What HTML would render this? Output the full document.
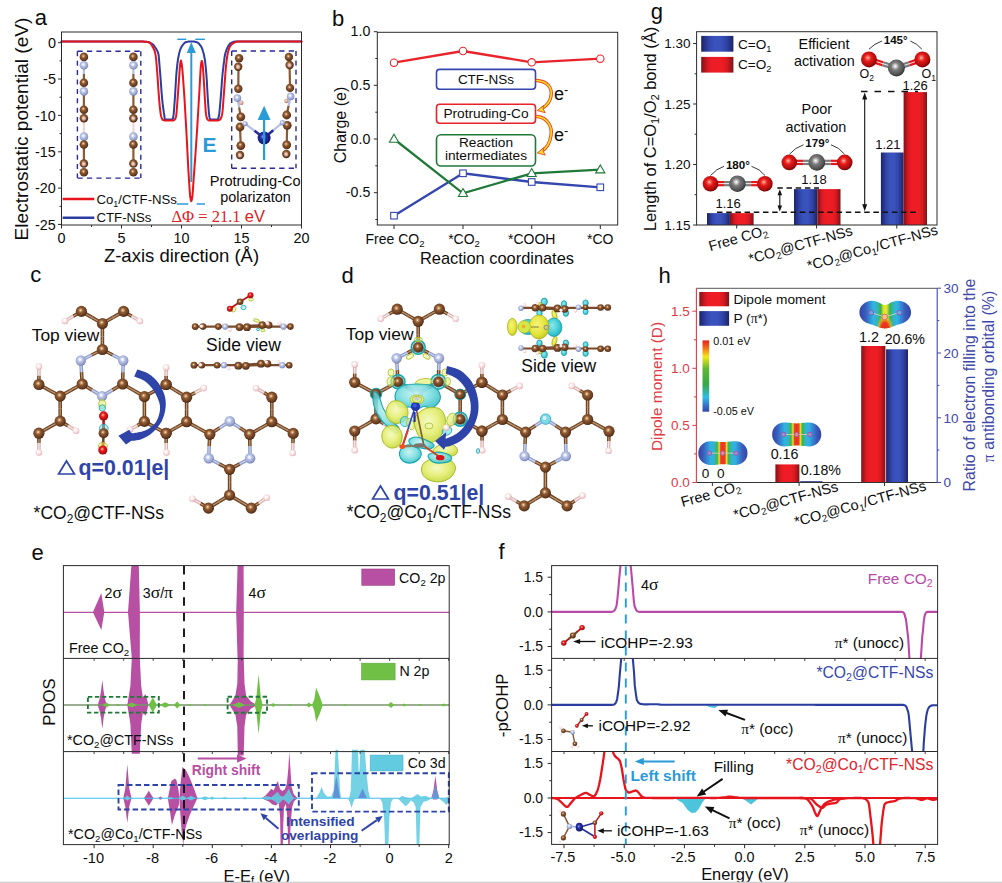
<!DOCTYPE html>
<html><head><meta charset="utf-8"><title>figure</title>
<style>html,body{margin:0;padding:0;background:#fff;}body{width:1002px;height:883px;overflow:hidden;font-family:"Liberation Sans", sans-serif;}svg{display:block;font-family:"Liberation Sans", sans-serif;}</style>
</head><body>
<svg width="1002" height="883" viewBox="0 0 1002 883">
<defs><radialGradient id="gC" cx="0.43" cy="0.4" r="0.64"><stop offset="0" stop-color="#fff2e2"/><stop offset="0.14" stop-color="#d0a070"/><stop offset="0.36" stop-color="#8c5832"/><stop offset="0.78" stop-color="#653a1e"/><stop offset="1" stop-color="#361c0c"/></radialGradient><radialGradient id="gN" cx="0.43" cy="0.4" r="0.64"><stop offset="0" stop-color="#ffffff"/><stop offset="0.14" stop-color="#eef2fc"/><stop offset="0.36" stop-color="#bcc6e6"/><stop offset="0.78" stop-color="#929ecb"/><stop offset="1" stop-color="#626e9e"/></radialGradient><radialGradient id="gH" cx="0.43" cy="0.4" r="0.64"><stop offset="0" stop-color="#ffffff"/><stop offset="0.14" stop-color="#ffffff"/><stop offset="0.36" stop-color="#fdeeee"/><stop offset="0.78" stop-color="#f0c8cc"/><stop offset="1" stop-color="#d49ca6"/></radialGradient><radialGradient id="gHs" cx="0.43" cy="0.4" r="0.64"><stop offset="0" stop-color="#fff8f4"/><stop offset="0.14" stop-color="#f4dcd4"/><stop offset="0.36" stop-color="#e0b8b0"/><stop offset="0.78" stop-color="#c09480"/><stop offset="1" stop-color="#8a5a40"/></radialGradient><radialGradient id="gO" cx="0.43" cy="0.4" r="0.64"><stop offset="0" stop-color="#ffe0d8"/><stop offset="0.14" stop-color="#ff7a68"/><stop offset="0.36" stop-color="#e8181c"/><stop offset="0.78" stop-color="#b80c10"/><stop offset="1" stop-color="#6a0406"/></radialGradient><radialGradient id="gCo" cx="0.43" cy="0.4" r="0.64"><stop offset="0" stop-color="#c8d0ff"/><stop offset="0.14" stop-color="#5a6ad8"/><stop offset="0.36" stop-color="#2530a0"/><stop offset="0.78" stop-color="#151c78"/><stop offset="1" stop-color="#080c44"/></radialGradient><radialGradient id="gG" cx="0.43" cy="0.4" r="0.64"><stop offset="0" stop-color="#ffffff"/><stop offset="0.14" stop-color="#d0d0d0"/><stop offset="0.36" stop-color="#7a7a7a"/><stop offset="0.78" stop-color="#505050"/><stop offset="1" stop-color="#222222"/></radialGradient><radialGradient id="gR" cx="0.43" cy="0.4" r="0.64"><stop offset="0" stop-color="#ffd8d0"/><stop offset="0.14" stop-color="#ff6a5c"/><stop offset="0.36" stop-color="#e41a1a"/><stop offset="0.78" stop-color="#a80c0c"/><stop offset="1" stop-color="#5a0303"/></radialGradient></defs>
<rect x="0" y="0" width="1002" height="883" fill="#ffffff"/>
<g id="pa"><path d="M61.5 41.6 L62 41.6 L62.5 41.6 L62.9 41.6 L63.4 41.6 L63.9 41.6 L64.4 41.6 L64.9 41.6 L65.3 41.6 L65.8 41.6 L66.3 41.6 L66.8 41.6 L67.3 41.6 L67.8 41.6 L68.2 41.6 L68.7 41.6 L69.2 41.6 L69.7 41.6 L70.2 41.6 L70.6 41.6 L71.1 41.6 L71.6 41.6 L72.1 41.6 L72.6 41.6 L73 41.6 L73.5 41.6 L74 41.6 L74.5 41.6 L75 41.6 L75.4 41.6 L75.9 41.6 L76.4 41.6 L76.9 41.6 L77.4 41.6 L77.9 41.6 L78.3 41.6 L78.8 41.6 L79.3 41.6 L79.8 41.6 L80.3 41.6 L80.7 41.6 L81.2 41.6 L81.7 41.6 L82.2 41.6 L82.7 41.6 L83.1 41.6 L83.6 41.6 L84.1 41.6 L84.6 41.6 L85.1 41.6 L85.5 41.6 L86 41.6 L86.5 41.6 L87 41.6 L87.5 41.6 L88 41.6 L88.4 41.6 L88.9 41.6 L89.4 41.6 L89.9 41.6 L90.4 41.6 L90.8 41.6 L91.3 41.6 L91.8 41.6 L92.3 41.6 L92.8 41.6 L93.2 41.6 L93.7 41.6 L94.2 41.6 L94.7 41.6 L95.2 41.6 L95.6 41.6 L96.1 41.6 L96.6 41.6 L97.1 41.6 L97.6 41.6 L98.1 41.6 L98.5 41.6 L99 41.6 L99.5 41.6 L100 41.6 L100.5 41.6 L100.9 41.6 L101.4 41.6 L101.9 41.6 L102.4 41.6 L102.9 41.6 L103.3 41.6 L103.8 41.6 L104.3 41.6 L104.8 41.6 L105.3 41.6 L105.7 41.6 L106.2 41.6 L106.7 41.6 L107.2 41.6 L107.7 41.6 L108.2 41.6 L108.6 41.6 L109.1 41.6 L109.6 41.6 L110.1 41.6 L110.6 41.6 L111 41.6 L111.5 41.6 L112 41.6 L112.5 41.6 L113 41.6 L113.4 41.6 L113.9 41.6 L114.4 41.6 L114.9 41.6 L115.4 41.6 L115.8 41.6 L116.3 41.6 L116.8 41.6 L117.3 41.6 L117.8 41.6 L118.3 41.6 L118.7 41.6 L119.2 41.6 L119.7 41.6 L120.2 41.6 L120.7 41.6 L121.1 41.6 L121.6 41.6 L122.1 41.6 L122.6 41.6 L123.1 41.6 L123.5 41.6 L124 41.6 L124.5 41.6 L125 41.6 L125.5 41.6 L125.9 41.6 L126.4 41.6 L126.9 41.6 L127.4 41.6 L127.9 41.6 L128.4 41.6 L128.8 41.6 L129.3 41.6 L129.8 41.6 L130.3 41.6 L130.8 41.6 L131.2 41.6 L131.7 41.6 L132.2 41.6 L132.7 41.6 L133.2 41.6 L133.6 41.6 L134.1 41.6 L134.6 41.6 L135.1 41.6 L135.6 41.6 L136 41.6 L136.5 41.6 L137 41.6 L137.5 41.6 L138 41.6 L138.5 41.6 L138.9 41.6 L139.4 41.6 L139.9 41.6 L140.4 41.6 L140.9 41.6 L141.3 41.6 L141.8 41.6 L142 41.6 L142.3 41.6 L142.8 41.6 L143.3 41.6 L143.7 41.6 L144.2 41.7 L144.7 41.7 L145.2 41.7 L145.7 41.8 L146.1 41.8 L146.6 41.8 L147.1 41.9 L147.6 42 L148 42 L148.1 42 L148.6 42.1 L149 42.2 L149.5 42.4 L150 42.6 L150.5 42.9 L151 43.1 L151.4 43.5 L151.9 43.8 L152.4 44.1 L152.9 44.5 L152.9 44.5 L153.4 44.9 L153.8 45.4 L154.3 46.1 L154.8 46.7 L155.3 47.5 L155.8 48.3 L155.9 48.5 L156.2 49.1 L156.7 49.8 L157.2 50.7 L157.7 51.8 L158.2 53.2 L158.4 54 L158.7 55.5 L159.1 60.3 L159.6 66.5 L159.9 70 L160.1 72.4 L160.6 78.9 L161.1 85.6 L161.4 89.9 L161.5 91.6 L162 97.2 L162.5 102.3 L162.9 106 L163 106.7 L163.5 110 L163.9 113 L164.4 116.2 L164.4 116.4 L164.7 119 L164.9 119.2 L165.4 119.5 L165.9 119.6 L165.9 119.6 L166.3 119.6 L166.8 119.6 L167.3 119.6 L167.8 119.6 L168.3 119.6 L168.8 119.6 L169.2 119.6 L169.7 119.6 L170.2 119.6 L170.7 119.6 L171.2 119.6 L171.6 119.6 L171.9 119.6 L172.1 119.5 L172.6 119 L172.9 118.5 L173.1 117.9 L173.6 114.9 L173.7 113.8 L174 110.3 L174.5 103.6 L174.9 98 L175 96.4 L175.5 87.9 L176 79.7 L176.1 77.9 L176.4 73.6 L176.9 68.2 L177.4 63.6 L177.9 59.9 L177.9 59.9 L178.4 57 L178.9 54.6 L179.3 52.6 L179.5 52 L179.8 50.9 L180.3 49.5 L180.8 48.2 L181.3 47.2 L181.5 46.8 L181.7 46.4 L182.2 45.7 L182.7 45.1 L183.2 44.4 L183.7 43.9 L184.1 43.4 L184.6 42.9 L185.1 42.5 L185.6 42.3 L186.1 42.1 L186.3 42 L186.6 41.9 L187 41.9 L187.5 41.8 L188 41.7 L188.5 41.6 L189 41.5 L189.4 41.5 L189.9 41.5 L190.4 41.4 L190.9 41.4 L191.3 41.4 L191.4 41.4 L191.8 41.4 L192.3 41.4 L192.8 41.5 L193.3 41.5 L193.8 41.6 L194.2 41.6 L194.7 41.7 L195.2 41.8 L195.7 41.9 L196.2 42 L196.3 42 L196.7 42.1 L197.1 42.3 L197.6 42.6 L198.1 42.9 L198.6 43.4 L199.1 43.8 L199.5 44.4 L200 45 L200.5 45.6 L201 46.3 L201.3 46.8 L201.5 47.1 L201.9 48.1 L202.4 49.4 L202.9 51 L203.2 52 L203.4 52.6 L203.9 54.5 L204.3 56.7 L204.8 59.4 L204.9 59.9 L205.3 63.1 L205.8 67.9 L206.3 73.6 L206.6 77.9 L206.8 80 L207.2 88.3 L207.7 96.7 L207.8 98 L208.2 103.9 L208.7 110.5 L209 113.8 L209.2 115 L209.6 118 L209.8 118.5 L210.1 119 L210.6 119.5 L210.8 119.6 L211.1 119.6 L211.6 119.6 L212 119.6 L212.5 119.6 L213 119.6 L213.5 119.6 L214 119.6 L214.4 119.6 L214.9 119.6 L215.4 119.6 L215.9 119.6 L216.4 119.6 L216.8 119.6 L216.9 119.6 L217.3 119.5 L217.8 119.2 L218 119 L218.3 118.4 L218.8 116.3 L219.2 113.8 L219.3 113.4 L219.7 109.3 L220.2 103.8 L220.7 98 L220.7 98 L221.2 91.7 L221.7 84.8 L222.1 78.6 L222.2 77.9 L222.6 73.5 L223.1 69 L223.6 64.9 L223.7 64 L224.1 61.2 L224.5 57.6 L225 54.8 L225.2 54 L225.5 52.8 L226 51.2 L226.5 49.8 L227 48.6 L227.4 47.6 L227.5 47.5 L227.9 46.7 L228.4 45.9 L228.9 45.1 L229.4 44.4 L229.8 43.8 L230.3 43.4 L230.6 43.2 L230.8 43.1 L231.3 42.8 L231.8 42.6 L232.2 42.4 L232.7 42.2 L233.2 42 L233.7 41.8 L234.2 41.7 L234.6 41.6 L235.1 41.6 L235.4 41.6 L235.6 41.6 L236.1 41.6 L236.6 41.6 L237.1 41.6 L237.5 41.6 L238 41.6 L238.5 41.6 L239 41.6 L239.5 41.6 L239.9 41.6 L240.4 41.6 L240.9 41.6 L241.4 41.6 L241.9 41.6 L242.3 41.6 L242.8 41.6 L243.3 41.6 L243.8 41.6 L244.3 41.6 L244.7 41.6 L245.2 41.6 L245.7 41.6 L246.2 41.6 L246.7 41.6 L247.2 41.6 L247.6 41.6 L248.1 41.6 L248.6 41.6 L249.1 41.6 L249.6 41.6 L250 41.6 L250.5 41.6 L251 41.6 L251.5 41.6 L252 41.6 L252.4 41.6 L252.9 41.6 L253.4 41.6 L253.9 41.6 L254.4 41.6 L254.8 41.6 L255.3 41.6 L255.8 41.6 L256.3 41.6 L256.8 41.6 L257.3 41.6 L257.7 41.6 L258.2 41.6 L258.7 41.6 L259.2 41.6 L259.7 41.6 L260.1 41.6 L260.6 41.6 L261.1 41.6 L261.6 41.6 L262.1 41.6 L262.5 41.6 L263 41.6 L263.5 41.6 L264 41.6 L264.5 41.6 L264.9 41.6 L265.4 41.6 L265.9 41.6 L266.4 41.6 L266.9 41.6 L267.4 41.6 L267.8 41.6 L268.3 41.6 L268.8 41.6 L269.3 41.6 L269.8 41.6 L270.2 41.6 L270.7 41.6 L271.2 41.6 L271.7 41.6 L272.2 41.6 L272.6 41.6 L273.1 41.6 L273.6 41.6 L274.1 41.6 L274.6 41.6 L275 41.6 L275.5 41.6 L276 41.6 L276.5 41.6 L277 41.6 L277.5 41.6 L277.9 41.6 L278.4 41.6 L278.9 41.6 L279.4 41.6 L279.9 41.6 L280.3 41.6 L280.8 41.6 L281.3 41.6 L281.8 41.6 L282.3 41.6 L282.7 41.6 L283.2 41.6 L283.7 41.6 L284.2 41.6 L284.7 41.6 L285.1 41.6 L285.6 41.6 L286.1 41.6 L286.6 41.6 L287.1 41.6 L287.6 41.6 L288 41.6 L288.5 41.6 L289 41.6 L289.5 41.6 L290 41.6 L290.4 41.6 L290.9 41.6 L291.4 41.6 L291.9 41.6 L292.4 41.6 L292.8 41.6 L293.3 41.6 L293.8 41.6 L294.3 41.6 L294.8 41.6 L295.2 41.6 L295.7 41.6 L296.2 41.6 L296.7 41.6 L297.2 41.6 L297.7 41.6 L298.1 41.6 L298.6 41.6 L299.1 41.6 L299.6 41.6 L300.1 41.6 L300.5 41.6 L301 41.6 L301.5 41.6" fill="none" stroke="#2b3ea0" stroke-width="2" stroke-linejoin="round" stroke-linecap="round"/>
<path d="M61.5 41.6 L61.9 41.6 L62.3 41.6 L62.7 41.6 L63.1 41.6 L63.5 41.6 L63.9 41.6 L64.3 41.6 L64.7 41.6 L65.1 41.6 L65.5 41.6 L65.9 41.6 L66.3 41.6 L66.7 41.6 L67.1 41.6 L67.5 41.6 L67.9 41.6 L68.3 41.6 L68.7 41.6 L69.1 41.6 L69.5 41.6 L69.9 41.6 L70.3 41.6 L70.7 41.6 L71.1 41.6 L71.5 41.6 L71.9 41.6 L72.3 41.6 L72.7 41.6 L73.1 41.6 L73.5 41.6 L73.9 41.6 L74.3 41.6 L74.7 41.6 L75.1 41.6 L75.5 41.6 L75.9 41.6 L76.3 41.6 L76.7 41.6 L77.1 41.6 L77.5 41.6 L77.9 41.6 L78.3 41.6 L78.7 41.6 L79.1 41.6 L79.5 41.6 L79.9 41.6 L80.3 41.6 L80.7 41.6 L81.1 41.6 L81.5 41.6 L81.9 41.6 L82.3 41.6 L82.7 41.6 L83.1 41.6 L83.5 41.6 L83.9 41.6 L84.3 41.6 L84.7 41.6 L85.1 41.6 L85.5 41.6 L85.9 41.6 L86.3 41.6 L86.7 41.6 L87.1 41.6 L87.5 41.6 L87.9 41.6 L88.3 41.6 L88.7 41.6 L89.1 41.6 L89.5 41.6 L89.9 41.6 L90.3 41.6 L90.7 41.6 L91.1 41.6 L91.6 41.6 L92 41.6 L92.4 41.6 L92.8 41.6 L93.2 41.6 L93.6 41.6 L94 41.6 L94.4 41.6 L94.8 41.6 L95.2 41.6 L95.6 41.6 L96 41.6 L96.4 41.6 L96.8 41.6 L97.2 41.6 L97.6 41.6 L98 41.6 L98.4 41.6 L98.8 41.6 L99.2 41.6 L99.6 41.6 L100 41.6 L100.4 41.6 L100.8 41.6 L101.2 41.6 L101.6 41.6 L102 41.6 L102.4 41.6 L102.8 41.6 L103.2 41.6 L103.6 41.6 L104 41.6 L104.4 41.6 L104.8 41.6 L105.2 41.6 L105.6 41.6 L106 41.6 L106.4 41.6 L106.8 41.6 L107.2 41.6 L107.6 41.6 L108 41.6 L108.4 41.6 L108.8 41.6 L109.2 41.6 L109.6 41.6 L110 41.6 L110.4 41.6 L110.8 41.6 L111.2 41.6 L111.6 41.6 L112 41.6 L112.4 41.6 L112.8 41.6 L113.2 41.6 L113.6 41.6 L114 41.6 L114.4 41.6 L114.8 41.6 L115.2 41.6 L115.6 41.6 L116 41.6 L116.4 41.6 L116.8 41.6 L117.2 41.6 L117.6 41.6 L118 41.6 L118.4 41.6 L118.8 41.6 L119.2 41.6 L119.6 41.6 L120 41.6 L120.4 41.6 L120.8 41.6 L121.2 41.6 L121.6 41.6 L122 41.6 L122.4 41.6 L122.8 41.6 L123.2 41.6 L123.6 41.6 L124 41.6 L124.4 41.6 L124.8 41.6 L125.2 41.6 L125.6 41.6 L126 41.6 L126.4 41.6 L126.8 41.6 L127.2 41.6 L127.6 41.6 L128 41.6 L128.4 41.6 L128.8 41.6 L129.2 41.6 L129.6 41.6 L130 41.6 L130.4 41.6 L130.8 41.6 L131.2 41.6 L131.6 41.6 L132 41.6 L132.4 41.6 L132.8 41.6 L133.2 41.6 L133.6 41.6 L134 41.6 L134.4 41.6 L134.8 41.6 L135.2 41.6 L135.6 41.6 L136 41.6 L136.4 41.6 L136.8 41.6 L137.2 41.6 L137.6 41.6 L138 41.6 L138.4 41.6 L138.8 41.6 L139.2 41.6 L139.6 41.6 L140 41.6 L140 41.6 L140.4 41.6 L140.8 41.6 L141.2 41.6 L141.6 41.6 L142 41.6 L142.4 41.6 L142.8 41.6 L143.2 41.6 L143.6 41.7 L144 41.7 L144.4 41.7 L144.8 41.7 L145.2 41.7 L145.6 41.7 L146 41.8 L146.4 41.8 L146.8 41.8 L146.8 41.8 L147.2 41.9 L147.6 41.9 L148 42.1 L148.4 42.2 L148.8 42.4 L149.2 42.6 L149.6 42.8 L150 43 L150 43 L150.4 43.4 L150.8 43.8 L151.2 44.4 L151.7 45.1 L152.1 45.8 L152.5 46.5 L152.7 47 L152.9 47.3 L153.3 48 L153.7 48.8 L154.1 49.7 L154.5 50.7 L154.9 51.9 L155.3 53.4 L155.4 54 L155.7 55.5 L156.1 59 L156.5 63.5 L156.9 68.3 L157 70 L157.3 73.3 L157.7 79.1 L158.1 85.1 L158.4 89.9 L158.5 90.7 L158.9 96.1 L159.3 101.3 L159.7 105.7 L159.7 106 L160.1 109.3 L160.5 112.6 L160.9 115.2 L161.1 116.2 L161.3 116.8 L161.7 118 L162.1 119 L162.5 119.6 L162.7 119.8 L162.9 119.9 L163.3 120.1 L163.7 120.2 L164.1 120.3 L164.5 120.4 L164.7 120.4 L164.9 120.4 L165.3 120.4 L165.7 120.4 L166.1 120.4 L166.5 120.4 L166.9 120.4 L167.3 120.4 L167.7 120.4 L168.1 120.4 L168.5 120.4 L168.9 120.4 L169.3 120.4 L169.7 120.4 L170.1 120.4 L170.5 120.4 L170.9 120.4 L171.3 120.4 L171.7 120.4 L172.1 120.4 L172.5 120.4 L172.9 120.4 L173.1 120.4 L173.3 120.4 L173.7 120.3 L174.1 120.1 L174.5 119.8 L174.8 119.5 L174.9 119.4 L175.3 118.8 L175.7 117.7 L176.1 116.2 L176.1 116.2 L176.5 113.3 L176.9 108.3 L177.3 102.7 L177.5 100 L177.7 97.5 L178.1 92 L178.5 86.3 L178.9 80.6 L179.1 77.9 L179.3 75.2 L179.7 69.4 L180.1 64.8 L180.2 64 L180.5 62 L180.9 60.5 L180.9 60.5 L181.3 61.7 L181.7 64 L181.7 64 L182.1 67 L182.5 71.2 L182.9 76.1 L183.3 81.5 L183.7 87.2 L183.9 89.9 L184.1 92.8 L184.5 98.9 L184.9 105.5 L185.3 112.4 L185.7 119.5 L186.1 126.6 L186.3 130 L186.5 133.7 L186.9 141.3 L187.3 149.1 L187.7 157 L188.1 164.7 L188.5 172 L188.9 178.7 L189 180 L189.3 184.8 L189.7 190.8 L190.1 195.6 L190.3 197 L190.5 198.3 L190.9 200.4 L191.3 201.2 L191.3 201.2 L191.7 200.2 L192.1 198.1 L192.3 197 L192.5 195.2 L192.9 190.1 L193.3 184.1 L193.6 180 L193.7 178.4 L194.1 172.9 L194.5 167.4 L194.9 161.8 L195.3 156.2 L195.7 150.5 L196.1 144.7 L196.5 138.7 L196.9 132.7 L197.1 130 L197.3 126.4 L197.7 119.9 L198.1 113.2 L198.5 106.3 L198.9 99.5 L199.3 92.7 L199.5 89.9 L199.7 85.8 L200.1 78.1 L200.5 70.7 L200.9 65.3 L201.1 64 L201.3 62.7 L201.7 61.1 L201.9 60.9 L202.1 61.4 L202.5 63.6 L202.6 64 L202.9 67.1 L203.3 72.5 L203.7 77.9 L203.7 78.4 L204.1 85 L204.5 92.2 L204.9 99.1 L205 100 L205.3 105.5 L205.7 111.3 L206 113.8 L206.1 114.7 L206.5 116.7 L206.9 118.2 L207.3 119 L207.3 119.1 L207.7 119.6 L208.1 120 L208.5 120.3 L208.9 120.4 L209 120.4 L209.3 120.4 L209.7 120.4 L210.1 120.4 L210.5 120.4 L210.9 120.4 L211.3 120.4 L211.8 120.4 L212.2 120.4 L212.6 120.4 L213 120.4 L213.4 120.4 L213.8 120.4 L214.2 120.4 L214.6 120.4 L215 120.4 L215.4 120.4 L215.8 120.4 L216.2 120.4 L216.6 120.4 L217 120.4 L217.4 120.4 L217.8 120.4 L218 120.4 L218.2 120.4 L218.6 120.3 L219 120.2 L219.4 119.9 L219.8 119.7 L220 119.5 L220.2 119.4 L220.6 118.8 L221 118 L221.4 116.9 L221.8 115.6 L222.2 113.9 L222.2 113.8 L222.6 110.9 L223 105.8 L223.4 100.4 L223.4 100 L223.8 95.2 L224.2 89.7 L224.6 84.3 L224.6 83.9 L225 78.8 L225.4 73.3 L225.8 68.4 L226 66 L226.2 64.4 L226.6 60.8 L227 57.7 L227.4 55.1 L227.6 54 L227.8 53.2 L228.2 51.6 L228.6 50.1 L229 48.8 L229.4 47.7 L229.8 46.9 L230 46.5 L230.2 46.2 L230.6 45.7 L231 45.2 L231.4 44.7 L231.8 44.3 L232.2 43.9 L232.6 43.6 L233 43.3 L233.4 43 L233.8 42.8 L234.2 42.6 L234.2 42.6 L234.6 42.4 L235 42.3 L235.4 42.1 L235.8 42 L236.2 41.9 L236.6 41.7 L237 41.7 L237.4 41.6 L237.8 41.6 L237.8 41.6 L238.2 41.6 L238.6 41.6 L239 41.6 L239.4 41.6 L239.8 41.6 L240.2 41.6 L240.6 41.6 L241 41.6 L241.4 41.6 L241.8 41.6 L242.2 41.6 L242.6 41.6 L243 41.6 L243.4 41.6 L243.8 41.6 L244.2 41.6 L244.6 41.6 L245 41.6 L245.4 41.6 L245.8 41.6 L246.2 41.6 L246.6 41.6 L247 41.6 L247.4 41.6 L247.8 41.6 L248.2 41.6 L248.6 41.6 L249 41.6 L249.4 41.6 L249.8 41.6 L250.2 41.6 L250.6 41.6 L251 41.6 L251.4 41.6 L251.8 41.6 L252.2 41.6 L252.6 41.6 L253 41.6 L253.4 41.6 L253.8 41.6 L254.2 41.6 L254.6 41.6 L255 41.6 L255.4 41.6 L255.8 41.6 L256.2 41.6 L256.6 41.6 L257 41.6 L257.4 41.6 L257.8 41.6 L258.2 41.6 L258.6 41.6 L259 41.6 L259.4 41.6 L259.8 41.6 L260.2 41.6 L260.6 41.6 L261 41.6 L261.4 41.6 L261.8 41.6 L262.2 41.6 L262.6 41.6 L263 41.6 L263.4 41.6 L263.8 41.6 L264.2 41.6 L264.6 41.6 L265 41.6 L265.4 41.6 L265.8 41.6 L266.2 41.6 L266.6 41.6 L267 41.6 L267.4 41.6 L267.8 41.6 L268.2 41.6 L268.6 41.6 L269 41.6 L269.4 41.6 L269.8 41.6 L270.2 41.6 L270.6 41.6 L271 41.6 L271.4 41.6 L271.9 41.6 L272.3 41.6 L272.7 41.6 L273.1 41.6 L273.5 41.6 L273.9 41.6 L274.3 41.6 L274.7 41.6 L275.1 41.6 L275.5 41.6 L275.9 41.6 L276.3 41.6 L276.7 41.6 L277.1 41.6 L277.5 41.6 L277.9 41.6 L278.3 41.6 L278.7 41.6 L279.1 41.6 L279.5 41.6 L279.9 41.6 L280.3 41.6 L280.7 41.6 L281.1 41.6 L281.5 41.6 L281.9 41.6 L282.3 41.6 L282.7 41.6 L283.1 41.6 L283.5 41.6 L283.9 41.6 L284.3 41.6 L284.7 41.6 L285.1 41.6 L285.5 41.6 L285.9 41.6 L286.3 41.6 L286.7 41.6 L287.1 41.6 L287.5 41.6 L287.9 41.6 L288.3 41.6 L288.7 41.6 L289.1 41.6 L289.5 41.6 L289.9 41.6 L290.3 41.6 L290.7 41.6 L291.1 41.6 L291.5 41.6 L291.9 41.6 L292.3 41.6 L292.7 41.6 L293.1 41.6 L293.5 41.6 L293.9 41.6 L294.3 41.6 L294.7 41.6 L295.1 41.6 L295.5 41.6 L295.9 41.6 L296.3 41.6 L296.7 41.6 L297.1 41.6 L297.5 41.6 L297.9 41.6 L298.3 41.6 L298.7 41.6 L299.1 41.6 L299.5 41.6 L299.9 41.6 L300.3 41.6 L300.7 41.6 L301.1 41.6 L301.5 41.6" fill="none" stroke="#e8141c" stroke-width="2" stroke-linejoin="round" stroke-linecap="round"/>
<line x1="191.3" y1="50" x2="191.3" y2="182" stroke="#2b9bd8" stroke-width="2"/>
<path d="M191.3 42 L195.8 53 L186.8 53 Z" fill="#2b9bd8"/>
<line x1="177.3" y1="39.3" x2="186.3" y2="39.3" stroke="#2b9bd8" stroke-width="1.5"/>
<line x1="195.3" y1="39.3" x2="204.9" y2="39.3" stroke="#2b9bd8" stroke-width="1.5"/>
<line x1="176.7" y1="204" x2="188.3" y2="204" stroke="#2b9bd8" stroke-width="1.5"/>
<line x1="196.7" y1="204" x2="205" y2="204" stroke="#2b9bd8" stroke-width="1.5"/>
<text x="202.5" y="151.7" font-size="21" fill="#2b9bd8" font-weight="bold">E</text>
<rect x="61.5" y="32" width="240" height="193" fill="none" stroke="#2a2a2a" stroke-width="1"/>
<line x1="58" y1="42.7" x2="61.5" y2="42.7" stroke="#2a2a2a" stroke-width="1"/>
<text x="55.9" y="47.8" font-size="14.4" text-anchor="end" fill="#0c0c0c">0</text>
<line x1="58" y1="79" x2="61.5" y2="79" stroke="#2a2a2a" stroke-width="1"/>
<text x="55.9" y="84.1" font-size="14.4" text-anchor="end" fill="#0c0c0c">-5</text>
<line x1="58" y1="115.4" x2="61.5" y2="115.4" stroke="#2a2a2a" stroke-width="1"/>
<text x="55.9" y="120.5" font-size="14.4" text-anchor="end" fill="#0c0c0c">-10</text>
<line x1="58" y1="151.8" x2="61.5" y2="151.8" stroke="#2a2a2a" stroke-width="1"/>
<text x="55.9" y="156.8" font-size="14.4" text-anchor="end" fill="#0c0c0c">-15</text>
<line x1="58" y1="188.1" x2="61.5" y2="188.1" stroke="#2a2a2a" stroke-width="1"/>
<text x="55.9" y="193.2" font-size="14.4" text-anchor="end" fill="#0c0c0c">-20</text>
<line x1="58" y1="224.4" x2="61.5" y2="224.4" stroke="#2a2a2a" stroke-width="1"/>
<text x="55.9" y="229.5" font-size="14.4" text-anchor="end" fill="#0c0c0c">-25</text>
<line x1="59.5" y1="60.9" x2="61.5" y2="60.9" stroke="#2a2a2a" stroke-width="1"/>
<line x1="59.5" y1="97.2" x2="61.5" y2="97.2" stroke="#2a2a2a" stroke-width="1"/>
<line x1="59.5" y1="133.6" x2="61.5" y2="133.6" stroke="#2a2a2a" stroke-width="1"/>
<line x1="59.5" y1="169.9" x2="61.5" y2="169.9" stroke="#2a2a2a" stroke-width="1"/>
<line x1="59.5" y1="206.3" x2="61.5" y2="206.3" stroke="#2a2a2a" stroke-width="1"/>
<line x1="61.5" y1="225" x2="61.5" y2="228.5" stroke="#2a2a2a" stroke-width="1"/>
<text x="61.5" y="243.3" font-size="14.4" text-anchor="middle" fill="#0c0c0c">0</text>
<line x1="121.5" y1="225" x2="121.5" y2="228.5" stroke="#2a2a2a" stroke-width="1"/>
<text x="121.5" y="243.3" font-size="14.4" text-anchor="middle" fill="#0c0c0c">5</text>
<line x1="181.5" y1="225" x2="181.5" y2="228.5" stroke="#2a2a2a" stroke-width="1"/>
<text x="181.5" y="243.3" font-size="14.4" text-anchor="middle" fill="#0c0c0c">10</text>
<line x1="241.5" y1="225" x2="241.5" y2="228.5" stroke="#2a2a2a" stroke-width="1"/>
<text x="241.5" y="243.3" font-size="14.4" text-anchor="middle" fill="#0c0c0c">15</text>
<line x1="301.5" y1="225" x2="301.5" y2="228.5" stroke="#2a2a2a" stroke-width="1"/>
<text x="301.5" y="243.3" font-size="14.4" text-anchor="middle" fill="#0c0c0c">20</text>
<line x1="91.5" y1="225" x2="91.5" y2="227" stroke="#2a2a2a" stroke-width="1"/>
<line x1="151.5" y1="225" x2="151.5" y2="227" stroke="#2a2a2a" stroke-width="1"/>
<line x1="211.5" y1="225" x2="211.5" y2="227" stroke="#2a2a2a" stroke-width="1"/>
<line x1="271.5" y1="225" x2="271.5" y2="227" stroke="#2a2a2a" stroke-width="1"/>
<text x="181.5" y="262" font-size="18.5" text-anchor="middle" fill="#0c0c0c">Z-axis direction (&#197;)</text>
<text x="27.6" y="129" font-size="19.1" text-anchor="middle" fill="#0c0c0c" transform="rotate(-90 27.6 129)">Electrostatic potential (eV)</text>
<text x="34.8" y="24.5" font-size="22" fill="#0c0c0c">a</text>
<line x1="77.4" y1="51.3" x2="140.8" y2="51.3" stroke="#2a2a98" stroke-width="1.4" stroke-dasharray="5.3 4.2"/><line x1="77.4" y1="178.1" x2="140.8" y2="178.1" stroke="#2a2a98" stroke-width="1.4" stroke-dasharray="5.3 4.2"/><line x1="77.4" y1="51.3" x2="77.4" y2="178.1" stroke="#2a2a98" stroke-width="1.4" stroke-dasharray="5 4.4"/><line x1="140.8" y1="51.3" x2="140.8" y2="178.1" stroke="#2a2a98" stroke-width="1.4" stroke-dasharray="5 4.4"/>
<line x1="83.9" y1="65.3" x2="83.9" y2="74" stroke="#b4c0e4" stroke-width="2.2"/><line x1="83.9" y1="74" x2="83.9" y2="82.7" stroke="#8a5a36" stroke-width="2.2"/>
<line x1="83.9" y1="91.4" x2="83.9" y2="109.7" stroke="#8a5a36" stroke-width="2.2" stroke-linecap="round"/>
<line x1="83.9" y1="118.2" x2="83.9" y2="127.4" stroke="#f0d4d4" stroke-width="2.2"/><line x1="83.9" y1="127.4" x2="83.9" y2="136.6" stroke="#f0d4d4" stroke-width="2.2"/>
<line x1="83.9" y1="144.5" x2="83.9" y2="163.5" stroke="#8a5a36" stroke-width="2.2" stroke-linecap="round"/>
<circle cx="83.9" cy="56.9" r="4.3" fill="url(#gC)"/>
<circle cx="83.9" cy="65.3" r="4.3" fill="url(#gN)"/>
<circle cx="83.9" cy="82.7" r="4.3" fill="url(#gC)"/>
<circle cx="83.9" cy="91.4" r="4.3" fill="url(#gN)"/>
<circle cx="83.9" cy="109.7" r="4.3" fill="url(#gC)"/>
<circle cx="83.9" cy="118.2" r="4.3" fill="url(#gC)"/>
<circle cx="83.9" cy="136.6" r="4.3" fill="url(#gN)"/>
<circle cx="83.9" cy="144.5" r="4.3" fill="url(#gC)"/>
<circle cx="83.9" cy="163.5" r="4.3" fill="url(#gC)"/>
<circle cx="83.9" cy="172.2" r="4.3" fill="url(#gC)"/>
<circle cx="83.9" cy="118.6" r="2.3" fill="url(#gHs)"/>
<circle cx="83.9" cy="164.2" r="2.3" fill="url(#gHs)"/>
<line x1="133.4" y1="65.3" x2="133.4" y2="74" stroke="#b4c0e4" stroke-width="2.2"/><line x1="133.4" y1="74" x2="133.4" y2="82.7" stroke="#8a5a36" stroke-width="2.2"/>
<line x1="133.4" y1="91.4" x2="133.4" y2="109.7" stroke="#8a5a36" stroke-width="2.2" stroke-linecap="round"/>
<line x1="133.4" y1="118.2" x2="133.4" y2="127.4" stroke="#f0d4d4" stroke-width="2.2"/><line x1="133.4" y1="127.4" x2="133.4" y2="136.6" stroke="#f0d4d4" stroke-width="2.2"/>
<line x1="133.4" y1="144.5" x2="133.4" y2="163.5" stroke="#8a5a36" stroke-width="2.2" stroke-linecap="round"/>
<circle cx="133.4" cy="56.9" r="4.3" fill="url(#gC)"/>
<circle cx="133.4" cy="65.3" r="4.3" fill="url(#gN)"/>
<circle cx="133.4" cy="82.7" r="4.3" fill="url(#gC)"/>
<circle cx="133.4" cy="91.4" r="4.3" fill="url(#gN)"/>
<circle cx="133.4" cy="109.7" r="4.3" fill="url(#gC)"/>
<circle cx="133.4" cy="118.2" r="4.3" fill="url(#gC)"/>
<circle cx="133.4" cy="136.6" r="4.3" fill="url(#gN)"/>
<circle cx="133.4" cy="144.5" r="4.3" fill="url(#gC)"/>
<circle cx="133.4" cy="163.5" r="4.3" fill="url(#gC)"/>
<circle cx="133.4" cy="172.2" r="4.3" fill="url(#gC)"/>
<circle cx="133.4" cy="118.6" r="2.3" fill="url(#gHs)"/>
<circle cx="133.4" cy="164.2" r="2.3" fill="url(#gHs)"/>
<line x1="231.7" y1="51" x2="296" y2="51" stroke="#2a2a98" stroke-width="1.4" stroke-dasharray="5.3 4.2"/><line x1="231.7" y1="168.3" x2="296" y2="168.3" stroke="#2a2a98" stroke-width="1.4" stroke-dasharray="5.3 4.2"/><line x1="231.7" y1="51" x2="231.7" y2="168.3" stroke="#2a2a98" stroke-width="1.4" stroke-dasharray="5 4.4"/><line x1="296" y1="51" x2="296" y2="168.3" stroke="#2a2a98" stroke-width="1.4" stroke-dasharray="5 4.4"/>
<line x1="238.5" y1="66" x2="238.3" y2="88.8" stroke="#8a5a36" stroke-width="2.2" stroke-linecap="round"/>
<line x1="237.4" y1="98.1" x2="239.1" y2="107.4" stroke="#b4c0e4" stroke-width="2.2"/><line x1="239.1" y1="107.4" x2="240.8" y2="116.8" stroke="#8a5a36" stroke-width="2.2"/>
<line x1="240" y1="127" x2="240.8" y2="145.6" stroke="#8a5a36" stroke-width="2.2" stroke-linecap="round"/>
<line x1="245" y1="123.6" x2="264.1" y2="138" stroke="#b4c0e4" stroke-width="2.2"/>
<line x1="254.5" y1="130.8" x2="264.1" y2="138" stroke="#27309a" stroke-width="2.6"/>
<line x1="282.4" y1="122.7" x2="264.1" y2="138" stroke="#b4c0e4" stroke-width="2.2"/>
<line x1="273.2" y1="130.3" x2="264.1" y2="138" stroke="#27309a" stroke-width="2.6"/>
<line x1="289.6" y1="65" x2="290" y2="87.9" stroke="#8a5a36" stroke-width="2.2" stroke-linecap="round"/>
<line x1="290.6" y1="96.4" x2="288.6" y2="105.7" stroke="#b4c0e4" stroke-width="2.2"/><line x1="288.6" y1="105.7" x2="286.7" y2="115" stroke="#8a5a36" stroke-width="2.2"/>
<line x1="287.2" y1="125.3" x2="286.7" y2="144.8" stroke="#8a5a36" stroke-width="2.2" stroke-linecap="round"/>
<circle cx="239.1" cy="58.2" r="4.2" fill="url(#gC)"/>
<circle cx="238.2" cy="66.7" r="4.2" fill="url(#gC)"/>
<circle cx="238.3" cy="88.8" r="4.2" fill="url(#gC)"/>
<circle cx="237.4" cy="98.1" r="3.8" fill="url(#gN)"/>
<circle cx="240.8" cy="116.8" r="4.4" fill="url(#gC)"/>
<circle cx="240" cy="127" r="4.4" fill="url(#gC)"/>
<circle cx="245" cy="123.6" r="2.6" fill="url(#gN)"/>
<circle cx="240.8" cy="145.6" r="4.4" fill="url(#gC)"/>
<circle cx="240" cy="155" r="4.2" fill="url(#gC)"/>
<circle cx="288.9" cy="57" r="4.2" fill="url(#gC)"/>
<circle cx="289.6" cy="65" r="4.2" fill="url(#gC)"/>
<circle cx="290" cy="87.9" r="4.2" fill="url(#gC)"/>
<circle cx="290.6" cy="96.4" r="3.8" fill="url(#gN)"/>
<circle cx="286.7" cy="115" r="4.4" fill="url(#gC)"/>
<circle cx="287.2" cy="125.3" r="4.4" fill="url(#gC)"/>
<circle cx="282.4" cy="122.7" r="2.6" fill="url(#gN)"/>
<circle cx="286.7" cy="144.8" r="4.4" fill="url(#gC)"/>
<circle cx="286.3" cy="154" r="4.2" fill="url(#gC)"/>
<circle cx="238.2" cy="67.2" r="2.2" fill="url(#gHs)"/>
<circle cx="241.3" cy="102.7" r="2.2" fill="url(#gHs)"/>
<circle cx="240" cy="155.5" r="2.2" fill="url(#gHs)"/>
<circle cx="289.6" cy="65.5" r="2.2" fill="url(#gHs)"/>
<circle cx="286.3" cy="101" r="2.2" fill="url(#gHs)"/>
<circle cx="286.3" cy="154.5" r="2.2" fill="url(#gHs)"/>
<circle cx="264.1" cy="138" r="6.5" fill="url(#gCo)"/>
<line x1="264.1" y1="117" x2="264.1" y2="160" stroke="#2b9bd8" stroke-width="2.2"/>
<path d="M264.1 105.7 L270.5 120.1 L257.7 120.1 Z" fill="#2b9bd8"/>
<text x="255.3" y="185.5" font-size="14.6" text-anchor="middle" fill="#0c0c0c">Protruding-Co</text>
<text x="255.5" y="202" font-size="14.4" text-anchor="middle" fill="#0c0c0c">polarizaton</text>
<line x1="62.7" y1="199" x2="94.3" y2="199" stroke="#e8141c" stroke-width="2.4"/>
<line x1="62.7" y1="217.7" x2="94.3" y2="217.7" stroke="#2b3ea0" stroke-width="2.4"/>
<text x="96.5" y="203.5" font-size="13.2" fill="#0c0c0c">Co<tspan dy="3" font-size="68%">1</tspan><tspan dy="-3">&#8203;</tspan>/CTF-NSs</text>
<text x="96.5" y="222.3" font-size="13.2" fill="#0c0c0c">CTF-NSs</text>
<text x="171.5" y="222" font-size="16.5" fill="#e02020" style="font-family:'Liberation Serif',serif">&#916;&#934; = 21.1 <tspan style="font-family:'Liberation Sans',sans-serif">eV</tspan></text></g>
<g id="pb"><rect x="377.3" y="32.3" width="240.4" height="192.7" fill="none" stroke="#2a2a2a" stroke-width="1"/>
<path d="M394 215.7 L463 173.3 L531.7 182 L600.3 187.3" fill="none" stroke="#3546ae" stroke-width="2.3"/>
<path d="M394 139 L463 193.3 L531.7 173.3 L600.3 169.7" fill="none" stroke="#1f7a38" stroke-width="2.3"/>
<path d="M394 62.7 L463 51 L531.7 62.3 L600.3 58.7" fill="none" stroke="#e8232b" stroke-width="2.3"/>
<rect x="390.7" y="212.4" width="6.6" height="6.6" fill="#fff" stroke="#3546ae" stroke-width="1.1"/>
<rect x="459.7" y="170" width="6.6" height="6.6" fill="#fff" stroke="#3546ae" stroke-width="1.1"/>
<rect x="528.4" y="178.7" width="6.6" height="6.6" fill="#fff" stroke="#3546ae" stroke-width="1.1"/>
<rect x="597" y="184" width="6.6" height="6.6" fill="#fff" stroke="#3546ae" stroke-width="1.1"/>
<path d="M394 134.2 L398.6 142.2 L389.4 142.2 Z" fill="#fff" stroke="#1f7a38" stroke-width="1.1"/>
<path d="M463 188.5 L467.6 196.5 L458.4 196.5 Z" fill="#fff" stroke="#1f7a38" stroke-width="1.1"/>
<path d="M531.7 168.5 L536.3 176.5 L527.1 176.5 Z" fill="#fff" stroke="#1f7a38" stroke-width="1.1"/>
<path d="M600.3 164.9 L604.9 172.9 L595.7 172.9 Z" fill="#fff" stroke="#1f7a38" stroke-width="1.1"/>
<circle cx="394" cy="62.7" r="3.7" fill="#fff" stroke="#e8232b" stroke-width="1.1"/>
<circle cx="463" cy="51" r="3.7" fill="#fff" stroke="#e8232b" stroke-width="1.1"/>
<circle cx="531.7" cy="62.3" r="3.7" fill="#fff" stroke="#e8232b" stroke-width="1.1"/>
<circle cx="600.3" cy="58.7" r="3.7" fill="#fff" stroke="#e8232b" stroke-width="1.1"/>
<line x1="373.8" y1="31.7" x2="377.3" y2="31.7" stroke="#2a2a2a" stroke-width="1"/>
<text x="370.3" y="36.3" font-size="14.2" text-anchor="end" fill="#0c0c0c">1.0</text>
<line x1="373.8" y1="85.3" x2="377.3" y2="85.3" stroke="#2a2a2a" stroke-width="1"/>
<text x="370.3" y="89.9" font-size="14.2" text-anchor="end" fill="#0c0c0c">0.5</text>
<line x1="373.8" y1="139" x2="377.3" y2="139" stroke="#2a2a2a" stroke-width="1"/>
<text x="370.3" y="143.6" font-size="14.2" text-anchor="end" fill="#0c0c0c">0.0</text>
<line x1="373.8" y1="192.7" x2="377.3" y2="192.7" stroke="#2a2a2a" stroke-width="1"/>
<text x="370.3" y="197.2" font-size="14.2" text-anchor="end" fill="#0c0c0c">-0.5</text>
<line x1="375.3" y1="58.5" x2="377.3" y2="58.5" stroke="#2a2a2a" stroke-width="1"/>
<line x1="375.3" y1="112.2" x2="377.3" y2="112.2" stroke="#2a2a2a" stroke-width="1"/>
<line x1="375.3" y1="165.8" x2="377.3" y2="165.8" stroke="#2a2a2a" stroke-width="1"/>
<line x1="375.3" y1="219.5" x2="377.3" y2="219.5" stroke="#2a2a2a" stroke-width="1"/>
<line x1="394" y1="225" x2="394" y2="229" stroke="#2a2a2a" stroke-width="1"/>
<line x1="463" y1="225" x2="463" y2="229" stroke="#2a2a2a" stroke-width="1"/>
<line x1="531.7" y1="225" x2="531.7" y2="229" stroke="#2a2a2a" stroke-width="1"/>
<line x1="600.3" y1="225" x2="600.3" y2="229" stroke="#2a2a2a" stroke-width="1"/>
<text x="395" y="243.5" font-size="14" text-anchor="middle" fill="#0c0c0c">Free CO<tspan dy="3" font-size="68%">2</tspan><tspan dy="-3">&#8203;</tspan></text>
<text x="464" y="243.5" font-size="14" text-anchor="middle" fill="#0c0c0c">*CO<tspan dy="3" font-size="68%">2</tspan><tspan dy="-3">&#8203;</tspan></text>
<text x="531.7" y="243.5" font-size="14" text-anchor="middle" fill="#0c0c0c">*COOH</text>
<text x="600.3" y="243.5" font-size="14" text-anchor="middle" fill="#0c0c0c">*CO</text>
<text x="497" y="263.5" font-size="16.4" text-anchor="middle" fill="#0c0c0c">Reaction coordinates</text>
<text x="345.5" y="125" font-size="16" text-anchor="middle" fill="#0c0c0c" transform="rotate(-90 345.5 125)">Charge (e)</text>
<text x="332.1" y="25.5" font-size="22" fill="#0c0c0c">b</text>
<rect x="436.5" y="69.4" width="99" height="19.9" fill="#fff" stroke="#3546ae" stroke-width="1.6" rx="3.2"/>
<rect x="436.5" y="104.2" width="99" height="19.1" fill="#fff" stroke="#e8232b" stroke-width="1.6" rx="3.2"/>
<rect x="436.5" y="134.8" width="99" height="31.2" fill="#fff" stroke="#1f7a38" stroke-width="1.6" rx="4.5"/>
<text x="486" y="84.2" font-size="13.5" text-anchor="middle" fill="#0c0c0c">CTF-NSs</text>
<text x="486" y="118.4" font-size="13.7" text-anchor="middle" fill="#0c0c0c">Protruding-Co</text>
<text x="486" y="146.8" font-size="13.7" text-anchor="middle" fill="#0c0c0c">Reaction</text>
<text x="486" y="159.6" font-size="13.7" text-anchor="middle" fill="#0c0c0c">intermediates</text>
<linearGradient id="yarr" x1="0" y1="0" x2="0" y2="1"><stop offset="0" stop-color="#f0e020"/><stop offset="1" stop-color="#ffd820"/></linearGradient>
<path d="M537 80.5 C548 81.5 552.5 88.2 551 96.2 C550 103.2 546 106 542 108.5" fill="none" stroke="#e8452a" stroke-width="3.4" stroke-linecap="round"/><path d="M537 80.5 C548 81.5 552.5 88.2 551 96.2 C550 103.2 546 106 542 108.5" fill="none" stroke="#f2e21c" stroke-width="1.6" stroke-linecap="round"/><path d="M537.3 110.5 L543.8 105.3 L543.1 108.9 L545.3 112.7 Z" fill="#f2e21c" stroke="#e8452a" stroke-width="0.9" stroke-linejoin="round"/>
<path d="M537 116.5 C548 117.5 552.5 127.4 551 135.4 C550 142.4 546 148.4 542 150.9" fill="none" stroke="#e8452a" stroke-width="3.4" stroke-linecap="round"/><path d="M537 116.5 C548 117.5 552.5 127.4 551 135.4 C550 142.4 546 148.4 542 150.9" fill="none" stroke="#f2e21c" stroke-width="1.6" stroke-linecap="round"/><path d="M537.3 152.9 L543.8 147.7 L543.1 151.3 L545.3 155.1 Z" fill="#f2e21c" stroke="#e8452a" stroke-width="0.9" stroke-linejoin="round"/>
<text x="554" y="99.7" font-size="18" fill="#0c0c0c">e<tspan dy="-6" font-size="70%">-</tspan><tspan dy="6">&#8203;</tspan></text>
<text x="554" y="141.2" font-size="18" fill="#0c0c0c">e<tspan dy="-6" font-size="70%">-</tspan><tspan dy="6">&#8203;</tspan></text></g>
<g id="pc"><text x="31.7" y="341.2" font-size="17.4" fill="#0c0c0c">Top view</text>
<line x1="81.4" y1="311.4" x2="91.9" y2="317.4" stroke="#6e4426" stroke-width="3.6"/>
<line x1="91.9" y1="317.4" x2="102.4" y2="323.5" stroke="#6e4426" stroke-width="3.6"/>
<line x1="81.4" y1="311.4" x2="91.9" y2="317.4" stroke="#c09870" stroke-width="1.2"/>
<line x1="91.9" y1="317.4" x2="102.4" y2="323.5" stroke="#c09870" stroke-width="1.2"/>
<line x1="102.4" y1="323.5" x2="113" y2="317.4" stroke="#6e4426" stroke-width="3.6"/>
<line x1="113" y1="317.4" x2="123.6" y2="311.4" stroke="#6e4426" stroke-width="3.6"/>
<line x1="102.4" y1="323.5" x2="113" y2="317.4" stroke="#c09870" stroke-width="1.2"/>
<line x1="113" y1="317.4" x2="123.6" y2="311.4" stroke="#c09870" stroke-width="1.2"/>
<line x1="81.4" y1="311.4" x2="73.2" y2="316.2" stroke="#6e4426" stroke-width="3.6"/>
<line x1="73.2" y1="316.2" x2="64.9" y2="321" stroke="#d8b4b4" stroke-width="3.6"/>
<line x1="81.4" y1="311.4" x2="73.2" y2="316.2" stroke="#c09870" stroke-width="1.2"/>
<line x1="73.2" y1="316.2" x2="64.9" y2="321" stroke="#fbeaea" stroke-width="1.2"/>
<line x1="123.6" y1="311.4" x2="131.8" y2="316.2" stroke="#6e4426" stroke-width="3.6"/>
<line x1="131.8" y1="316.2" x2="139.9" y2="321" stroke="#d8b4b4" stroke-width="3.6"/>
<line x1="123.6" y1="311.4" x2="131.8" y2="316.2" stroke="#c09870" stroke-width="1.2"/>
<line x1="131.8" y1="316.2" x2="139.9" y2="321" stroke="#fbeaea" stroke-width="1.2"/>
<line x1="102.4" y1="323.5" x2="102.4" y2="336.5" stroke="#6e4426" stroke-width="3.6"/>
<line x1="102.4" y1="336.5" x2="102.4" y2="349.5" stroke="#6e4426" stroke-width="3.6"/>
<line x1="102.4" y1="323.5" x2="102.4" y2="336.5" stroke="#c09870" stroke-width="1.2"/>
<line x1="102.4" y1="336.5" x2="102.4" y2="349.5" stroke="#c09870" stroke-width="1.2"/>
<line x1="102.4" y1="349.5" x2="91.6" y2="355" stroke="#6e4426" stroke-width="3.6"/>
<line x1="91.6" y1="355" x2="80.8" y2="360.5" stroke="#8f9cc8" stroke-width="3.6"/>
<line x1="102.4" y1="349.5" x2="91.6" y2="355" stroke="#c09870" stroke-width="1.2"/>
<line x1="91.6" y1="355" x2="80.8" y2="360.5" stroke="#ccd6f0" stroke-width="1.2"/>
<line x1="102.4" y1="349.5" x2="112.8" y2="355" stroke="#6e4426" stroke-width="3.6"/>
<line x1="112.8" y1="355" x2="123.2" y2="360.5" stroke="#8f9cc8" stroke-width="3.6"/>
<line x1="102.4" y1="349.5" x2="112.8" y2="355" stroke="#c09870" stroke-width="1.2"/>
<line x1="112.8" y1="355" x2="123.2" y2="360.5" stroke="#ccd6f0" stroke-width="1.2"/>
<line x1="80.8" y1="360.5" x2="81.5" y2="372.2" stroke="#8f9cc8" stroke-width="3.6"/>
<line x1="81.5" y1="372.2" x2="82.2" y2="384" stroke="#6e4426" stroke-width="3.6"/>
<line x1="80.8" y1="360.5" x2="81.5" y2="372.2" stroke="#ccd6f0" stroke-width="1.2"/>
<line x1="81.5" y1="372.2" x2="82.2" y2="384" stroke="#c09870" stroke-width="1.2"/>
<line x1="123.2" y1="360.5" x2="122.9" y2="372.2" stroke="#8f9cc8" stroke-width="3.6"/>
<line x1="122.9" y1="372.2" x2="122.6" y2="384" stroke="#6e4426" stroke-width="3.6"/>
<line x1="123.2" y1="360.5" x2="122.9" y2="372.2" stroke="#ccd6f0" stroke-width="1.2"/>
<line x1="122.9" y1="372.2" x2="122.6" y2="384" stroke="#c09870" stroke-width="1.2"/>
<line x1="82.2" y1="384" x2="92.1" y2="390.1" stroke="#6e4426" stroke-width="3.6"/>
<line x1="92.1" y1="390.1" x2="102" y2="396.1" stroke="#8f9cc8" stroke-width="3.6"/>
<line x1="82.2" y1="384" x2="92.1" y2="390.1" stroke="#c09870" stroke-width="1.2"/>
<line x1="92.1" y1="390.1" x2="102" y2="396.1" stroke="#ccd6f0" stroke-width="1.2"/>
<line x1="122.6" y1="384" x2="112.3" y2="390.1" stroke="#6e4426" stroke-width="3.6"/>
<line x1="112.3" y1="390.1" x2="102" y2="396.1" stroke="#8f9cc8" stroke-width="3.6"/>
<line x1="122.6" y1="384" x2="112.3" y2="390.1" stroke="#c09870" stroke-width="1.2"/>
<line x1="112.3" y1="390.1" x2="102" y2="396.1" stroke="#ccd6f0" stroke-width="1.2"/>
<line x1="82.2" y1="384" x2="71.2" y2="390.1" stroke="#6e4426" stroke-width="3.6"/>
<line x1="71.2" y1="390.1" x2="60.2" y2="396.1" stroke="#6e4426" stroke-width="3.6"/>
<line x1="82.2" y1="384" x2="71.2" y2="390.1" stroke="#c09870" stroke-width="1.2"/>
<line x1="71.2" y1="390.1" x2="60.2" y2="396.1" stroke="#c09870" stroke-width="1.2"/>
<line x1="60.2" y1="396.1" x2="49.5" y2="390.3" stroke="#6e4426" stroke-width="3.6"/>
<line x1="49.5" y1="390.3" x2="38.9" y2="384.5" stroke="#6e4426" stroke-width="3.6"/>
<line x1="60.2" y1="396.1" x2="49.5" y2="390.3" stroke="#c09870" stroke-width="1.2"/>
<line x1="49.5" y1="390.3" x2="38.9" y2="384.5" stroke="#c09870" stroke-width="1.2"/>
<line x1="38.9" y1="384.5" x2="38.9" y2="375.6" stroke="#6e4426" stroke-width="3.6"/>
<line x1="38.9" y1="375.6" x2="38.9" y2="366.6" stroke="#d8b4b4" stroke-width="3.6"/>
<line x1="38.9" y1="384.5" x2="38.9" y2="375.6" stroke="#c09870" stroke-width="1.2"/>
<line x1="38.9" y1="375.6" x2="38.9" y2="366.6" stroke="#fbeaea" stroke-width="1.2"/>
<line x1="60.2" y1="396.1" x2="60.2" y2="408.6" stroke="#6e4426" stroke-width="3.6"/>
<line x1="60.2" y1="408.6" x2="60.2" y2="421.1" stroke="#6e4426" stroke-width="3.6"/>
<line x1="60.2" y1="396.1" x2="60.2" y2="408.6" stroke="#c09870" stroke-width="1.2"/>
<line x1="60.2" y1="408.6" x2="60.2" y2="421.1" stroke="#c09870" stroke-width="1.2"/>
<line x1="60.2" y1="421.1" x2="49.5" y2="427.1" stroke="#6e4426" stroke-width="3.6"/>
<line x1="49.5" y1="427.1" x2="38.9" y2="433.2" stroke="#6e4426" stroke-width="3.6"/>
<line x1="60.2" y1="421.1" x2="49.5" y2="427.1" stroke="#c09870" stroke-width="1.2"/>
<line x1="49.5" y1="427.1" x2="38.9" y2="433.2" stroke="#c09870" stroke-width="1.2"/>
<line x1="60.2" y1="421.1" x2="68.1" y2="425.9" stroke="#6e4426" stroke-width="3.6"/>
<line x1="68.1" y1="425.9" x2="76" y2="430.7" stroke="#d8b4b4" stroke-width="3.6"/>
<line x1="60.2" y1="421.1" x2="68.1" y2="425.9" stroke="#c09870" stroke-width="1.2"/>
<line x1="68.1" y1="425.9" x2="76" y2="430.7" stroke="#fbeaea" stroke-width="1.2"/>
<line x1="38.9" y1="433.2" x2="38.9" y2="442.9" stroke="#6e4426" stroke-width="3.6"/>
<line x1="38.9" y1="442.9" x2="38.9" y2="452.5" stroke="#d8b4b4" stroke-width="3.6"/>
<line x1="38.9" y1="433.2" x2="38.9" y2="442.9" stroke="#c09870" stroke-width="1.2"/>
<line x1="38.9" y1="442.9" x2="38.9" y2="452.5" stroke="#fbeaea" stroke-width="1.2"/>
<line x1="122.6" y1="384" x2="133.5" y2="390.3" stroke="#6e4426" stroke-width="3.6"/>
<line x1="133.5" y1="390.3" x2="144.4" y2="396.6" stroke="#6e4426" stroke-width="3.6"/>
<line x1="122.6" y1="384" x2="133.5" y2="390.3" stroke="#c09870" stroke-width="1.2"/>
<line x1="133.5" y1="390.3" x2="144.4" y2="396.6" stroke="#c09870" stroke-width="1.2"/>
<line x1="144.4" y1="396.6" x2="155.2" y2="390.6" stroke="#6e4426" stroke-width="3.6"/>
<line x1="155.2" y1="390.6" x2="166.1" y2="384.5" stroke="#6e4426" stroke-width="3.6"/>
<line x1="144.4" y1="396.6" x2="155.2" y2="390.6" stroke="#c09870" stroke-width="1.2"/>
<line x1="155.2" y1="390.6" x2="166.1" y2="384.5" stroke="#c09870" stroke-width="1.2"/>
<line x1="166.1" y1="384.5" x2="166.1" y2="376" stroke="#6e4426" stroke-width="3.6"/>
<line x1="166.1" y1="376" x2="166.1" y2="367.5" stroke="#d8b4b4" stroke-width="3.6"/>
<line x1="166.1" y1="384.5" x2="166.1" y2="376" stroke="#c09870" stroke-width="1.2"/>
<line x1="166.1" y1="376" x2="166.1" y2="367.5" stroke="#fbeaea" stroke-width="1.2"/>
<line x1="144.4" y1="396.6" x2="144.4" y2="409" stroke="#6e4426" stroke-width="3.6"/>
<line x1="144.4" y1="409" x2="144.4" y2="421.4" stroke="#6e4426" stroke-width="3.6"/>
<line x1="144.4" y1="396.6" x2="144.4" y2="409" stroke="#c09870" stroke-width="1.2"/>
<line x1="144.4" y1="409" x2="144.4" y2="421.4" stroke="#c09870" stroke-width="1.2"/>
<line x1="144.4" y1="421.4" x2="155.2" y2="427.4" stroke="#6e4426" stroke-width="3.6"/>
<line x1="155.2" y1="427.4" x2="166.1" y2="433.3" stroke="#6e4426" stroke-width="3.6"/>
<line x1="144.4" y1="421.4" x2="155.2" y2="427.4" stroke="#c09870" stroke-width="1.2"/>
<line x1="155.2" y1="427.4" x2="166.1" y2="433.3" stroke="#c09870" stroke-width="1.2"/>
<line x1="144.4" y1="421.4" x2="137.2" y2="425.6" stroke="#6e4426" stroke-width="3.6"/>
<line x1="137.2" y1="425.6" x2="129.9" y2="429.8" stroke="#d8b4b4" stroke-width="3.6"/>
<line x1="144.4" y1="421.4" x2="137.2" y2="425.6" stroke="#c09870" stroke-width="1.2"/>
<line x1="137.2" y1="425.6" x2="129.9" y2="429.8" stroke="#fbeaea" stroke-width="1.2"/>
<line x1="166.1" y1="433.3" x2="166.2" y2="442.9" stroke="#6e4426" stroke-width="3.6"/>
<line x1="166.2" y1="442.9" x2="166.4" y2="452.5" stroke="#d8b4b4" stroke-width="3.6"/>
<line x1="166.1" y1="433.3" x2="166.2" y2="442.9" stroke="#c09870" stroke-width="1.2"/>
<line x1="166.2" y1="442.9" x2="166.4" y2="452.5" stroke="#fbeaea" stroke-width="1.2"/>
<line x1="166.1" y1="384.5" x2="176.3" y2="390.9" stroke="#6e4426" stroke-width="3.6"/>
<line x1="176.3" y1="390.9" x2="186.6" y2="397.2" stroke="#6e4426" stroke-width="3.6"/>
<line x1="166.1" y1="384.5" x2="176.3" y2="390.9" stroke="#c09870" stroke-width="1.2"/>
<line x1="176.3" y1="390.9" x2="186.6" y2="397.2" stroke="#c09870" stroke-width="1.2"/>
<line x1="186.6" y1="397.2" x2="195.2" y2="392.6" stroke="#6e4426" stroke-width="3.6"/>
<line x1="195.2" y1="392.6" x2="203.8" y2="388.1" stroke="#d8b4b4" stroke-width="3.6"/>
<line x1="186.6" y1="397.2" x2="195.2" y2="392.6" stroke="#c09870" stroke-width="1.2"/>
<line x1="195.2" y1="392.6" x2="203.8" y2="388.1" stroke="#fbeaea" stroke-width="1.2"/>
<line x1="186.6" y1="397.2" x2="186.6" y2="409.4" stroke="#6e4426" stroke-width="3.6"/>
<line x1="186.6" y1="409.4" x2="186.6" y2="421.7" stroke="#6e4426" stroke-width="3.6"/>
<line x1="186.6" y1="397.2" x2="186.6" y2="409.4" stroke="#c09870" stroke-width="1.2"/>
<line x1="186.6" y1="409.4" x2="186.6" y2="421.7" stroke="#c09870" stroke-width="1.2"/>
<line x1="186.6" y1="421.7" x2="176.3" y2="427.5" stroke="#6e4426" stroke-width="3.6"/>
<line x1="176.3" y1="427.5" x2="166.1" y2="433.3" stroke="#6e4426" stroke-width="3.6"/>
<line x1="186.6" y1="421.7" x2="176.3" y2="427.5" stroke="#c09870" stroke-width="1.2"/>
<line x1="176.3" y1="427.5" x2="166.1" y2="433.3" stroke="#c09870" stroke-width="1.2"/>
<line x1="186.6" y1="421.7" x2="198.2" y2="428" stroke="#6e4426" stroke-width="3.6"/>
<line x1="198.2" y1="428" x2="209.8" y2="434.3" stroke="#6e4426" stroke-width="3.6"/>
<line x1="186.6" y1="421.7" x2="198.2" y2="428" stroke="#c09870" stroke-width="1.2"/>
<line x1="198.2" y1="428" x2="209.8" y2="434.3" stroke="#c09870" stroke-width="1.2"/>
<line x1="209.8" y1="434.3" x2="219.8" y2="427.8" stroke="#6e4426" stroke-width="3.6"/>
<line x1="219.8" y1="427.8" x2="229.8" y2="421.3" stroke="#8f9cc8" stroke-width="3.6"/>
<line x1="209.8" y1="434.3" x2="219.8" y2="427.8" stroke="#c09870" stroke-width="1.2"/>
<line x1="219.8" y1="427.8" x2="229.8" y2="421.3" stroke="#ccd6f0" stroke-width="1.2"/>
<line x1="229.8" y1="421.3" x2="239.8" y2="427.8" stroke="#8f9cc8" stroke-width="3.6"/>
<line x1="239.8" y1="427.8" x2="249.7" y2="434.3" stroke="#6e4426" stroke-width="3.6"/>
<line x1="229.8" y1="421.3" x2="239.8" y2="427.8" stroke="#ccd6f0" stroke-width="1.2"/>
<line x1="239.8" y1="427.8" x2="249.7" y2="434.3" stroke="#c09870" stroke-width="1.2"/>
<line x1="209.8" y1="434.3" x2="209.2" y2="446.3" stroke="#6e4426" stroke-width="3.6"/>
<line x1="209.2" y1="446.3" x2="208.7" y2="458.3" stroke="#8f9cc8" stroke-width="3.6"/>
<line x1="209.8" y1="434.3" x2="209.2" y2="446.3" stroke="#c09870" stroke-width="1.2"/>
<line x1="209.2" y1="446.3" x2="208.7" y2="458.3" stroke="#ccd6f0" stroke-width="1.2"/>
<line x1="249.7" y1="434.3" x2="249.9" y2="446.3" stroke="#6e4426" stroke-width="3.6"/>
<line x1="249.9" y1="446.3" x2="250.1" y2="458.3" stroke="#8f9cc8" stroke-width="3.6"/>
<line x1="249.7" y1="434.3" x2="249.9" y2="446.3" stroke="#c09870" stroke-width="1.2"/>
<line x1="249.9" y1="446.3" x2="250.1" y2="458.3" stroke="#ccd6f0" stroke-width="1.2"/>
<line x1="208.7" y1="458.3" x2="219.1" y2="463.8" stroke="#8f9cc8" stroke-width="3.6"/>
<line x1="219.1" y1="463.8" x2="229.6" y2="469.3" stroke="#6e4426" stroke-width="3.6"/>
<line x1="208.7" y1="458.3" x2="219.1" y2="463.8" stroke="#ccd6f0" stroke-width="1.2"/>
<line x1="219.1" y1="463.8" x2="229.6" y2="469.3" stroke="#c09870" stroke-width="1.2"/>
<line x1="250.1" y1="458.3" x2="239.8" y2="463.8" stroke="#8f9cc8" stroke-width="3.6"/>
<line x1="239.8" y1="463.8" x2="229.6" y2="469.3" stroke="#6e4426" stroke-width="3.6"/>
<line x1="250.1" y1="458.3" x2="239.8" y2="463.8" stroke="#ccd6f0" stroke-width="1.2"/>
<line x1="239.8" y1="463.8" x2="229.6" y2="469.3" stroke="#c09870" stroke-width="1.2"/>
<line x1="229.6" y1="469.3" x2="229.6" y2="482.2" stroke="#6e4426" stroke-width="3.6"/>
<line x1="229.6" y1="482.2" x2="229.6" y2="495.1" stroke="#6e4426" stroke-width="3.6"/>
<line x1="229.6" y1="469.3" x2="229.6" y2="482.2" stroke="#c09870" stroke-width="1.2"/>
<line x1="229.6" y1="482.2" x2="229.6" y2="495.1" stroke="#c09870" stroke-width="1.2"/>
<line x1="229.6" y1="495.1" x2="219" y2="501.6" stroke="#6e4426" stroke-width="3.6"/>
<line x1="219" y1="501.6" x2="208.4" y2="508.1" stroke="#6e4426" stroke-width="3.6"/>
<line x1="229.6" y1="495.1" x2="219" y2="501.6" stroke="#c09870" stroke-width="1.2"/>
<line x1="219" y1="501.6" x2="208.4" y2="508.1" stroke="#c09870" stroke-width="1.2"/>
<line x1="229.6" y1="495.1" x2="240.4" y2="501.6" stroke="#6e4426" stroke-width="3.6"/>
<line x1="240.4" y1="501.6" x2="251.3" y2="508.1" stroke="#6e4426" stroke-width="3.6"/>
<line x1="229.6" y1="495.1" x2="240.4" y2="501.6" stroke="#c09870" stroke-width="1.2"/>
<line x1="240.4" y1="501.6" x2="251.3" y2="508.1" stroke="#c09870" stroke-width="1.2"/>
<line x1="208.4" y1="508.1" x2="200.4" y2="503.4" stroke="#6e4426" stroke-width="3.6"/>
<line x1="200.4" y1="503.4" x2="192.4" y2="498.7" stroke="#d8b4b4" stroke-width="3.6"/>
<line x1="208.4" y1="508.1" x2="200.4" y2="503.4" stroke="#c09870" stroke-width="1.2"/>
<line x1="200.4" y1="503.4" x2="192.4" y2="498.7" stroke="#fbeaea" stroke-width="1.2"/>
<line x1="251.3" y1="508.1" x2="259" y2="503" stroke="#6e4426" stroke-width="3.6"/>
<line x1="259" y1="503" x2="266.7" y2="497.8" stroke="#d8b4b4" stroke-width="3.6"/>
<line x1="251.3" y1="508.1" x2="259" y2="503" stroke="#c09870" stroke-width="1.2"/>
<line x1="259" y1="503" x2="266.7" y2="497.8" stroke="#fbeaea" stroke-width="1.2"/>
<line x1="249.7" y1="434.3" x2="260.8" y2="428" stroke="#6e4426" stroke-width="3.6"/>
<line x1="260.8" y1="428" x2="271.8" y2="421.7" stroke="#6e4426" stroke-width="3.6"/>
<line x1="249.7" y1="434.3" x2="260.8" y2="428" stroke="#c09870" stroke-width="1.2"/>
<line x1="260.8" y1="428" x2="271.8" y2="421.7" stroke="#c09870" stroke-width="1.2"/>
<line x1="271.8" y1="421.7" x2="271.8" y2="409.4" stroke="#6e4426" stroke-width="3.6"/>
<line x1="271.8" y1="409.4" x2="271.8" y2="397.2" stroke="#6e4426" stroke-width="3.6"/>
<line x1="271.8" y1="421.7" x2="271.8" y2="409.4" stroke="#c09870" stroke-width="1.2"/>
<line x1="271.8" y1="409.4" x2="271.8" y2="397.2" stroke="#c09870" stroke-width="1.2"/>
<line x1="271.8" y1="397.2" x2="263.9" y2="392.6" stroke="#6e4426" stroke-width="3.6"/>
<line x1="263.9" y1="392.6" x2="255.9" y2="388.1" stroke="#d8b4b4" stroke-width="3.6"/>
<line x1="271.8" y1="397.2" x2="263.9" y2="392.6" stroke="#c09870" stroke-width="1.2"/>
<line x1="263.9" y1="392.6" x2="255.9" y2="388.1" stroke="#fbeaea" stroke-width="1.2"/>
<line x1="271.8" y1="421.7" x2="282.5" y2="427.5" stroke="#6e4426" stroke-width="3.6"/>
<line x1="282.5" y1="427.5" x2="293.2" y2="433.4" stroke="#6e4426" stroke-width="3.6"/>
<line x1="271.8" y1="421.7" x2="282.5" y2="427.5" stroke="#c09870" stroke-width="1.2"/>
<line x1="282.5" y1="427.5" x2="293.2" y2="433.4" stroke="#c09870" stroke-width="1.2"/>
<line x1="293.2" y1="433.4" x2="292.9" y2="443.2" stroke="#6e4426" stroke-width="3.6"/>
<line x1="292.9" y1="443.2" x2="292.7" y2="453" stroke="#d8b4b4" stroke-width="3.6"/>
<line x1="293.2" y1="433.4" x2="292.9" y2="443.2" stroke="#c09870" stroke-width="1.2"/>
<line x1="292.9" y1="443.2" x2="292.7" y2="453" stroke="#fbeaea" stroke-width="1.2"/>
<circle cx="81.4" cy="311.4" r="5.6" fill="url(#gC)"/>
<circle cx="102.4" cy="323.5" r="5.6" fill="url(#gC)"/>
<circle cx="123.6" cy="311.4" r="5.6" fill="url(#gC)"/>
<circle cx="64.9" cy="321" r="3.3" fill="url(#gH)"/>
<circle cx="139.9" cy="321" r="3.3" fill="url(#gH)"/>
<circle cx="102.4" cy="349.5" r="5.6" fill="url(#gC)"/>
<circle cx="80.8" cy="360.5" r="5.2" fill="url(#gN)"/>
<circle cx="123.2" cy="360.5" r="5.2" fill="url(#gN)"/>
<circle cx="82.2" cy="384" r="5.6" fill="url(#gC)"/>
<circle cx="122.6" cy="384" r="5.6" fill="url(#gC)"/>
<circle cx="102" cy="396.1" r="5.2" fill="url(#gN)"/>
<circle cx="60.2" cy="396.1" r="5.6" fill="url(#gC)"/>
<circle cx="38.9" cy="384.5" r="5.6" fill="url(#gC)"/>
<circle cx="38.9" cy="366.6" r="3.3" fill="url(#gH)"/>
<circle cx="60.2" cy="421.1" r="5.6" fill="url(#gC)"/>
<circle cx="38.9" cy="433.2" r="5.6" fill="url(#gC)"/>
<circle cx="76" cy="430.7" r="3.3" fill="url(#gH)"/>
<circle cx="38.9" cy="452.5" r="3.3" fill="url(#gH)"/>
<circle cx="144.4" cy="396.6" r="5.6" fill="url(#gC)"/>
<circle cx="166.1" cy="384.5" r="5.6" fill="url(#gC)"/>
<circle cx="166.1" cy="367.5" r="3.3" fill="url(#gH)"/>
<circle cx="144.4" cy="421.4" r="5.6" fill="url(#gC)"/>
<circle cx="166.1" cy="433.3" r="5.6" fill="url(#gC)"/>
<circle cx="129.9" cy="429.8" r="3.3" fill="url(#gH)"/>
<circle cx="166.4" cy="452.5" r="3.3" fill="url(#gH)"/>
<circle cx="186.6" cy="397.2" r="5.6" fill="url(#gC)"/>
<circle cx="203.8" cy="388.1" r="3.3" fill="url(#gH)"/>
<circle cx="186.6" cy="421.7" r="5.6" fill="url(#gC)"/>
<circle cx="209.8" cy="434.3" r="5.6" fill="url(#gC)"/>
<circle cx="229.8" cy="421.3" r="5.2" fill="url(#gN)"/>
<circle cx="249.7" cy="434.3" r="5.6" fill="url(#gC)"/>
<circle cx="208.7" cy="458.3" r="5.2" fill="url(#gN)"/>
<circle cx="250.1" cy="458.3" r="5.2" fill="url(#gN)"/>
<circle cx="229.6" cy="469.3" r="5.6" fill="url(#gC)"/>
<circle cx="229.6" cy="495.1" r="5.6" fill="url(#gC)"/>
<circle cx="208.4" cy="508.1" r="5.6" fill="url(#gC)"/>
<circle cx="251.3" cy="508.1" r="5.6" fill="url(#gC)"/>
<circle cx="192.4" cy="498.7" r="3.3" fill="url(#gH)"/>
<circle cx="266.7" cy="497.8" r="3.3" fill="url(#gH)"/>
<circle cx="271.8" cy="421.7" r="5.6" fill="url(#gC)"/>
<circle cx="271.8" cy="397.2" r="5.6" fill="url(#gC)"/>
<circle cx="255.9" cy="388.1" r="3.3" fill="url(#gH)"/>
<circle cx="293.2" cy="433.4" r="5.6" fill="url(#gC)"/>
<circle cx="292.7" cy="453" r="3.3" fill="url(#gH)"/>
<ellipse cx="102.3" cy="404" rx="3.6" ry="4.6" fill="#e6ef78" fill-opacity="0.6" stroke="#a8be28" stroke-width="0.8" transform="rotate(0 102.3 404)"/>
<ellipse cx="102.3" cy="408" rx="3.2" ry="3.2" fill="#80dfe2" fill-opacity="0.6" stroke="#18a4ac" stroke-width="0.8" transform="rotate(0 102.3 408)"/>
<line x1="103.6" y1="415.9" x2="103.6" y2="433.2" stroke="#c01015" stroke-width="2.6"/>
<line x1="103.6" y1="424.5" x2="103.6" y2="433.2" stroke="#6e4426" stroke-width="2.6"/>
<line x1="103.6" y1="433.2" x2="102.8" y2="450" stroke="#6e4426" stroke-width="2.6"/>
<line x1="103.2" y1="441.6" x2="102.8" y2="450" stroke="#c01015" stroke-width="2.6"/>
<ellipse cx="103.8" cy="428.5" rx="4.4" ry="4.2" fill="#80dfe2" fill-opacity="0.55" stroke="#18a4ac" stroke-width="0.8" transform="rotate(0 103.8 428.5)"/>
<ellipse cx="102.8" cy="446" rx="4.6" ry="3.6" fill="#e6ef78" fill-opacity="0.6" stroke="#a8be28" stroke-width="0.8" transform="rotate(0 102.8 446)"/>
<circle cx="103.6" cy="415.9" r="4.6" fill="url(#gO)"/>
<circle cx="103.6" cy="433.2" r="5" fill="url(#gC)"/>
<circle cx="102.8" cy="450" r="4.6" fill="url(#gO)"/>
<path d="M137.3 369.6 C139.1 370.3 144.6 371.4 148.1 373.6 C151.6 375.8 155.6 379.1 158.3 382.7 C161.0 386.3 163.3 391.0 164.5 395.1 C165.7 399.2 166.1 403.2 165.6 407.6 C165.1 412.0 163.9 417.1 161.7 421.2 C159.5 425.3 156.0 429.5 152.6 432.5 C149.2 435.5 144.9 437.9 141.3 439.3 C137.7 440.7 132.8 440.7 131.1 441.0 L126 444.4 L118.4 435.7 L129.4 429.7 L131.1 433.1 C131.7 433.1 132.1 433.6 134.5 433.1 C136.9 432.6 142.4 431.9 145.8 430.3 C149.2 428.7 152.6 426.3 154.9 423.5 C157.2 420.7 158.7 416.7 159.4 413.3 C160.2 409.9 160.4 406.9 159.4 403.1 C158.4 399.3 156.1 394.3 153.7 390.6 C151.2 386.9 147.9 383.4 144.7 381.0 C141.4 378.6 135.9 377.2 134.2 376.4 Z" fill="#2f44a8"/>
<circle cx="166.1" cy="384.5" r="5.6" fill="url(#gC)"/>
<circle cx="166.1" cy="433.3" r="5.6" fill="url(#gC)"/>
<path d="M66.5 461 L74.4 474 L58.6 474 Z" fill="none" stroke="#2f44a8" stroke-width="1.7" stroke-linejoin="miter"/>
<text x="78.6" y="475" font-size="21.3" fill="#2f44a8" font-weight="bold">q=0.01|e|</text>
<text x="33.6" y="518.7" font-size="17.5" fill="#0c0c0c">*CO<tspan dy="4" font-size="68%">2</tspan><tspan dy="-4">&#8203;</tspan>@CTF-NSs</text>
<line x1="195" y1="326.6" x2="290.5" y2="326.6" stroke="#7a4c2c" stroke-width="2.2"/>
<line x1="239" y1="327.2" x2="269" y2="325" stroke="#7a4c2c" stroke-width="3.2"/>
<circle cx="195.2" cy="326.6" r="3.4" fill="url(#gC)"/>
<circle cx="203" cy="326.6" r="3.3" fill="url(#gC)"/>
<circle cx="218.3" cy="326.6" r="3.3" fill="url(#gC)"/>
<circle cx="225.1" cy="326.6" r="3.1" fill="url(#gN)"/>
<circle cx="239.5" cy="327.1" r="3.9" fill="url(#gC)"/>
<circle cx="247" cy="327.2" r="3.9" fill="url(#gC)"/>
<circle cx="262.2" cy="325.1" r="3.9" fill="url(#gC)"/>
<circle cx="268.8" cy="325.1" r="3.7" fill="url(#gC)"/>
<circle cx="283.4" cy="326.6" r="3.1" fill="url(#gN)"/>
<circle cx="290.4" cy="326.6" r="3.3" fill="url(#gC)"/>
<circle cx="201.5" cy="326.3" r="1.8" fill="url(#gH)"/>
<circle cx="229.9" cy="329.9" r="1.8" fill="url(#gH)"/>
<circle cx="267.5" cy="323.4" r="1.8" fill="url(#gH)"/>
<circle cx="279.6" cy="323.3" r="1.8" fill="url(#gH)"/>
<line x1="193.8" y1="365.2" x2="289.3" y2="365.2" stroke="#7a4c2c" stroke-width="2.2"/>
<line x1="237.8" y1="365.8" x2="267.8" y2="363.6" stroke="#7a4c2c" stroke-width="3.2"/>
<circle cx="194" cy="365.2" r="3.4" fill="url(#gC)"/>
<circle cx="201.8" cy="365.2" r="3.3" fill="url(#gC)"/>
<circle cx="217.1" cy="365.2" r="3.3" fill="url(#gC)"/>
<circle cx="223.9" cy="365.2" r="3.1" fill="url(#gN)"/>
<circle cx="238.3" cy="365.7" r="3.9" fill="url(#gC)"/>
<circle cx="245.8" cy="365.8" r="3.9" fill="url(#gC)"/>
<circle cx="261" cy="363.7" r="3.9" fill="url(#gC)"/>
<circle cx="267.6" cy="363.7" r="3.7" fill="url(#gC)"/>
<circle cx="282.2" cy="365.2" r="3.1" fill="url(#gN)"/>
<circle cx="289.2" cy="365.2" r="3.3" fill="url(#gC)"/>
<circle cx="200.3" cy="364.9" r="1.8" fill="url(#gH)"/>
<circle cx="228.7" cy="368.5" r="1.8" fill="url(#gH)"/>
<circle cx="266.3" cy="362" r="1.8" fill="url(#gH)"/>
<circle cx="278.4" cy="361.9" r="1.8" fill="url(#gH)"/>
<text x="206" y="350.9" font-size="17.5" fill="#0c0c0c">Side view</text>
<ellipse cx="233.5" cy="309.5" rx="2.2" ry="2.6" fill="#e6ef78" fill-opacity="0.5" stroke="#a8be28" stroke-width="0.8" transform="rotate(30 233.5 309.5)"/>
<ellipse cx="243.5" cy="307.5" rx="2.6" ry="2.2" fill="#80dfe2" fill-opacity="0.5" stroke="#18a4ac" stroke-width="0.8" transform="rotate(0 243.5 307.5)"/>
<ellipse cx="251" cy="299.5" rx="2.4" ry="1.6" fill="#e6ef78" fill-opacity="0.5" stroke="#a8be28" stroke-width="0.8" transform="rotate(0 251 299.5)"/>
<ellipse cx="256.5" cy="320.5" rx="3" ry="1.5" fill="#e6ef78" fill-opacity="0.5" stroke="#a8be28" stroke-width="0.8" transform="rotate(15 256.5 320.5)"/>
<ellipse cx="263" cy="330.5" rx="2" ry="1.4" fill="#e6ef78" fill-opacity="0.5" stroke="#a8be28" stroke-width="0.8" transform="rotate(0 263 330.5)"/>
<ellipse cx="258" cy="329.5" rx="1.6" ry="1.2" fill="#80dfe2" fill-opacity="0.5" stroke="#18a4ac" stroke-width="0.8" transform="rotate(0 258 329.5)"/>
<line x1="229.9" y1="308.7" x2="240.1" y2="301.8" stroke="#c01015" stroke-width="1.8"/>
<line x1="240.1" y1="301.8" x2="250.5" y2="295.2" stroke="#c01015" stroke-width="1.8"/>
<circle cx="229.9" cy="308.7" r="3" fill="url(#gO)"/>
<circle cx="250.5" cy="295.2" r="3" fill="url(#gO)"/>
<circle cx="240.1" cy="301.8" r="3.3" fill="url(#gC)"/>
<text x="30.2" y="281.7" font-size="22" fill="#0c0c0c">c</text></g>
<g id="pd"><radialGradient id="yg" cx="0.45" cy="0.4" r="0.65"><stop offset="0" stop-color="#f4f9c0"/><stop offset="0.5" stop-color="#e6ef78"/><stop offset="1" stop-color="#c2d63a"/></radialGradient>
<radialGradient id="cg" cx="0.45" cy="0.4" r="0.65"><stop offset="0" stop-color="#c4f2f2"/><stop offset="0.5" stop-color="#80dfe2"/><stop offset="1" stop-color="#2cbcc2"/></radialGradient>
<radialGradient id="ygs" cx="0.4" cy="0.4" r="0.7"><stop offset="0" stop-color="#f4f47a"/><stop offset="0.6" stop-color="#e4e43a"/><stop offset="1" stop-color="#b8c020"/></radialGradient>
<radialGradient id="cgs" cx="0.4" cy="0.4" r="0.7"><stop offset="0" stop-color="#8ce8ec"/><stop offset="0.6" stop-color="#40cdd6"/><stop offset="1" stop-color="#1aa0b0"/></radialGradient>
<text x="345.8" y="339.7" font-size="17.4" fill="#0c0c0c">Top view</text>
<line x1="397.2" y1="309.2" x2="407.7" y2="315.2" stroke="#6e4426" stroke-width="3.6"/>
<line x1="407.7" y1="315.2" x2="418.2" y2="321.3" stroke="#6e4426" stroke-width="3.6"/>
<line x1="397.2" y1="309.2" x2="407.7" y2="315.2" stroke="#c09870" stroke-width="1.2"/>
<line x1="407.7" y1="315.2" x2="418.2" y2="321.3" stroke="#c09870" stroke-width="1.2"/>
<line x1="418.2" y1="321.3" x2="428.8" y2="315.2" stroke="#6e4426" stroke-width="3.6"/>
<line x1="428.8" y1="315.2" x2="439.4" y2="309.2" stroke="#6e4426" stroke-width="3.6"/>
<line x1="418.2" y1="321.3" x2="428.8" y2="315.2" stroke="#c09870" stroke-width="1.2"/>
<line x1="428.8" y1="315.2" x2="439.4" y2="309.2" stroke="#c09870" stroke-width="1.2"/>
<line x1="397.2" y1="309.2" x2="389" y2="314" stroke="#6e4426" stroke-width="3.6"/>
<line x1="389" y1="314" x2="380.7" y2="318.8" stroke="#d8b4b4" stroke-width="3.6"/>
<line x1="397.2" y1="309.2" x2="389" y2="314" stroke="#c09870" stroke-width="1.2"/>
<line x1="389" y1="314" x2="380.7" y2="318.8" stroke="#fbeaea" stroke-width="1.2"/>
<line x1="439.4" y1="309.2" x2="447.6" y2="314" stroke="#6e4426" stroke-width="3.6"/>
<line x1="447.6" y1="314" x2="455.7" y2="318.8" stroke="#d8b4b4" stroke-width="3.6"/>
<line x1="439.4" y1="309.2" x2="447.6" y2="314" stroke="#c09870" stroke-width="1.2"/>
<line x1="447.6" y1="314" x2="455.7" y2="318.8" stroke="#fbeaea" stroke-width="1.2"/>
<line x1="418.2" y1="321.3" x2="418.2" y2="334.3" stroke="#6e4426" stroke-width="3.6"/>
<line x1="418.2" y1="334.3" x2="418.2" y2="347.3" stroke="#6e4426" stroke-width="3.6"/>
<line x1="418.2" y1="321.3" x2="418.2" y2="334.3" stroke="#c09870" stroke-width="1.2"/>
<line x1="418.2" y1="334.3" x2="418.2" y2="347.3" stroke="#c09870" stroke-width="1.2"/>
<line x1="418.2" y1="347.3" x2="407.4" y2="352.8" stroke="#6e4426" stroke-width="3.6"/>
<line x1="407.4" y1="352.8" x2="396.6" y2="358.3" stroke="#8f9cc8" stroke-width="3.6"/>
<line x1="418.2" y1="347.3" x2="407.4" y2="352.8" stroke="#c09870" stroke-width="1.2"/>
<line x1="407.4" y1="352.8" x2="396.6" y2="358.3" stroke="#ccd6f0" stroke-width="1.2"/>
<line x1="418.2" y1="347.3" x2="428.6" y2="352.8" stroke="#6e4426" stroke-width="3.6"/>
<line x1="428.6" y1="352.8" x2="439" y2="358.3" stroke="#8f9cc8" stroke-width="3.6"/>
<line x1="418.2" y1="347.3" x2="428.6" y2="352.8" stroke="#c09870" stroke-width="1.2"/>
<line x1="428.6" y1="352.8" x2="439" y2="358.3" stroke="#ccd6f0" stroke-width="1.2"/>
<line x1="396.6" y1="358.3" x2="397.3" y2="370.1" stroke="#8f9cc8" stroke-width="3.6"/>
<line x1="397.3" y1="370.1" x2="398" y2="381.8" stroke="#6e4426" stroke-width="3.6"/>
<line x1="396.6" y1="358.3" x2="397.3" y2="370.1" stroke="#ccd6f0" stroke-width="1.2"/>
<line x1="397.3" y1="370.1" x2="398" y2="381.8" stroke="#c09870" stroke-width="1.2"/>
<line x1="439" y1="358.3" x2="438.7" y2="370.1" stroke="#8f9cc8" stroke-width="3.6"/>
<line x1="438.7" y1="370.1" x2="438.4" y2="381.8" stroke="#6e4426" stroke-width="3.6"/>
<line x1="439" y1="358.3" x2="438.7" y2="370.1" stroke="#ccd6f0" stroke-width="1.2"/>
<line x1="438.7" y1="370.1" x2="438.4" y2="381.8" stroke="#c09870" stroke-width="1.2"/>
<line x1="398" y1="381.8" x2="407.9" y2="387.9" stroke="#6e4426" stroke-width="3.6"/>
<line x1="407.9" y1="387.9" x2="417.8" y2="393.9" stroke="#8f9cc8" stroke-width="3.6"/>
<line x1="398" y1="381.8" x2="407.9" y2="387.9" stroke="#c09870" stroke-width="1.2"/>
<line x1="407.9" y1="387.9" x2="417.8" y2="393.9" stroke="#ccd6f0" stroke-width="1.2"/>
<line x1="438.4" y1="381.8" x2="428.1" y2="387.9" stroke="#6e4426" stroke-width="3.6"/>
<line x1="428.1" y1="387.9" x2="417.8" y2="393.9" stroke="#8f9cc8" stroke-width="3.6"/>
<line x1="438.4" y1="381.8" x2="428.1" y2="387.9" stroke="#c09870" stroke-width="1.2"/>
<line x1="428.1" y1="387.9" x2="417.8" y2="393.9" stroke="#ccd6f0" stroke-width="1.2"/>
<line x1="398" y1="381.8" x2="387" y2="387.9" stroke="#6e4426" stroke-width="3.6"/>
<line x1="387" y1="387.9" x2="376" y2="393.9" stroke="#6e4426" stroke-width="3.6"/>
<line x1="398" y1="381.8" x2="387" y2="387.9" stroke="#c09870" stroke-width="1.2"/>
<line x1="387" y1="387.9" x2="376" y2="393.9" stroke="#c09870" stroke-width="1.2"/>
<line x1="376" y1="393.9" x2="365.4" y2="388.1" stroke="#6e4426" stroke-width="3.6"/>
<line x1="365.4" y1="388.1" x2="354.7" y2="382.3" stroke="#6e4426" stroke-width="3.6"/>
<line x1="376" y1="393.9" x2="365.4" y2="388.1" stroke="#c09870" stroke-width="1.2"/>
<line x1="365.4" y1="388.1" x2="354.7" y2="382.3" stroke="#c09870" stroke-width="1.2"/>
<line x1="354.7" y1="382.3" x2="354.7" y2="373.4" stroke="#6e4426" stroke-width="3.6"/>
<line x1="354.7" y1="373.4" x2="354.7" y2="364.4" stroke="#d8b4b4" stroke-width="3.6"/>
<line x1="354.7" y1="382.3" x2="354.7" y2="373.4" stroke="#c09870" stroke-width="1.2"/>
<line x1="354.7" y1="373.4" x2="354.7" y2="364.4" stroke="#fbeaea" stroke-width="1.2"/>
<line x1="376" y1="393.9" x2="376" y2="406.4" stroke="#6e4426" stroke-width="3.6"/>
<line x1="376" y1="406.4" x2="376" y2="418.9" stroke="#6e4426" stroke-width="3.6"/>
<line x1="376" y1="393.9" x2="376" y2="406.4" stroke="#c09870" stroke-width="1.2"/>
<line x1="376" y1="406.4" x2="376" y2="418.9" stroke="#c09870" stroke-width="1.2"/>
<line x1="376" y1="418.9" x2="365.4" y2="425" stroke="#6e4426" stroke-width="3.6"/>
<line x1="365.4" y1="425" x2="354.7" y2="431" stroke="#6e4426" stroke-width="3.6"/>
<line x1="376" y1="418.9" x2="365.4" y2="425" stroke="#c09870" stroke-width="1.2"/>
<line x1="365.4" y1="425" x2="354.7" y2="431" stroke="#c09870" stroke-width="1.2"/>
<line x1="376" y1="418.9" x2="383.9" y2="423.7" stroke="#6e4426" stroke-width="3.6"/>
<line x1="383.9" y1="423.7" x2="391.8" y2="428.5" stroke="#d8b4b4" stroke-width="3.6"/>
<line x1="376" y1="418.9" x2="383.9" y2="423.7" stroke="#c09870" stroke-width="1.2"/>
<line x1="383.9" y1="423.7" x2="391.8" y2="428.5" stroke="#fbeaea" stroke-width="1.2"/>
<line x1="354.7" y1="431" x2="354.7" y2="440.6" stroke="#6e4426" stroke-width="3.6"/>
<line x1="354.7" y1="440.6" x2="354.7" y2="450.3" stroke="#d8b4b4" stroke-width="3.6"/>
<line x1="354.7" y1="431" x2="354.7" y2="440.6" stroke="#c09870" stroke-width="1.2"/>
<line x1="354.7" y1="440.6" x2="354.7" y2="450.3" stroke="#fbeaea" stroke-width="1.2"/>
<line x1="438.4" y1="381.8" x2="449.3" y2="388.1" stroke="#6e4426" stroke-width="3.6"/>
<line x1="449.3" y1="388.1" x2="460.2" y2="394.4" stroke="#6e4426" stroke-width="3.6"/>
<line x1="438.4" y1="381.8" x2="449.3" y2="388.1" stroke="#c09870" stroke-width="1.2"/>
<line x1="449.3" y1="388.1" x2="460.2" y2="394.4" stroke="#c09870" stroke-width="1.2"/>
<line x1="460.2" y1="394.4" x2="471.1" y2="388.4" stroke="#6e4426" stroke-width="3.6"/>
<line x1="471.1" y1="388.4" x2="481.9" y2="382.3" stroke="#6e4426" stroke-width="3.6"/>
<line x1="460.2" y1="394.4" x2="471.1" y2="388.4" stroke="#c09870" stroke-width="1.2"/>
<line x1="471.1" y1="388.4" x2="481.9" y2="382.3" stroke="#c09870" stroke-width="1.2"/>
<line x1="481.9" y1="382.3" x2="481.9" y2="373.8" stroke="#6e4426" stroke-width="3.6"/>
<line x1="481.9" y1="373.8" x2="481.9" y2="365.3" stroke="#d8b4b4" stroke-width="3.6"/>
<line x1="481.9" y1="382.3" x2="481.9" y2="373.8" stroke="#c09870" stroke-width="1.2"/>
<line x1="481.9" y1="373.8" x2="481.9" y2="365.3" stroke="#fbeaea" stroke-width="1.2"/>
<line x1="460.2" y1="394.4" x2="460.2" y2="406.8" stroke="#6e4426" stroke-width="3.6"/>
<line x1="460.2" y1="406.8" x2="460.2" y2="419.2" stroke="#6e4426" stroke-width="3.6"/>
<line x1="460.2" y1="394.4" x2="460.2" y2="406.8" stroke="#c09870" stroke-width="1.2"/>
<line x1="460.2" y1="406.8" x2="460.2" y2="419.2" stroke="#c09870" stroke-width="1.2"/>
<line x1="460.2" y1="419.2" x2="471.1" y2="425.1" stroke="#6e4426" stroke-width="3.6"/>
<line x1="471.1" y1="425.1" x2="481.9" y2="431.1" stroke="#6e4426" stroke-width="3.6"/>
<line x1="460.2" y1="419.2" x2="471.1" y2="425.1" stroke="#c09870" stroke-width="1.2"/>
<line x1="471.1" y1="425.1" x2="481.9" y2="431.1" stroke="#c09870" stroke-width="1.2"/>
<line x1="460.2" y1="419.2" x2="453" y2="423.4" stroke="#6e4426" stroke-width="3.6"/>
<line x1="453" y1="423.4" x2="445.7" y2="427.6" stroke="#d8b4b4" stroke-width="3.6"/>
<line x1="460.2" y1="419.2" x2="453" y2="423.4" stroke="#c09870" stroke-width="1.2"/>
<line x1="453" y1="423.4" x2="445.7" y2="427.6" stroke="#fbeaea" stroke-width="1.2"/>
<line x1="481.9" y1="431.1" x2="482.1" y2="440.7" stroke="#6e4426" stroke-width="3.6"/>
<line x1="482.1" y1="440.7" x2="482.2" y2="450.3" stroke="#d8b4b4" stroke-width="3.6"/>
<line x1="481.9" y1="431.1" x2="482.1" y2="440.7" stroke="#c09870" stroke-width="1.2"/>
<line x1="482.1" y1="440.7" x2="482.2" y2="450.3" stroke="#fbeaea" stroke-width="1.2"/>
<line x1="481.9" y1="382.3" x2="492.1" y2="388.6" stroke="#6e4426" stroke-width="3.6"/>
<line x1="492.1" y1="388.6" x2="502.4" y2="395" stroke="#6e4426" stroke-width="3.6"/>
<line x1="481.9" y1="382.3" x2="492.1" y2="388.6" stroke="#c09870" stroke-width="1.2"/>
<line x1="492.1" y1="388.6" x2="502.4" y2="395" stroke="#c09870" stroke-width="1.2"/>
<line x1="502.4" y1="395" x2="511" y2="390.5" stroke="#6e4426" stroke-width="3.6"/>
<line x1="511" y1="390.5" x2="519.6" y2="385.9" stroke="#d8b4b4" stroke-width="3.6"/>
<line x1="502.4" y1="395" x2="511" y2="390.5" stroke="#c09870" stroke-width="1.2"/>
<line x1="511" y1="390.5" x2="519.6" y2="385.9" stroke="#fbeaea" stroke-width="1.2"/>
<line x1="502.4" y1="395" x2="502.4" y2="407.2" stroke="#6e4426" stroke-width="3.6"/>
<line x1="502.4" y1="407.2" x2="502.4" y2="419.5" stroke="#6e4426" stroke-width="3.6"/>
<line x1="502.4" y1="395" x2="502.4" y2="407.2" stroke="#c09870" stroke-width="1.2"/>
<line x1="502.4" y1="407.2" x2="502.4" y2="419.5" stroke="#c09870" stroke-width="1.2"/>
<line x1="502.4" y1="419.5" x2="492.1" y2="425.3" stroke="#6e4426" stroke-width="3.6"/>
<line x1="492.1" y1="425.3" x2="481.9" y2="431.1" stroke="#6e4426" stroke-width="3.6"/>
<line x1="502.4" y1="419.5" x2="492.1" y2="425.3" stroke="#c09870" stroke-width="1.2"/>
<line x1="492.1" y1="425.3" x2="481.9" y2="431.1" stroke="#c09870" stroke-width="1.2"/>
<line x1="502.4" y1="419.5" x2="514" y2="425.8" stroke="#6e4426" stroke-width="3.6"/>
<line x1="514" y1="425.8" x2="525.6" y2="432.1" stroke="#6e4426" stroke-width="3.6"/>
<line x1="502.4" y1="419.5" x2="514" y2="425.8" stroke="#c09870" stroke-width="1.2"/>
<line x1="514" y1="425.8" x2="525.6" y2="432.1" stroke="#c09870" stroke-width="1.2"/>
<line x1="525.6" y1="432.1" x2="535.6" y2="425.6" stroke="#6e4426" stroke-width="3.6"/>
<line x1="535.6" y1="425.6" x2="545.6" y2="419.1" stroke="#8f9cc8" stroke-width="3.6"/>
<line x1="525.6" y1="432.1" x2="535.6" y2="425.6" stroke="#c09870" stroke-width="1.2"/>
<line x1="535.6" y1="425.6" x2="545.6" y2="419.1" stroke="#ccd6f0" stroke-width="1.2"/>
<line x1="545.6" y1="419.1" x2="555.5" y2="425.6" stroke="#8f9cc8" stroke-width="3.6"/>
<line x1="555.5" y1="425.6" x2="565.5" y2="432.1" stroke="#6e4426" stroke-width="3.6"/>
<line x1="545.6" y1="419.1" x2="555.5" y2="425.6" stroke="#ccd6f0" stroke-width="1.2"/>
<line x1="555.5" y1="425.6" x2="565.5" y2="432.1" stroke="#c09870" stroke-width="1.2"/>
<line x1="525.6" y1="432.1" x2="525" y2="444.1" stroke="#6e4426" stroke-width="3.6"/>
<line x1="525" y1="444.1" x2="524.5" y2="456.1" stroke="#8f9cc8" stroke-width="3.6"/>
<line x1="525.6" y1="432.1" x2="525" y2="444.1" stroke="#c09870" stroke-width="1.2"/>
<line x1="525" y1="444.1" x2="524.5" y2="456.1" stroke="#ccd6f0" stroke-width="1.2"/>
<line x1="565.5" y1="432.1" x2="565.7" y2="444.1" stroke="#6e4426" stroke-width="3.6"/>
<line x1="565.7" y1="444.1" x2="565.9" y2="456.1" stroke="#8f9cc8" stroke-width="3.6"/>
<line x1="565.5" y1="432.1" x2="565.7" y2="444.1" stroke="#c09870" stroke-width="1.2"/>
<line x1="565.7" y1="444.1" x2="565.9" y2="456.1" stroke="#ccd6f0" stroke-width="1.2"/>
<line x1="524.5" y1="456.1" x2="535" y2="461.6" stroke="#8f9cc8" stroke-width="3.6"/>
<line x1="535" y1="461.6" x2="545.4" y2="467.1" stroke="#6e4426" stroke-width="3.6"/>
<line x1="524.5" y1="456.1" x2="535" y2="461.6" stroke="#ccd6f0" stroke-width="1.2"/>
<line x1="535" y1="461.6" x2="545.4" y2="467.1" stroke="#c09870" stroke-width="1.2"/>
<line x1="565.9" y1="456.1" x2="555.6" y2="461.6" stroke="#8f9cc8" stroke-width="3.6"/>
<line x1="555.6" y1="461.6" x2="545.4" y2="467.1" stroke="#6e4426" stroke-width="3.6"/>
<line x1="565.9" y1="456.1" x2="555.6" y2="461.6" stroke="#ccd6f0" stroke-width="1.2"/>
<line x1="555.6" y1="461.6" x2="545.4" y2="467.1" stroke="#c09870" stroke-width="1.2"/>
<line x1="545.4" y1="467.1" x2="545.4" y2="480" stroke="#6e4426" stroke-width="3.6"/>
<line x1="545.4" y1="480" x2="545.4" y2="492.9" stroke="#6e4426" stroke-width="3.6"/>
<line x1="545.4" y1="467.1" x2="545.4" y2="480" stroke="#c09870" stroke-width="1.2"/>
<line x1="545.4" y1="480" x2="545.4" y2="492.9" stroke="#c09870" stroke-width="1.2"/>
<line x1="545.4" y1="492.9" x2="534.8" y2="499.4" stroke="#6e4426" stroke-width="3.6"/>
<line x1="534.8" y1="499.4" x2="524.2" y2="505.9" stroke="#6e4426" stroke-width="3.6"/>
<line x1="545.4" y1="492.9" x2="534.8" y2="499.4" stroke="#c09870" stroke-width="1.2"/>
<line x1="534.8" y1="499.4" x2="524.2" y2="505.9" stroke="#c09870" stroke-width="1.2"/>
<line x1="545.4" y1="492.9" x2="556.2" y2="499.4" stroke="#6e4426" stroke-width="3.6"/>
<line x1="556.2" y1="499.4" x2="567.1" y2="505.9" stroke="#6e4426" stroke-width="3.6"/>
<line x1="545.4" y1="492.9" x2="556.2" y2="499.4" stroke="#c09870" stroke-width="1.2"/>
<line x1="556.2" y1="499.4" x2="567.1" y2="505.9" stroke="#c09870" stroke-width="1.2"/>
<line x1="524.2" y1="505.9" x2="516.2" y2="501.2" stroke="#6e4426" stroke-width="3.6"/>
<line x1="516.2" y1="501.2" x2="508.2" y2="496.5" stroke="#d8b4b4" stroke-width="3.6"/>
<line x1="524.2" y1="505.9" x2="516.2" y2="501.2" stroke="#c09870" stroke-width="1.2"/>
<line x1="516.2" y1="501.2" x2="508.2" y2="496.5" stroke="#fbeaea" stroke-width="1.2"/>
<line x1="567.1" y1="505.9" x2="574.8" y2="500.8" stroke="#6e4426" stroke-width="3.6"/>
<line x1="574.8" y1="500.8" x2="582.5" y2="495.6" stroke="#d8b4b4" stroke-width="3.6"/>
<line x1="567.1" y1="505.9" x2="574.8" y2="500.8" stroke="#c09870" stroke-width="1.2"/>
<line x1="574.8" y1="500.8" x2="582.5" y2="495.6" stroke="#fbeaea" stroke-width="1.2"/>
<line x1="565.5" y1="432.1" x2="576.5" y2="425.8" stroke="#6e4426" stroke-width="3.6"/>
<line x1="576.5" y1="425.8" x2="587.6" y2="419.5" stroke="#6e4426" stroke-width="3.6"/>
<line x1="565.5" y1="432.1" x2="576.5" y2="425.8" stroke="#c09870" stroke-width="1.2"/>
<line x1="576.5" y1="425.8" x2="587.6" y2="419.5" stroke="#c09870" stroke-width="1.2"/>
<line x1="587.6" y1="419.5" x2="587.6" y2="407.2" stroke="#6e4426" stroke-width="3.6"/>
<line x1="587.6" y1="407.2" x2="587.6" y2="395" stroke="#6e4426" stroke-width="3.6"/>
<line x1="587.6" y1="419.5" x2="587.6" y2="407.2" stroke="#c09870" stroke-width="1.2"/>
<line x1="587.6" y1="407.2" x2="587.6" y2="395" stroke="#c09870" stroke-width="1.2"/>
<line x1="587.6" y1="395" x2="579.7" y2="390.5" stroke="#6e4426" stroke-width="3.6"/>
<line x1="579.7" y1="390.5" x2="571.7" y2="385.9" stroke="#d8b4b4" stroke-width="3.6"/>
<line x1="587.6" y1="395" x2="579.7" y2="390.5" stroke="#c09870" stroke-width="1.2"/>
<line x1="579.7" y1="390.5" x2="571.7" y2="385.9" stroke="#fbeaea" stroke-width="1.2"/>
<line x1="587.6" y1="419.5" x2="598.3" y2="425.4" stroke="#6e4426" stroke-width="3.6"/>
<line x1="598.3" y1="425.4" x2="609" y2="431.2" stroke="#6e4426" stroke-width="3.6"/>
<line x1="587.6" y1="419.5" x2="598.3" y2="425.4" stroke="#c09870" stroke-width="1.2"/>
<line x1="598.3" y1="425.4" x2="609" y2="431.2" stroke="#c09870" stroke-width="1.2"/>
<line x1="609" y1="431.2" x2="608.8" y2="441" stroke="#6e4426" stroke-width="3.6"/>
<line x1="608.8" y1="441" x2="608.5" y2="450.8" stroke="#d8b4b4" stroke-width="3.6"/>
<line x1="609" y1="431.2" x2="608.8" y2="441" stroke="#c09870" stroke-width="1.2"/>
<line x1="608.8" y1="441" x2="608.5" y2="450.8" stroke="#fbeaea" stroke-width="1.2"/>
<circle cx="397.2" cy="309.2" r="5.6" fill="url(#gC)"/>
<circle cx="418.2" cy="321.3" r="5.6" fill="url(#gC)"/>
<circle cx="439.4" cy="309.2" r="5.6" fill="url(#gC)"/>
<circle cx="380.7" cy="318.8" r="3.3" fill="url(#gH)"/>
<circle cx="455.7" cy="318.8" r="3.3" fill="url(#gH)"/>
<circle cx="418.2" cy="347.3" r="5.6" fill="url(#gC)"/>
<circle cx="396.6" cy="358.3" r="5.2" fill="url(#gN)"/>
<circle cx="439" cy="358.3" r="5.2" fill="url(#gN)"/>
<circle cx="398" cy="381.8" r="5.6" fill="url(#gC)"/>
<circle cx="438.4" cy="381.8" r="5.6" fill="url(#gC)"/>
<circle cx="417.8" cy="393.9" r="5.2" fill="url(#gN)"/>
<circle cx="376" cy="393.9" r="5.6" fill="url(#gC)"/>
<circle cx="354.7" cy="382.3" r="5.6" fill="url(#gC)"/>
<circle cx="354.7" cy="364.4" r="3.3" fill="url(#gH)"/>
<circle cx="376" cy="418.9" r="5.6" fill="url(#gC)"/>
<circle cx="354.7" cy="431" r="5.6" fill="url(#gC)"/>
<circle cx="391.8" cy="428.5" r="3.3" fill="url(#gH)"/>
<circle cx="354.7" cy="450.3" r="3.3" fill="url(#gH)"/>
<circle cx="460.2" cy="394.4" r="5.6" fill="url(#gC)"/>
<circle cx="481.9" cy="382.3" r="5.6" fill="url(#gC)"/>
<circle cx="481.9" cy="365.3" r="3.3" fill="url(#gH)"/>
<circle cx="460.2" cy="419.2" r="5.6" fill="url(#gC)"/>
<circle cx="481.9" cy="431.1" r="5.6" fill="url(#gC)"/>
<circle cx="445.7" cy="427.6" r="3.3" fill="url(#gH)"/>
<circle cx="482.2" cy="450.3" r="3.3" fill="url(#gH)"/>
<circle cx="502.4" cy="395" r="5.6" fill="url(#gC)"/>
<circle cx="519.6" cy="385.9" r="3.3" fill="url(#gH)"/>
<circle cx="502.4" cy="419.5" r="5.6" fill="url(#gC)"/>
<circle cx="525.6" cy="432.1" r="5.6" fill="url(#gC)"/>
<circle cx="545.6" cy="419.1" r="5.2" fill="url(#gN)"/>
<circle cx="565.5" cy="432.1" r="5.6" fill="url(#gC)"/>
<circle cx="524.5" cy="456.1" r="5.2" fill="url(#gN)"/>
<circle cx="565.9" cy="456.1" r="5.2" fill="url(#gN)"/>
<circle cx="545.4" cy="467.1" r="5.6" fill="url(#gC)"/>
<circle cx="545.4" cy="492.9" r="5.6" fill="url(#gC)"/>
<circle cx="524.2" cy="505.9" r="5.6" fill="url(#gC)"/>
<circle cx="567.1" cy="505.9" r="5.6" fill="url(#gC)"/>
<circle cx="508.2" cy="496.5" r="3.3" fill="url(#gH)"/>
<circle cx="582.5" cy="495.6" r="3.3" fill="url(#gH)"/>
<circle cx="587.6" cy="419.5" r="5.6" fill="url(#gC)"/>
<circle cx="587.6" cy="395" r="5.6" fill="url(#gC)"/>
<circle cx="571.7" cy="385.9" r="3.3" fill="url(#gH)"/>
<circle cx="609" cy="431.2" r="5.6" fill="url(#gC)"/>
<circle cx="608.5" cy="450.8" r="3.3" fill="url(#gH)"/>
<circle cx="418.2" cy="347.3" r="7" fill="url(#cg)" stroke="#18a4ac" stroke-width="1.5" fill-opacity="0.5"/>
<circle cx="398" cy="381.8" r="7" fill="url(#cg)" stroke="#18a4ac" stroke-width="1.5" fill-opacity="0.5"/>
<circle cx="438.4" cy="381.8" r="7.4" fill="url(#cg)" stroke="#18a4ac" stroke-width="1.5" fill-opacity="0.5"/>
<circle cx="460.2" cy="419.2" r="7" fill="url(#cg)" stroke="#18a4ac" stroke-width="1.5" fill-opacity="0.5"/>
<circle cx="376" cy="393.9" r="5.5" fill="url(#cg)" stroke="#18a4ac" stroke-width="1.5" fill-opacity="0.5"/>
<circle cx="460.2" cy="394.4" r="5" fill="url(#cg)" stroke="#18a4ac" stroke-width="1.5" fill-opacity="0.5"/>
<circle cx="418.2" cy="347.3" r="5" fill="url(#gC)"/>
<circle cx="398" cy="381.8" r="5" fill="url(#gC)"/>
<circle cx="438.4" cy="381.8" r="5" fill="url(#gC)"/>
<circle cx="460.2" cy="419.2" r="5" fill="url(#gC)"/>
<circle cx="376" cy="393.9" r="5" fill="url(#gC)"/>
<circle cx="460.2" cy="394.4" r="5" fill="url(#gC)"/>
<circle cx="545.6" cy="419.1" r="5.2" fill="#7fd8e6" stroke="#3cb8d0" stroke-width="1"/>
<circle cx="544.6" cy="418.1" r="2" fill="#d8f4fa" stroke="none" stroke-width="1"/>
<ellipse cx="423.9" cy="382.2" rx="8.5" ry="3.6" fill="#e6ef78" fill-opacity="0.7" stroke="#a8be28" stroke-width="0.8" transform="rotate(-8 423.9 382.2)"/>
<ellipse cx="390.6" cy="381.5" rx="3.6" ry="4.6" fill="#e6ef78" fill-opacity="0.6" stroke="#a8be28" stroke-width="0.8" transform="rotate(0 390.6 381.5)"/>
<ellipse cx="447.5" cy="381.5" rx="3" ry="4" fill="#e6ef78" fill-opacity="0.6" stroke="#a8be28" stroke-width="0.8" transform="rotate(0 447.5 381.5)"/>
<ellipse cx="391" cy="372.5" rx="3" ry="3.6" fill="#e6ef78" fill-opacity="0.5" stroke="#a8be28" stroke-width="0.8" transform="rotate(0 391 372.5)"/>
<ellipse cx="445" cy="372.5" rx="3" ry="3.6" fill="#e6ef78" fill-opacity="0.5" stroke="#a8be28" stroke-width="0.8" transform="rotate(0 445 372.5)"/>
<ellipse cx="418.3" cy="339.5" rx="4" ry="2.2" fill="#e6ef78" fill-opacity="0.5" stroke="#a8be28" stroke-width="0.8" transform="rotate(0 418.3 339.5)"/>
<ellipse cx="426.5" cy="356.5" rx="4" ry="2.2" fill="#e6ef78" fill-opacity="0.5" stroke="#a8be28" stroke-width="0.8" transform="rotate(30 426.5 356.5)"/>
<ellipse cx="410" cy="356.5" rx="4" ry="2.2" fill="#e6ef78" fill-opacity="0.5" stroke="#a8be28" stroke-width="0.8" transform="rotate(-30 410 356.5)"/>
<path d="M374.0 392.0 C374.9 390.7 377.5 393.3 379.0 396.0 C380.5 398.7 381.0 404.0 383.0 408.0 C385.0 412.0 388.3 416.7 391.0 420.0 C393.7 423.3 398.2 425.8 399.0 428.0 C399.8 430.2 397.8 433.2 396.0 433.0 C394.2 432.8 390.8 429.7 388.0 427.0 C385.2 424.3 381.4 420.8 379.0 417.0 C376.6 413.2 374.3 408.2 373.5 404.0 C372.7 399.8 373.1 393.3 374.0 392.0 Z" fill="url(#cg)" fill-opacity="0.85" stroke="#18a4ac" stroke-width="1.1"/>
<path d="M396.0 392.0 C397.2 389.6 399.5 386.8 403.0 385.5 C406.5 384.2 412.3 384.0 417.0 384.0 C421.7 384.0 427.3 384.2 431.0 385.5 C434.7 386.8 437.6 389.4 439.0 392.0 C440.4 394.6 440.7 398.3 439.5 401.0 C438.3 403.7 434.6 407.1 432.0 408.0 C429.4 408.9 426.5 406.3 424.0 406.5 C421.5 406.7 419.5 408.9 417.0 409.0 C414.5 409.1 411.8 407.3 409.0 407.0 C406.2 406.7 402.2 408.2 400.0 407.0 C397.8 405.8 396.2 402.5 395.5 400.0 C394.8 397.5 394.8 394.4 396.0 392.0 Z" fill="url(#cg)" fill-opacity="0.88" stroke="#18a4ac" stroke-width="1.1"/>
<path d="M387.0 408.0 C387.8 406.0 389.0 403.2 391.0 402.0 C393.0 400.8 396.5 400.3 399.0 401.0 C401.5 401.7 404.5 403.8 406.0 406.0 C407.5 408.2 408.3 411.5 408.0 414.0 C407.7 416.5 406.0 419.4 404.0 421.0 C402.0 422.6 398.5 423.7 396.0 423.5 C393.5 423.3 390.7 421.6 389.0 420.0 C387.3 418.4 386.3 416.0 386.0 414.0 C385.7 412.0 386.2 410.0 387.0 408.0 Z" fill="url(#yg)" fill-opacity="0.92" stroke="#a8be28" stroke-width="1.0"/>
<path d="M421.0 411.0 C423.6 409.1 426.8 407.8 430.0 407.5 C433.2 407.2 437.5 407.4 440.0 409.0 C442.5 410.6 444.2 413.8 445.0 417.0 C445.8 420.2 445.5 424.5 444.5 428.0 C443.5 431.5 441.4 435.5 439.0 438.0 C436.6 440.5 432.9 442.7 430.0 443.0 C427.1 443.3 423.8 442.2 421.5 440.0 C419.2 437.8 417.2 433.5 416.0 430.0 C414.8 426.5 413.7 422.2 414.5 419.0 C415.3 415.8 418.4 412.9 421.0 411.0 Z" fill="url(#yg)" fill-opacity="0.92" stroke="#a8be28" stroke-width="1.0"/>
<path d="M382.5 432.0 C383.3 430.1 384.9 427.5 387.0 426.5 C389.1 425.5 392.7 425.2 395.0 426.0 C397.3 426.8 399.8 428.8 401.0 431.0 C402.2 433.2 402.4 436.5 402.0 439.0 C401.6 441.5 400.3 444.5 398.5 446.0 C396.7 447.5 393.3 448.3 391.0 448.0 C388.7 447.7 386.0 445.7 384.5 444.0 C383.0 442.3 382.3 440.0 382.0 438.0 C381.7 436.0 381.7 433.9 382.5 432.0 Z" fill="url(#yg)" fill-opacity="0.92" stroke="#a8be28" stroke-width="1.0"/>
<path d="M436.0 447.0 C437.8 445.8 441.2 443.9 444.0 443.5 C446.8 443.1 450.8 443.4 453.0 444.5 C455.2 445.6 457.2 448.2 457.5 450.0 C457.8 451.8 456.8 453.9 455.0 455.0 C453.2 456.1 449.8 456.5 447.0 456.5 C444.2 456.5 440.3 455.9 438.0 455.0 C435.7 454.1 433.3 452.3 433.0 451.0 C432.7 449.7 434.2 448.2 436.0 447.0 Z" fill="url(#yg)" fill-opacity="0.92" stroke="#a8be28" stroke-width="1.0"/>
<path d="M421.5 470.0 C421.3 467.6 422.2 464.8 424.0 463.0 C425.8 461.2 428.8 459.8 432.0 459.0 C435.2 458.2 439.7 458.1 443.0 458.5 C446.3 458.9 449.9 459.9 452.0 461.5 C454.1 463.1 455.5 465.6 455.5 468.0 C455.5 470.4 453.9 473.8 452.0 476.0 C450.1 478.2 447.0 480.1 444.0 481.0 C441.0 481.9 437.2 482.1 434.0 481.5 C430.8 480.9 427.1 479.4 425.0 477.5 C422.9 475.6 421.7 472.4 421.5 470.0 Z" fill="url(#yg)" fill-opacity="0.94" stroke="#a8be28" stroke-width="1.0"/>
<ellipse cx="451.5" cy="419.5" rx="4.5" ry="6.5" fill="#e6ef78" fill-opacity="0.7" stroke="#a8be28" stroke-width="0.8" transform="rotate(20 451.5 419.5)"/>
<ellipse cx="417" cy="399.5" rx="7" ry="4.5" fill="#e6ef78" fill-opacity="0.75" stroke="#a8be28" stroke-width="0.8" transform="rotate(0 417 399.5)"/>
<path d="M401.0 449.0 C402.2 447.3 404.5 445.3 407.0 445.0 C409.5 444.7 413.7 445.8 416.0 447.0 C418.3 448.2 420.5 450.0 421.0 452.0 C421.5 454.0 420.7 457.2 419.0 459.0 C417.3 460.8 413.7 462.7 411.0 463.0 C408.3 463.3 404.9 462.3 403.0 461.0 C401.1 459.7 399.8 457.0 399.5 455.0 C399.2 453.0 399.8 450.7 401.0 449.0 Z" fill="url(#cg)" fill-opacity="0.9" stroke="#18a4ac" stroke-width="1.1"/>
<path d="M428.0 456.0 C428.2 454.4 431.3 453.0 434.0 452.5 C436.7 452.0 441.2 452.3 444.0 453.0 C446.8 453.7 450.0 455.2 451.0 456.5 C452.0 457.8 451.5 459.9 450.0 461.0 C448.5 462.1 444.8 462.8 442.0 463.0 C439.2 463.2 435.3 463.2 433.0 462.0 C430.7 460.8 427.8 457.6 428.0 456.0 Z" fill="url(#cg)" fill-opacity="0.9" stroke="#18a4ac" stroke-width="1.1"/>
<path d="M409.0 440.0 C409.7 438.5 413.2 437.0 416.0 437.0 C418.8 437.0 423.0 438.7 426.0 440.0 C429.0 441.3 433.3 443.5 434.0 445.0 C434.7 446.5 432.2 448.5 430.0 449.0 C427.8 449.5 424.0 448.5 421.0 448.0 C418.0 447.5 414.0 447.3 412.0 446.0 C410.0 444.7 408.3 441.5 409.0 440.0 Z" fill="url(#cg)" fill-opacity="0.85" stroke="#18a4ac" stroke-width="1.1"/>
<ellipse cx="404.8" cy="421.6" rx="4.5" ry="5" fill="#80dfe2" fill-opacity="0.7" stroke="#18a4ac" stroke-width="0.8" transform="rotate(0 404.8 421.6)"/>
<ellipse cx="447" cy="431" rx="5" ry="4" fill="#80dfe2" fill-opacity="0.7" stroke="#18a4ac" stroke-width="0.8" transform="rotate(-30 447 431)"/>
<ellipse cx="410.5" cy="424" rx="3.5" ry="6" fill="#e6ef78" fill-opacity="0.6" stroke="#a8be28" stroke-width="0.8" transform="rotate(-20 410.5 424)"/>
<line x1="414.8" y1="408" x2="402.5" y2="446" stroke="#2a4cc0" stroke-width="1.6"/>
<line x1="408" y1="430" x2="402.5" y2="446" stroke="#e83a1a" stroke-width="2"/>
<line x1="416.5" y1="410" x2="423.5" y2="444" stroke="#7a5a3a" stroke-width="1.6"/>
<line x1="414.5" y1="412" x2="414.5" y2="422" stroke="#2030a0" stroke-width="2.2"/>
<line x1="402.5" y1="446.5" x2="422" y2="445.5" stroke="#8a7a5a" stroke-width="2.2"/>
<line x1="424" y1="446" x2="439" y2="456.5" stroke="#d04020" stroke-width="1.6"/>
<ellipse cx="419.8" cy="445.4" rx="6" ry="2.2" fill="#7a7468"/>
<ellipse cx="402.3" cy="446.6" rx="3" ry="2.4" fill="#f0501a"/>
<ellipse cx="440.2" cy="457.7" rx="4.3" ry="2.6" fill="#d8121a"/>
<circle cx="415.5" cy="406.5" r="4.6" fill="#2436b0" stroke="none" stroke-width="1"/>
<circle cx="414.8" cy="405.5" r="2" fill="#3a5ad8" stroke="none" stroke-width="1"/>
<ellipse cx="417" cy="399.5" rx="4.5" ry="3" fill="#e6ef78" fill-opacity="0.6" stroke="#a8be28" stroke-width="0.8" transform="rotate(0 417 399.5)"/>
<ellipse cx="417" cy="398.8" rx="2.6" ry="1.6" fill="#c8c8d8"/>
<ellipse cx="429" cy="426" rx="4" ry="3" fill="#e6ef78" fill-opacity="0.0" stroke="#a8be28" stroke-width="0.8" transform="rotate(0 429 426)"/>
<circle cx="446.2" cy="427.6" r="3.2" fill="url(#gH)"/>
<ellipse cx="482" cy="430.5" rx="2.6" ry="3" fill="#e6ef78" fill-opacity="0.6" stroke="#a8be28" stroke-width="0.8" transform="rotate(0 482 430.5)"/>
<ellipse cx="478" cy="451" rx="1.6" ry="2.4" fill="#80dfe2" fill-opacity="0.6" stroke="#18a4ac" stroke-width="0.8" transform="rotate(0 478 451)"/>
<path d="M446.9 365.9 C449.1 366.6 455.9 367.6 460.1 370.3 C464.3 373.0 468.9 377.4 471.9 382.1 C474.8 386.8 476.8 392.9 477.8 398.3 C478.8 403.7 478.8 409.4 477.8 414.5 C476.8 419.6 474.6 424.9 471.9 429.2 C469.2 433.5 465.0 437.6 461.6 440.3 C458.2 443.0 454.0 444.3 451.3 445.4 C448.6 446.5 446.5 446.6 445.5 446.8 L443.9 449.8 L435.1 441 L446.2 432.2 L445.6 438.8 C447.1 438.2 451.4 437.0 454.3 435.1 C457.2 433.2 460.5 430.9 463.1 427.7 C465.7 424.5 468.5 420.2 469.7 416.0 C470.9 411.8 471.1 407.1 470.5 402.7 C469.9 398.3 468.2 393.4 466.0 389.5 C463.8 385.6 460.6 381.8 457.2 379.1 C453.8 376.5 447.7 374.5 445.8 373.6 Z" fill="#2f44a8"/>
<circle cx="481.9" cy="382.3" r="5.6" fill="url(#gC)"/>
<circle cx="481.9" cy="431.1" r="5.6" fill="url(#gC)"/>
<path d="M380.5 486 L388.4 499 L372.6 499 Z" fill="none" stroke="#2f44a8" stroke-width="1.7"/>
<text x="393.6" y="500" font-size="21.3" fill="#2f44a8" font-weight="bold">q=0.51|e|</text>
<text x="346.7" y="518.3" font-size="17.5" fill="#0c0c0c">*CO<tspan dy="4" font-size="68%">2</tspan><tspan dy="-4">&#8203;</tspan>@Co<tspan dy="4" font-size="68%">1</tspan><tspan dy="-4">&#8203;</tspan>/CTF-NSs</text>
<line x1="521" y1="307.8" x2="608" y2="307.8" stroke="#7a4c2c" stroke-width="2.2"/>
<line x1="535" y1="307.8" x2="566" y2="309" stroke="#7a4c2c" stroke-width="3.2"/>
<ellipse cx="544.3" cy="301.8" rx="3.1" ry="3.7" fill="url(#cgs)" fill-opacity="0.95" stroke="#1a98a8" stroke-width="0.8" transform="rotate(0 544.3 301.8)"/>
<ellipse cx="539.5" cy="313.1" rx="2.7" ry="3.3" fill="url(#cgs)" fill-opacity="0.95" stroke="#1a98a8" stroke-width="0.8" transform="rotate(0 539.5 313.1)"/>
<ellipse cx="564" cy="304" rx="2.7" ry="3.3" fill="url(#cgs)" fill-opacity="0.95" stroke="#1a98a8" stroke-width="0.8" transform="rotate(0 564 304)"/>
<ellipse cx="565.9" cy="313.1" rx="2.7" ry="3.3" fill="url(#cgs)" fill-opacity="0.95" stroke="#1a98a8" stroke-width="0.8" transform="rotate(0 565.9 313.1)"/>
<ellipse cx="585.6" cy="303.2" rx="2.7" ry="3.3" fill="url(#cgs)" fill-opacity="0.95" stroke="#1a98a8" stroke-width="0.8" transform="rotate(0 585.6 303.2)"/>
<ellipse cx="585.6" cy="311.5" rx="2.5" ry="3.1" fill="url(#cgs)" fill-opacity="0.95" stroke="#1a98a8" stroke-width="0.8" transform="rotate(0 585.6 311.5)"/>
<ellipse cx="540" cy="304.8" rx="1.8" ry="2.2" fill="url(#ygs)" fill-opacity="0.95" stroke="#a8b020" stroke-width="0.8" transform="rotate(0 540 304.8)"/>
<ellipse cx="554.5" cy="315.1" rx="2.2" ry="4.8" fill="url(#ygs)" fill-opacity="0.95" stroke="#a8b020" stroke-width="0.8" transform="rotate(-15 554.5 315.1)"/>
<circle cx="521" cy="308.3" r="2.7" fill="url(#gN)"/>
<circle cx="535.3" cy="307.8" r="3.8" fill="url(#gC)"/>
<circle cx="542.5" cy="307.8" r="3.8" fill="url(#gC)"/>
<circle cx="557.5" cy="308.4" r="3.9" fill="url(#gC)"/>
<circle cx="564.7" cy="309" r="3.7" fill="url(#gC)"/>
<circle cx="578.4" cy="307.2" r="2.8" fill="url(#gN)"/>
<circle cx="585.6" cy="307.2" r="2.8" fill="url(#gC)"/>
<circle cx="600.6" cy="307.5" r="3.3" fill="url(#gC)"/>
<circle cx="607.8" cy="307.5" r="3.3" fill="url(#gC)"/>
<circle cx="524.6" cy="304.8" r="1.7" fill="url(#gH)"/>
<circle cx="575.4" cy="310.7" r="1.7" fill="url(#gH)"/>
<circle cx="537.5" cy="303.3" r="1.7" fill="url(#gH)"/>
<circle cx="561" cy="310.3" r="1.7" fill="url(#gH)"/>
<line x1="521" y1="348.5" x2="608" y2="348.5" stroke="#7a4c2c" stroke-width="2.2"/>
<line x1="535" y1="348.5" x2="566" y2="347.3" stroke="#7a4c2c" stroke-width="3.2"/>
<ellipse cx="544.3" cy="354.5" rx="3.1" ry="3.7" fill="url(#cgs)" fill-opacity="0.95" stroke="#1a98a8" stroke-width="0.8" transform="rotate(0 544.3 354.5)"/>
<ellipse cx="539.5" cy="343.2" rx="2.7" ry="3.3" fill="url(#cgs)" fill-opacity="0.95" stroke="#1a98a8" stroke-width="0.8" transform="rotate(0 539.5 343.2)"/>
<ellipse cx="564" cy="352.3" rx="2.7" ry="3.3" fill="url(#cgs)" fill-opacity="0.95" stroke="#1a98a8" stroke-width="0.8" transform="rotate(0 564 352.3)"/>
<ellipse cx="565.9" cy="343.2" rx="2.7" ry="3.3" fill="url(#cgs)" fill-opacity="0.95" stroke="#1a98a8" stroke-width="0.8" transform="rotate(0 565.9 343.2)"/>
<ellipse cx="585.6" cy="353.1" rx="2.7" ry="3.3" fill="url(#cgs)" fill-opacity="0.95" stroke="#1a98a8" stroke-width="0.8" transform="rotate(0 585.6 353.1)"/>
<ellipse cx="585.6" cy="344.8" rx="2.5" ry="3.1" fill="url(#cgs)" fill-opacity="0.95" stroke="#1a98a8" stroke-width="0.8" transform="rotate(0 585.6 344.8)"/>
<ellipse cx="540" cy="351.5" rx="1.8" ry="2.2" fill="url(#ygs)" fill-opacity="0.95" stroke="#a8b020" stroke-width="0.8" transform="rotate(0 540 351.5)"/>
<ellipse cx="554.5" cy="341.2" rx="2.2" ry="4.8" fill="url(#ygs)" fill-opacity="0.95" stroke="#a8b020" stroke-width="0.8" transform="rotate(15 554.5 341.2)"/>
<circle cx="521" cy="348" r="2.7" fill="url(#gN)"/>
<circle cx="535.3" cy="348.5" r="3.8" fill="url(#gC)"/>
<circle cx="542.5" cy="348.5" r="3.8" fill="url(#gC)"/>
<circle cx="557.5" cy="347.9" r="3.9" fill="url(#gC)"/>
<circle cx="564.7" cy="347.3" r="3.7" fill="url(#gC)"/>
<circle cx="578.4" cy="349.1" r="2.8" fill="url(#gN)"/>
<circle cx="585.6" cy="349.1" r="2.8" fill="url(#gC)"/>
<circle cx="600.6" cy="348.8" r="3.3" fill="url(#gC)"/>
<circle cx="607.8" cy="348.8" r="3.3" fill="url(#gC)"/>
<circle cx="524.6" cy="351.5" r="1.7" fill="url(#gH)"/>
<circle cx="575.4" cy="345.6" r="1.7" fill="url(#gH)"/>
<circle cx="537.5" cy="353" r="1.7" fill="url(#gH)"/>
<circle cx="561" cy="346" r="1.7" fill="url(#gH)"/>
<ellipse cx="512.3" cy="326.9" rx="4.8" ry="8.6" fill="url(#ygs)" fill-opacity="1" stroke="#a8b020" stroke-width="0.8" transform="rotate(0 512.3 326.9)"/>
<ellipse cx="553.9" cy="327.3" rx="8" ry="9.2" fill="url(#cgs)" fill-opacity="1" stroke="#1a98a8" stroke-width="0.8" transform="rotate(0 553.9 327.3)"/>
<ellipse cx="528" cy="327" rx="9" ry="7.5" fill="url(#cgs)" fill-opacity="1" stroke="#1a98a8" stroke-width="0.8" transform="rotate(0 528 327)"/>
<ellipse cx="539" cy="326.9" rx="10" ry="12" fill="url(#ygs)" fill-opacity="1" stroke="#a8b020" stroke-width="0.8" transform="rotate(0 539 326.9)"/>
<circle cx="524.2" cy="326.9" r="6.2" fill="#d4e84a" stroke="#a8be28" stroke-width="0.8"/>
<circle cx="523.5" cy="326.5" r="2" fill="#f0b030" stroke="none" stroke-width="1"/>
<line x1="531" y1="327" x2="539" y2="327" stroke="#8a7a40" stroke-width="1"/>
<circle cx="546.2" cy="327.4" r="2.2" fill="#d8d070" stroke="#8a8a7a" stroke-width="1"/>
<text x="521.3" y="371.8" font-size="17.5" fill="#0c0c0c">Side view</text>
<text x="341.5" y="282.7" font-size="22" fill="#0c0c0c">d</text></g>
<g id="pe"><clipPath id="ce"><rect x="63.4" y="565.6" width="385.8" height="279.0"/></clipPath>
<g clip-path="url(#ce)">
<line x1="63.4" y1="612.3" x2="449.2" y2="612.3" stroke="#b74fa2" stroke-width="1.3"/>
<path d="M92.9 612.3 L101.3 592.9 L104.3 612.3 L101.3 629.9 Z" fill="#b74fa2" fill-opacity="1.0"/>
<path d="M131.4 565.6 L138.8 565.6 L139.9 612.3 L139.8 659.4 L131.9 659.4 L128.0 612.3 Z" fill="#b74fa2" fill-opacity="1.0"/>
<path d="M237.6 565.6 L243.6 565.6 L243.8 612.3 L243.6 659.4 L237.6 659.4 L236.2 612.3 Z" fill="#b74fa2" fill-opacity="1.0"/>
<line x1="63.4" y1="705" x2="449.2" y2="705" stroke="#b74fa2" stroke-width="1"/>
<path d="M97.7 705.0 L99.6 699.0 L101.0 691.0 L102.3 680.0 L103.6 691.0 L105.0 699.0 L106.9 705.0 L105.0 711.0 L103.6 718.0 L102.3 729.0 L101.0 718.0 L99.6 711.0 Z" fill="#b74fa2" fill-opacity="1.0"/>
<path d="M131.8 658.0 L139.8 658.0 L141.2 685.9 L142.8 696.9 L145.8 694.3 L148.4 704.9 L145.8 715.5 L142.8 712.9 L141.2 723.9 L139.8 753.8 L131.8 753.8 L130.4 723.9 L127.3 704.9 L130.4 685.9 Z" fill="#b74fa2" fill-opacity="1.0"/>
<path d="M237.8 657.9 L243.7 657.9 L244.5 683.5 L246.1 695.5 L250.9 701.5 L256.9 705.1 L250.9 708.7 L246.1 714.7 L244.5 726.6 L243.7 755.4 L237.8 755.4 L237.3 726.6 L235.4 714.7 L231.8 708.7 L229.4 705.1 L231.8 701.5 L235.4 695.5 L237.3 683.5 Z" fill="#b74fa2" fill-opacity="1.0"/>
<line x1="63.4" y1="705" x2="449.2" y2="705" stroke="#58b850" stroke-width="1.1"/>
<path d="M102.5 705.0 L106.5 702.4 L110.5 705.0 L106.5 707.6 Z" fill="#6fc044" fill-opacity="1.0"/>
<path d="M126.6 705.0 L131.8 702.4 L137.0 705.0 L131.8 707.6 Z" fill="#6fc044" fill-opacity="1.0"/>
<path d="M159.7 705.0 L165.2 702.2 L170.7 705.0 L165.2 707.8 Z" fill="#6fc044" fill-opacity="1.0"/>
<path d="M173.8 705.0 L177.2 701.5 L180.6 705.0 L177.2 708.5 Z" fill="#6fc044" fill-opacity="1.0"/>
<path d="M233.0 705.0 L239.0 702.1 L245.0 705.0 L239.0 707.9 Z" fill="#6fc044" fill-opacity="1.0"/>
<path d="M270.6 705.0 L273.2 703.0 L275.8 705.0 L273.2 707.0 Z" fill="#6fc044" fill-opacity="1.0"/>
<path d="M305.9 705.0 L308.9 702.5 L311.9 705.0 L308.9 707.5 Z" fill="#6fc044" fill-opacity="1.0"/>
<path d="M387.6 705.0 L391.0 702.0 L394.4 705.0 L391.0 708.0 Z" fill="#6fc044" fill-opacity="1.0"/>
<path d="M401.7 705.0 L404.2 703.4 L406.7 705.0 L404.2 706.6 Z" fill="#6fc044" fill-opacity="1.0"/>
<path d="M440.7 705.0 L443.7 703.4 L446.7 705.0 L443.7 706.6 Z" fill="#6fc044" fill-opacity="1.0"/>
<path d="M116.0 705.0 L118.0 703.8 L120.0 705.0 L118.0 706.2 Z" fill="#6fc044" fill-opacity="1.0"/>
<path d="M188.0 705.0 L190.0 704.0 L192.0 705.0 L190.0 706.0 Z" fill="#6fc044" fill-opacity="1.0"/>
<path d="M203.0 705.0 L205.0 704.0 L207.0 705.0 L205.0 706.0 Z" fill="#6fc044" fill-opacity="1.0"/>
<path d="M288.0 705.0 L290.0 704.0 L292.0 705.0 L290.0 706.0 Z" fill="#6fc044" fill-opacity="1.0"/>
<path d="M343.0 705.0 L345.0 704.0 L347.0 705.0 L345.0 706.0 Z" fill="#6fc044" fill-opacity="1.0"/>
<path d="M418.0 705.0 L420.0 704.0 L422.0 705.0 L420.0 706.0 Z" fill="#6fc044" fill-opacity="1.0"/>
<path d="M148.6 705.0 L152.8 697.4 L157.0 705.0 L152.8 712.6 Z" fill="#6fc044" fill-opacity="1.0"/>
<path d="M254.6 705.0 L256.4 697.2 L258.6 674.0 L260.8 697.2 L262.6 705.0 L260.8 712.2 L258.6 734.0 L256.4 712.2 Z" fill="#6fc044" fill-opacity="1.0"/>
<path d="M312.0 705.1 L314.4 699.1 L316.1 687.6 L319.9 696.7 L322.8 705.1 L319.9 713.5 L316.1 721.9 L314.4 711.1 Z" fill="#6fc044" fill-opacity="1.0"/>
<path d="M123.3 798.2 L125.3 788.2 L127.3 764.2 L129.3 788.2 L131.5 798.2 L129.3 806.2 L127.3 823.0 L125.3 806.2 Z" fill="#b74fa2" fill-opacity="1.0"/>
<path d="M144.1 798.2 L148.8 790.7 L153.5 798.2 L148.8 805.7 Z" fill="#b74fa2" fill-opacity="1.0"/>
<path d="M157.9 798.2 L160.4 796.6 L162.9 798.2 L160.4 799.8 Z" fill="#b74fa2" fill-opacity="1.0"/>
<path d="M167.9 797.9 L169.9 787.9 L171.4 780.9 L174.9 778.5 L176.4 780.0 L178.4 788.9 L179.4 797.9 L178.9 804.9 L174.9 814.9 L171.9 824.9 L169.9 810.9 L168.4 801.9 Z" fill="#b74fa2" fill-opacity="1.0"/>
<path d="M179.4 797.9 L180.4 784.9 L182.4 767.0 L185.9 770.0 L189.8 778.0 L193.8 787.9 L196.8 796.4 L197.8 798.4 L196.8 799.4 L193.3 806.9 L189.8 814.9 L186.3 824.9 L183.9 834.8 L183.4 846.0 L181.9 834.8 L180.4 814.9 L179.7 804.9 Z" fill="#b74fa2" fill-opacity="1.0"/>
<path d="M261.7 798.2 L265.3 795.8 L268.9 791.7 L271.3 788.8 L273.7 790.5 L275.4 786.2 L277.8 780.9 L280.1 789.3 L282.5 791.0 L284.9 789.3 L286.9 783.3 L288.3 769.0 L289.3 751.7 L290.4 769.0 L291.6 786.9 L293.6 794.1 L297.6 798.2 L294.0 801.3 L292.1 807.3 L290.7 824.0 L289.7 845.6 L288.3 845.6 L287.3 816.9 L285.9 803.7 L284.0 807.8 L283.3 824.0 L282.8 845.6 L280.6 845.6 L280.1 816.9 L278.7 802.5 L276.1 805.4 L272.5 804.4 L268.9 801.5 L265.3 800.1 Z" fill="#b74fa2" fill-opacity="1.0"/>
<path d="M431.3 798.2 L433.4 790.5 L435.4 776.1 L437.3 790.5 L439.4 798.2 L436.6 799.6 L433.4 799.6 Z" fill="#b74fa2" fill-opacity="1.0"/>
<line x1="63.4" y1="798.2" x2="449.2" y2="798.2" stroke="#40bcec" stroke-width="1.1"/>
<path d="M309.6 798.2 L311.3 794.1 L313.2 798.2 Z" fill="#62cbe0" fill-opacity="0.88"/>
<path d="M316.1 798.2 L319.2 792.9 L321.6 786.9 L324.0 792.9 L327.1 796.5 L331.2 796.5 L333.6 790.5 L334.8 766.6 L335.5 749.8 L337.9 749.8 L338.8 766.6 L340.0 790.5 L341.2 798.2 Z" fill="#62cbe0" fill-opacity="0.88"/>
<path d="M349.1 798.2 L350.8 790.5 L352.0 749.8 L358.0 749.8 L358.7 771.3 L359.4 771.3 L360.4 749.8 L364.7 749.8 L366.4 771.3 L368.3 790.5 L370.2 798.2 Z" fill="#62cbe0" fill-opacity="0.88"/>
<path d="M347.9 798.2 L349.9 802.5 L351.5 808.0 L353.2 802.5 L355.1 798.2 Z" fill="#62cbe0" fill-opacity="0.88"/>
<path d="M379.8 798.2 L393.4 798.2 L391.0 802.5 L389.4 816.9 L388.4 845.6 L385.1 845.6 L384.1 816.9 L382.2 802.5 Z" fill="#62cbe0" fill-opacity="0.88"/>
<path d="M397.0 798.2 L431.8 798.2 L428.2 800.6 L423.4 802.0 L420.5 807.3 L419.3 845.6 L416.7 845.6 L415.7 807.3 L413.8 802.5 L410.9 800.6 L407.8 804.4 L405.4 806.3 L403.0 803.7 L399.9 800.6 Z" fill="#62cbe0" fill-opacity="0.88"/>
<path d="M399.4 798.2 L401.8 795.8 L405.4 797.0 L409.0 798.2 Z" fill="#62cbe0" fill-opacity="0.88"/>
<path d="M411.4 798.2 L417.4 794.1 L421.0 796.5 L425.8 795.8 L430.6 798.2 Z" fill="#62cbe0" fill-opacity="0.88"/>
<path d="M431.8 798.2 L433.9 791.7 L435.4 784.5 L437.0 791.7 L439.2 798.2 L441.3 800.6 L443.7 802.0 L446.1 804.9 L448.5 802.5 L448.5 796.5 L445.4 798.2 Z" fill="#62cbe0" fill-opacity="0.88"/>
<path d="M261.7 798.2 L266.5 796.0 L271.3 797.2 L274.9 794.1 L277.8 791.7 L280.1 795.8 L283.3 796.5 L286.4 792.9 L288.8 788.6 L291.2 794.1 L294.0 798.2 L291.2 801.3 L288.8 804.4 L286.4 802.0 L283.3 799.6 L280.1 802.5 L277.8 804.4 L274.9 801.3 L271.3 799.6 L266.5 800.1 Z" fill="#62cbe0" fill-opacity="0.88"/>
<path d="M332.8 798.0 L336.4 776.0 L340.0 798.0 Z" fill="#5f86d6" fill-opacity="0.85"/>
<path d="M358.3 798.0 L362.6 788.5 L366.8 798.0 Z" fill="#5f86d6" fill-opacity="0.85"/>
<path d="M432.8 798.0 L435.6 785.0 L438.4 798.0 Z" fill="#5f86d6" fill-opacity="0.7"/>
<path d="M123.8 798.2 L127.3 795.6 L130.8 798.2 L127.3 800.8 Z" fill="#62cbe0" fill-opacity="0.95"/>
<path d="M178.8 798.2 L182.8 795.4 L186.8 798.2 L182.8 801.0 Z" fill="#62cbe0" fill-opacity="0.95"/>
<path d="M186.5 798.2 L191.0 795.8 L195.5 798.2 L191.0 800.6 Z" fill="#62cbe0" fill-opacity="0.95"/>
<path d="M200.0 798.2 L205.0 796.2 L210.0 798.2 L205.0 800.2 Z" fill="#62cbe0" fill-opacity="0.95"/>
<path d="M209.0 798.2 L212.0 796.6 L215.0 798.2 L212.0 799.8 Z" fill="#62cbe0" fill-opacity="0.95"/>
<path d="M166.0 798.2 L170.0 797.0 L174.0 798.2 L170.0 799.4 Z" fill="#62cbe0" fill-opacity="0.95"/>
<path d="M221.0 798.2 L225.0 797.2 L229.0 798.2 L225.0 799.2 Z" fill="#62cbe0" fill-opacity="0.95"/>
<path d="M242.0 798.2 L245.0 797.0 L248.0 798.2 L245.0 799.4 Z" fill="#62cbe0" fill-opacity="0.95"/>
</g>
<rect x="87.9" y="696.9" width="70.9" height="15.7" fill="none" stroke="#1f7a38" stroke-width="1.9" stroke-dasharray="4.4 2.6"/>
<rect x="227.6" y="696.8" width="39.4" height="15.9" fill="none" stroke="#1f7a38" stroke-width="1.9" stroke-dasharray="4.4 2.6"/>
<rect x="118.5" y="785" width="180.3" height="24.5" fill="none" stroke="#2f44a8" stroke-width="1.9" stroke-dasharray="5.5 3"/>
<rect x="312" y="773.3" width="136.8" height="38.3" fill="none" stroke="#2f44a8" stroke-width="1.9" stroke-dasharray="5.5 3"/>
<line x1="184" y1="566.1" x2="184" y2="844.6" stroke="#111" stroke-width="1.9" stroke-dasharray="8.4 7.2"/>
<rect x="63.4" y="565.6" width="385.8" height="279" fill="none" stroke="#2a2a2a" stroke-width="1"/>
<line x1="63.4" y1="658.4" x2="449.2" y2="658.4" stroke="#2a2a2a" stroke-width="1"/>
<line x1="63.4" y1="751.6" x2="449.2" y2="751.6" stroke="#2a2a2a" stroke-width="1"/>
<line x1="94.1" y1="658.4" x2="94.1" y2="660.8" stroke="#2a2a2a" stroke-width="0.9"/>
<line x1="94.1" y1="751.6" x2="94.1" y2="754" stroke="#2a2a2a" stroke-width="0.9"/>
<line x1="94.1" y1="844.6" x2="94.1" y2="848.1" stroke="#2a2a2a" stroke-width="1"/>
<text x="93.5" y="862.8" font-size="14.6" text-anchor="middle" fill="#0c0c0c">-10</text>
<line x1="123.7" y1="658.4" x2="123.7" y2="660.8" stroke="#2a2a2a" stroke-width="0.9"/>
<line x1="123.7" y1="751.6" x2="123.7" y2="754" stroke="#2a2a2a" stroke-width="0.9"/>
<line x1="123.7" y1="844.6" x2="123.7" y2="846.8" stroke="#2a2a2a" stroke-width="1"/>
<line x1="153.2" y1="658.4" x2="153.2" y2="660.8" stroke="#2a2a2a" stroke-width="0.9"/>
<line x1="153.2" y1="751.6" x2="153.2" y2="754" stroke="#2a2a2a" stroke-width="0.9"/>
<line x1="153.2" y1="844.6" x2="153.2" y2="848.1" stroke="#2a2a2a" stroke-width="1"/>
<text x="152.6" y="862.8" font-size="14.6" text-anchor="middle" fill="#0c0c0c">-8</text>
<line x1="182.8" y1="658.4" x2="182.8" y2="660.8" stroke="#2a2a2a" stroke-width="0.9"/>
<line x1="182.8" y1="751.6" x2="182.8" y2="754" stroke="#2a2a2a" stroke-width="0.9"/>
<line x1="182.8" y1="844.6" x2="182.8" y2="846.8" stroke="#2a2a2a" stroke-width="1"/>
<line x1="212.3" y1="658.4" x2="212.3" y2="660.8" stroke="#2a2a2a" stroke-width="0.9"/>
<line x1="212.3" y1="751.6" x2="212.3" y2="754" stroke="#2a2a2a" stroke-width="0.9"/>
<line x1="212.3" y1="844.6" x2="212.3" y2="848.1" stroke="#2a2a2a" stroke-width="1"/>
<text x="211.7" y="862.8" font-size="14.6" text-anchor="middle" fill="#0c0c0c">-6</text>
<line x1="241.9" y1="658.4" x2="241.9" y2="660.8" stroke="#2a2a2a" stroke-width="0.9"/>
<line x1="241.9" y1="751.6" x2="241.9" y2="754" stroke="#2a2a2a" stroke-width="0.9"/>
<line x1="241.9" y1="844.6" x2="241.9" y2="846.8" stroke="#2a2a2a" stroke-width="1"/>
<line x1="271.4" y1="658.4" x2="271.4" y2="660.8" stroke="#2a2a2a" stroke-width="0.9"/>
<line x1="271.4" y1="751.6" x2="271.4" y2="754" stroke="#2a2a2a" stroke-width="0.9"/>
<line x1="271.4" y1="844.6" x2="271.4" y2="848.1" stroke="#2a2a2a" stroke-width="1"/>
<text x="270.8" y="862.8" font-size="14.6" text-anchor="middle" fill="#0c0c0c">-4</text>
<line x1="301" y1="658.4" x2="301" y2="660.8" stroke="#2a2a2a" stroke-width="0.9"/>
<line x1="301" y1="751.6" x2="301" y2="754" stroke="#2a2a2a" stroke-width="0.9"/>
<line x1="301" y1="844.6" x2="301" y2="846.8" stroke="#2a2a2a" stroke-width="1"/>
<line x1="330.5" y1="658.4" x2="330.5" y2="660.8" stroke="#2a2a2a" stroke-width="0.9"/>
<line x1="330.5" y1="751.6" x2="330.5" y2="754" stroke="#2a2a2a" stroke-width="0.9"/>
<line x1="330.5" y1="844.6" x2="330.5" y2="848.1" stroke="#2a2a2a" stroke-width="1"/>
<text x="329.9" y="862.8" font-size="14.6" text-anchor="middle" fill="#0c0c0c">-2</text>
<line x1="360.1" y1="658.4" x2="360.1" y2="660.8" stroke="#2a2a2a" stroke-width="0.9"/>
<line x1="360.1" y1="751.6" x2="360.1" y2="754" stroke="#2a2a2a" stroke-width="0.9"/>
<line x1="360.1" y1="844.6" x2="360.1" y2="846.8" stroke="#2a2a2a" stroke-width="1"/>
<line x1="389.6" y1="658.4" x2="389.6" y2="660.8" stroke="#2a2a2a" stroke-width="0.9"/>
<line x1="389.6" y1="751.6" x2="389.6" y2="754" stroke="#2a2a2a" stroke-width="0.9"/>
<line x1="389.6" y1="844.6" x2="389.6" y2="848.1" stroke="#2a2a2a" stroke-width="1"/>
<text x="389.6" y="862.8" font-size="14.6" text-anchor="middle" fill="#0c0c0c">0</text>
<line x1="419.2" y1="658.4" x2="419.2" y2="660.8" stroke="#2a2a2a" stroke-width="0.9"/>
<line x1="419.2" y1="751.6" x2="419.2" y2="754" stroke="#2a2a2a" stroke-width="0.9"/>
<line x1="419.2" y1="844.6" x2="419.2" y2="846.8" stroke="#2a2a2a" stroke-width="1"/>
<line x1="448.7" y1="658.4" x2="448.7" y2="660.8" stroke="#2a2a2a" stroke-width="0.9"/>
<line x1="448.7" y1="751.6" x2="448.7" y2="754" stroke="#2a2a2a" stroke-width="0.9"/>
<line x1="448.7" y1="844.6" x2="448.7" y2="848.1" stroke="#2a2a2a" stroke-width="1"/>
<text x="448.7" y="862.8" font-size="14.6" text-anchor="middle" fill="#0c0c0c">2</text>
<rect x="361.8" y="569" width="32.9" height="16.3" fill="#b74fa2" stroke="#9a4088" stroke-width="0.6"/>
<rect x="361.6" y="663.2" width="33.5" height="16.7" fill="#6fc044" stroke="#5aa838" stroke-width="0.6"/>
<rect x="370.2" y="755.1" width="32.8" height="15.8" fill="#62cbe0" stroke="#48b0c8" stroke-width="0.6"/>
<text x="399.1" y="582.5" font-size="14.2" fill="#0c0c0c">CO<tspan dy="3" font-size="68%">2</tspan><tspan dy="-3">&#8203;</tspan> 2p</text>
<text x="399.4" y="675.9" font-size="14.2" fill="#0c0c0c">N 2p</text>
<text x="407.8" y="767.8" font-size="14.2" fill="#0c0c0c">Co 3d</text>
<text x="104.5" y="597.9" font-size="14.2" fill="#0c0c0c">2<tspan style="font-family:'Liberation Serif',serif" font-size="17.5">&#963;</tspan></text>
<text x="142.8" y="597.9" font-size="14.2" fill="#0c0c0c">3<tspan style="font-family:'Liberation Serif',serif" font-size="17.5">&#963;</tspan>/<tspan style="font-family:'Liberation Serif',serif" font-size="17.5">&#960;</tspan></text>
<text x="248.6" y="597.9" font-size="14.2" fill="#0c0c0c">4<tspan style="font-family:'Liberation Serif',serif" font-size="17.5">&#963;</tspan></text>
<text x="69" y="653.2" font-size="14.3" fill="#0c0c0c">Free CO<tspan dy="3" font-size="68%">2</tspan><tspan dy="-3">&#8203;</tspan></text>
<text x="67" y="744.8" font-size="14.3" fill="#0c0c0c">*CO<tspan dy="3" font-size="68%">2</tspan><tspan dy="-3">&#8203;</tspan>@CTF-NSs</text>
<text x="68" y="838.8" font-size="14.3" fill="#0c0c0c">*CO<tspan dy="3" font-size="68%">2</tspan><tspan dy="-3">&#8203;</tspan>@Co<tspan dy="3" font-size="68%">1</tspan><tspan dy="-3">&#8203;</tspan>/CTF-NSs</text>
<line x1="197.7" y1="758.6" x2="239" y2="758.6" stroke="#b74fa2" stroke-width="2"/>
<path d="M246.6 758.6 L237 754.4 L237 762.8 Z" fill="#b74fa2"/>
<text x="191.7" y="775.3" font-size="13.9" fill="#b74fa2" font-weight="bold">Right shift</text>
<text x="286.1" y="826.4" font-size="13.7" fill="#2f44a8" font-weight="bold">Intensified</text>
<text x="280.9" y="839.6" font-size="13.7" fill="#2f44a8" font-weight="bold">overlapping</text>
<line x1="278.5" y1="828.8" x2="265.8" y2="817.9" stroke="#2f44a8" stroke-width="2"/><path d="M260.5 813.3 L267.9 815.4 L263.7 820.3 Z" fill="#2f44a8"/>
<line x1="361.6" y1="830.7" x2="376.9" y2="820.1" stroke="#2f44a8" stroke-width="2"/><path d="M382.7 816.1 L378.8 822.7 L375.1 817.5 Z" fill="#2f44a8"/>
<text x="55.2" y="702" font-size="16.7" text-anchor="middle" fill="#0c0c0c" transform="rotate(-90 55.2 702)">PDOS</text>
<text x="223.4" y="881.5" font-size="16.5" fill="#0c0c0c">E-E<tspan dy="2.5" font-size="70%">f</tspan><tspan dy="-2.5">&#8203;</tspan> (eV)</text>
<text x="31.5" y="559.8" font-size="22" fill="#0c0c0c">e</text></g>
<g id="pf"><clipPath id="cf"><rect x="551.6" y="565.6" width="386.0" height="278.79999999999995"/></clipPath>
<clipPath id="cf1"><rect x="551.6" y="565.6" width="386.0" height="92.79999999999995"/></clipPath>
<clipPath id="cf2"><rect x="551.6" y="658.4" width="386.0" height="93.10000000000002"/></clipPath>
<clipPath id="cf3"><rect x="551.6" y="751.5" width="386.0" height="92.89999999999998"/></clipPath>
<g clip-path="url(#cf1)">
<path d="M551.6 611.9 L552.5 611.9 L553.4 611.9 L554.2 611.9 L555.1 611.9 L556 611.9 L556.9 611.9 L557.7 611.9 L558.6 611.9 L559.5 611.9 L560.4 611.9 L561.3 611.9 L562.1 611.9 L563 611.9 L563.9 611.9 L564.8 611.9 L565.7 611.9 L566.5 611.9 L567.4 611.9 L568.3 611.9 L569.2 611.9 L570 611.9 L570.9 611.9 L571.8 611.9 L572.7 611.9 L573.6 611.9 L574.4 611.9 L575.3 611.9 L576.2 611.9 L577.1 611.9 L578 611.9 L578.8 611.9 L579.7 611.9 L580.6 611.9 L581.5 611.9 L582.3 611.9 L583.2 611.9 L584.1 611.9 L585 611.9 L585.9 611.9 L586.7 611.9 L587.6 611.9 L588.5 611.9 L589.4 611.9 L590.3 611.9 L591.1 611.9 L592 611.9 L592.9 611.9 L593.8 611.9 L594.6 611.9 L595.5 611.9 L596.4 611.9 L597.3 611.9 L598.2 611.9 L599 611.9 L599.9 611.9 L600.8 611.9 L601.7 611.9 L602.6 611.9 L603.4 611.9 L604.3 611.9 L605.2 611.9 L606.1 611.9 L606.9 611.9 L607.8 611.9 L608.7 611.9 L609.6 611.9 L610.5 611.9 L611 611.9 L611.3 611.9 L612.2 611.7 L612.8 611.6 L613.1 611.5 L614 610.9 L614.8 610 L614.9 609.9 L615.7 608.3 L616.5 605.9 L616.6 605.4 L617.5 598.1 L617.6 597 L618.4 588.8 L618.7 585 L619.2 578.9 L619.6 575 L620.1 569.7 L620.5 565.5 L621 558" fill="none" stroke="#b94aa6" stroke-width="2.1" stroke-linejoin="round" stroke-linecap="round"/>
<path d="M630.2 558 L630.7 565.5 L631.6 575 L632.5 585 L633.5 597 L633.7 599.6 L634.5 606 L636.2 610 L637.3 611.2 L638.2 611.7 L640 611.9 L640.8 611.9 L644.4 611.9 L647.9 611.9 L651.4 611.9 L655 611.9 L658.5 611.9 L662.1 611.9 L665.6 611.9 L669.1 611.9 L672.7 611.9 L676.2 611.9 L679.7 611.9 L683.3 611.9 L686.8 611.9 L690.4 611.9 L693.9 611.9 L697.4 611.9 L701 611.9 L704.5 611.9 L708.1 611.9 L711.6 611.9 L715.1 611.9 L718.7 611.9 L722.2 611.9 L725.8 611.9 L729.3 611.9 L732.8 611.9 L736.4 611.9 L739.9 611.9 L743.5 611.9 L747 611.9 L750.5 611.9 L754.1 611.9 L757.6 611.9 L761.2 611.9 L764.7 611.9 L768.2 611.9 L771.8 611.9 L775.3 611.9 L778.8 611.9 L782.4 611.9 L785.9 611.9 L789.5 611.9 L793 611.9 L796.5 611.9 L800.1 611.9 L803.6 611.9 L807.2 611.9 L810.7 611.9 L814.2 611.9 L817.8 611.9 L821.3 611.9 L824.9 611.9 L828.4 611.9 L831.9 611.9 L835.5 611.9 L839 611.9 L842.6 611.9 L846.1 611.9 L849.6 611.9 L853.2 611.9 L856.7 611.9 L860.3 611.9 L863.8 611.9 L867.3 611.9 L870.9 611.9 L874.4 611.9 L877.9 611.9 L881.5 611.9 L885 611.9 L888.6 611.9 L892.1 611.9 L895.6 611.9 L899.2 611.9 L901 611.9 L902.6 612 L902.7 612 L904.3 613.6 L905.8 618.9 L906.3 621.9 L907 628 L908.2 638 L909.4 658 L909.8 664" fill="none" stroke="#b94aa6" stroke-width="2.1" stroke-linejoin="round" stroke-linecap="round"/>
<path d="M920.5 664 L920.7 660.8 L920.9 658 L920.9 657.5 L921.1 654.1 L921.4 650.5 L921.6 647 L921.8 643.5 L922 640.4 L922.2 638 L922.2 637.6 L922.4 635.2 L922.7 633.1 L922.9 631.1 L923.1 629 L923.2 628 L923.3 626.8 L923.5 624.3 L923.7 621.9 L924 619.9 L924.1 618.9 L924.2 618.4 L924.4 617.3 L924.6 616.3 L924.8 615.4 L925 614.7 L925.3 614.1 L925.3 614 L925.5 613.6 L925.7 613.2 L925.9 612.8 L926.1 612.5 L926.3 612.3 L926.5 612.2 L926.6 612.2 L926.8 612.1 L927 612 L927.2 612 L927.4 611.9 L927.6 611.9 L927.9 611.9 L928 611.9 L928.1 611.9 L928.3 611.9 L928.5 611.9 L928.7 611.9 L928.9 611.9 L929.2 611.9 L929.4 611.9 L929.6 611.9 L929.8 611.9 L930 611.9 L930.2 611.9 L930.5 611.9 L930.7 611.9 L930.9 611.9 L931.1 611.9 L931.3 611.9 L931.5 611.9 L931.8 611.9 L932 611.9 L932.2 611.9 L932.4 611.9 L932.6 611.9 L932.8 611.9 L933.1 611.9 L933.3 611.9 L933.5 611.9 L933.7 611.9 L933.9 611.9 L934.1 611.9 L934.4 611.9 L934.6 611.9 L934.8 611.9 L935 611.9 L935.2 611.9 L935.4 611.9 L935.7 611.9 L935.9 611.9 L936.1 611.9 L936.3 611.9 L936.5 611.9 L936.7 611.9 L937 611.9 L937.2 611.9 L937.4 611.9 L937.6 611.9" fill="none" stroke="#b94aa6" stroke-width="2.1" stroke-linejoin="round" stroke-linecap="round"/>
</g>
<g clip-path="url(#cf2)">
<path d="M705.7 705.2 L710.0 707.3 L714.7 707.9 L718.7 705.2 Z" fill="#4cc4dc" fill-opacity="1.0"/>
<path d="M551.6 704.9 L552.5 704.9 L553.4 704.9 L554.3 704.9 L555.1 704.9 L556 704.9 L556.9 704.9 L557.8 704.9 L558.7 704.9 L559.6 704.9 L560.5 704.9 L561.3 704.9 L562.2 704.9 L563.1 704.9 L564 704.9 L564.9 704.9 L565.8 704.9 L566.7 704.9 L567.5 704.9 L568.4 704.9 L569.3 704.9 L570.2 704.9 L571.1 704.9 L572 704.9 L572.9 704.9 L573.8 704.9 L574.6 704.9 L575.5 704.9 L576.4 704.9 L577.3 704.9 L578.2 704.9 L579.1 704.9 L580 704.9 L580.8 704.9 L581.7 704.9 L582.6 704.9 L583.5 704.9 L584.4 704.9 L585.3 704.9 L586.2 704.9 L587 704.9 L587.9 704.9 L588.8 704.9 L589.7 704.9 L590.6 704.9 L591.5 704.9 L592.4 704.9 L593.2 704.9 L594.1 704.9 L595 704.9 L595.9 704.9 L596.8 704.9 L597.7 704.9 L598.6 704.9 L599.4 704.9 L600.3 704.9 L601.2 704.9 L602.1 704.9 L603 704.9 L603.9 704.9 L604.8 704.9 L605.7 704.9 L606.5 704.9 L607.4 704.9 L608.3 704.9 L609.2 704.9 L610.1 704.9 L611 704.9 L611.9 704.9 L612 704.9 L612.7 704.8 L613.6 704.7 L613.9 704.6 L614.5 704.3 L615.4 703.3 L615.6 703 L616.3 701.7 L616.9 699.9 L617.2 698.7 L618 693 L618.1 692.6 L618.9 685.9 L618.9 685.5 L619.8 674.2 L620 672 L620.7 664.2 L621.2 658.4 L621.6 652" fill="none" stroke="#2b3ea0" stroke-width="2.1" stroke-linejoin="round" stroke-linecap="round"/>
<path d="M632.4 652 L632.8 658.4 L634 672 L634.8 685.9 L635.8 693 L635.9 694.1 L636.8 699.9 L638.3 702.6 L639.5 703.4 L640.8 703.9 L643 704.3 L645 704.4 L646.6 704.4 L650.1 704.3 L653.7 704.2 L655 704.2 L657.2 704.3 L660.8 704.6 L664.3 704.8 L665 704.8 L667.8 704.8 L671.4 704.8 L674.9 704.8 L678.5 704.8 L682 704.8 L685.6 704.8 L689.1 704.8 L692.7 704.8 L696.2 704.8 L699.7 704.8 L703.3 704.8 L706.8 704.8 L710.4 704.8 L713.9 704.8 L717.5 704.8 L721 704.8 L724.6 704.8 L728.1 704.8 L731.6 704.8 L735.2 704.8 L738.7 704.8 L742.3 704.8 L745.8 704.8 L749.4 704.8 L752.9 704.8 L756.5 704.8 L760 704.8 L763.5 704.8 L767.1 704.8 L770.6 704.8 L774.2 704.8 L777.7 704.8 L781.3 704.8 L784.8 704.8 L788.3 704.8 L791.9 704.8 L795.4 704.8 L799 704.8 L802.5 704.8 L806.1 704.8 L809.6 704.8 L813.2 704.8 L816.7 704.9 L820.2 704.9 L823.8 704.9 L827.3 704.9 L830.9 704.9 L834.4 704.9 L838 704.9 L841.5 704.9 L845.1 704.9 L848.6 704.9 L852.1 704.9 L855.7 704.9 L859.2 704.9 L862.8 704.9 L866.3 704.9 L869.9 704.9 L873.4 704.9 L877 704.9 L880.5 704.9 L884 704.9 L887.6 704.9 L891.1 704.9 L894.7 704.9 L898.2 704.9 L901.8 704.9 L903 704.9 L904.6 705.2 L905.3 705.6 L906.5 707 L908.3 712.4 L908.9 716.4 L909.6 724 L910.8 737.3 L912.1 751 L912.4 757" fill="none" stroke="#2b3ea0" stroke-width="2.1" stroke-linejoin="round" stroke-linecap="round"/>
<path d="M923 757 L923.2 753.2 L923.3 751 L923.4 749.8 L923.6 746.8 L923.7 743.9 L923.9 741.1 L924.1 738.6 L924.3 736.1 L924.5 733.8 L924.6 732.3 L924.7 731.5 L924.8 729.4 L925 727.3 L925.2 725.3 L925.4 723.5 L925.6 721.8 L925.8 720.2 L925.8 720 L926 718.8 L926.1 717.4 L926.3 716.1 L926.5 714.9 L926.7 713.8 L926.9 712.9 L927 712.4 L927.1 712.1 L927.3 711.4 L927.4 710.8 L927.6 710.1 L927.8 709.6 L928 709 L928.2 708.6 L928.4 708.2 L928.5 707.9 L928.6 707.8 L928.7 707.6 L928.9 707.4 L929.1 707.2 L929.3 707 L929.5 706.8 L929.7 706.6 L929.8 706.5 L930 706.4 L930.2 706.2 L930.4 706.1 L930.6 706 L930.8 705.9 L930.8 705.9 L930.9 705.8 L931.1 705.7 L931.3 705.7 L931.5 705.6 L931.7 705.5 L931.9 705.4 L932.1 705.4 L932.2 705.3 L932.4 705.3 L932.6 705.2 L932.8 705.2 L933 705.2 L933 705.2 L933.2 705.2 L933.3 705.2 L933.5 705.2 L933.7 705.2 L933.9 705.2 L934.1 705.2 L934.3 705.2 L934.5 705.2 L934.6 705.2 L934.8 705.2 L935 705.2 L935.2 705.2 L935.4 705.2 L935.6 705.2 L935.8 705.2 L935.9 705.2 L936.1 705.2 L936.3 705.2 L936.5 705.2 L936.7 705.2 L936.9 705.2 L937 705.2 L937.2 705.2 L937.4 705.2 L937.6 705.2" fill="none" stroke="#2b3ea0" stroke-width="2.1" stroke-linejoin="round" stroke-linecap="round"/>
</g>
<g clip-path="url(#cf3)">
<path d="M674.7 798.3 L682.7 802.9 L687.7 809.9 L691.7 812.9 L695.7 812.5 L698.7 808.9 L702.7 801.9 L705.7 798.3 Z" fill="#4cc4dc" fill-opacity="1.0"/>
<path d="M742.4 798.3 L751.1 804.4 L758.6 798.3 Z" fill="#4cc4dc" fill-opacity="1.0"/>
<line x1="551.6" y1="798" x2="937.6" y2="798" stroke="#e8141c" stroke-width="2.2"/>
<path d="M551.6 798 L551.9 798 L552.3 798 L552.6 798.1 L553 798.1 L553.3 798.1 L553.6 798.2 L554 798.2 L554 798.2 L554.3 798.2 L554.7 798.3 L555 798.4 L555.3 798.4 L555.7 798.5 L556 798.6 L556.3 798.7 L556.7 798.8 L557 798.9 L557 798.9 L557.4 799 L557.7 799.2 L558 799.4 L558.4 799.7 L558.7 799.9 L559.1 800.2 L559.4 800.5 L559.7 800.8 L560.1 801.2 L560.4 801.5 L560.8 801.8 L561.1 802.1 L561.4 802.4 L561.8 802.7 L562 802.9 L562.1 803 L562.4 803.3 L562.8 803.6 L563.1 804 L563.5 804.3 L563.8 804.7 L564.1 805 L564.5 805.4 L564.8 805.7 L565.2 806 L565.5 806.3 L565.8 806.5 L566.2 806.7 L566.5 806.8 L566.9 806.9 L567 806.9 L567.2 806.9 L567.5 806.8 L567.9 806.6 L568.2 806.3 L568.5 806 L568.9 805.6 L569.2 805.1 L569.6 804.7 L569.9 804.2 L570.2 803.8 L570.6 803.4 L570.9 803 L571 802.9 L571.3 802.6 L571.6 802.2 L571.9 801.8 L572.3 801.4 L572.6 801 L573 800.6 L573.3 800.2 L573.6 799.8 L574 799.4 L574.3 799 L574.7 798.7 L574.9 798.5 L575 798.4 L575.3 798.2 L575.7 797.9 L576 797.7 L576.3 797.4 L576.7 797.2 L577 797 L577.4 796.8 L577.7 796.6 L578 796.4 L578.4 796.2 L578.7 796 L579.1 795.8 L579.4 795.6 L579.7 795.5 L580.1 795.3 L580.4 795.1 L580.8 795 L580.9 794.9 L581.1 794.8 L581.4 794.6 L581.8 794.5 L582.1 794.3 L582.4 794.1 L582.8 793.9 L583.1 793.7 L583.5 793.6 L583.8 793.4 L584.1 793.3 L584.5 793.2 L584.8 793.1 L585.2 793 L585.5 792.9 L585.8 792.9 L585.9 792.9 L586.2 792.9 L586.5 793 L586.9 793.1 L587.2 793.3 L587.5 793.5 L587.9 793.7 L588.2 793.9 L588.6 794.1 L588.9 794.3 L589.2 794.6 L589.6 794.7 L589.9 794.9 L589.9 794.9 L590.2 795 L590.6 795.2 L590.9 795.4 L591.3 795.5 L591.6 795.7 L591.9 795.8 L592.3 796 L592.6 796.1 L593 796.2 L593.3 796.2 L593.6 796.3 L593.9 796.3 L594 796.3 L594.3 796.2 L594.7 795.9 L595 795.5 L595.3 795 L595.7 794.4 L596 793.8 L596.3 793.1 L596.7 792.3 L597 791.5 L597.3 790.9 L597.4 790.7 L597.7 789.8 L598 788.8 L598.4 787.5 L598.7 786.2 L599.1 784.8 L599.4 783.2 L599.7 781.7 L599.9 780.9 L600.1 780 L600.4 778.2 L600.8 776.3 L601.1 774.2 L601.4 772 L601.8 769.8 L602.1 767.5 L602.4 765.3 L602.5 765 L602.8 763.1 L603.1 760.9 L603.5 758.6 L603.8 756.3 L604.1 753.9 L604.5 751.5 L604.5 751.4 L604.8 749.1 L605.2 746.6 L605.5 744" fill="none" stroke="#e8141c" stroke-width="2.3" stroke-linejoin="round" stroke-linecap="round"/>
<path d="M612 744 L612.9 751.4 L613.6 753.8 L614.9 756 L615.3 756.5 L616.9 757.8 L617.9 758.6 L618.6 759.3 L619.9 761 L620.2 761.8 L621.9 768.9 L621.9 769 L623.5 779.4 L623.8 780.9 L625.2 788.1 L625.8 789.9 L626.8 791.3 L628.5 792.5 L628.8 792.5 L630.1 792.3 L631.8 791.7 L632.8 791.3 L633.4 791.1 L635.1 790.6 L635.8 790.5 L636.7 790.8 L638.4 792.5 L638.8 792.9 L640 794.4 L641.7 796.4 L641.8 796.5 L643.3 797.3 L644.8 797.7 L645 797.7 L646.6 797.8 L648.3 797.8 L649.9 797.9 L651.5 797.9 L653.2 798 L654.8 798 L656.5 798 L658.1 798 L659.8 798 L660 798 L661.4 798 L663.1 798 L664.7 798 L666.4 798 L668 798 L669.7 798 L671.3 798 L673 798 L674.6 797.9 L676.3 797.9 L677.9 797.9 L679.6 797.9 L681.2 797.9 L682.9 797.9 L684.5 797.9 L686.2 797.9 L687.8 797.8 L689.4 797.8 L691.1 797.8 L692.7 797.8 L694.4 797.8 L696 797.8 L697.7 797.8 L699.3 797.8 L700 797.8 L701 797.8 L702.6 797.8 L704.3 797.8 L705.9 797.9 L707.6 797.9 L709.2 797.9 L710.9 798 L712.5 798 L714.2 798 L715 798 L715.8 798 L717.5 797.9 L719.1 797.8 L720.8 797.6 L722.4 797.5 L724 797.3 L724.1 797.3 L725.7 797.1 L727.3 796.8 L729 796.6 L730 796.6 L730.6 796.6 L732.3 796.8 L733.9 797.1 L735.6 797.4 L736 797.4 L737.2 797.5 L738.9 797.7 L740.5 797.8 L742.2 797.9 L743.8 798 L745 798 L745.5 798 L747.1 798 L748.8 798 L750.4 798 L752.1 798 L753.7 798 L755.4 798 L757 798 L758.7 798 L760.3 798 L761.9 798 L763.6 798 L765.2 798 L766.9 798 L768.5 798 L770.2 798 L771.8 798 L773.5 798 L775.1 798 L776.8 798 L778.4 798 L780.1 798 L781.7 798 L783.4 798 L785 798 L786.7 798 L788.3 798 L790 798 L791.6 798 L793.3 798 L794.9 798 L796.6 798 L798.2 798 L799.8 798 L800 798 L801.5 798 L803.1 798.2 L804.8 798.4 L806 798.6 L806.4 798.7 L808.1 800 L809.7 802.1 L811.4 804.7 L812.3 806.1 L813 807.5 L814.7 811.7 L816.3 815.3 L817.3 816.1 L818 815.6 L819.6 811.8 L821 808.6 L821.3 808.2 L822.9 805.7 L824.6 803.8 L824.8 803.6 L826.2 802.7 L827.9 801.8 L829.5 801.2 L829.7 801.1 L831.2 800.6 L832.8 800.1 L834.5 799.7 L836 799.4 L836.1 799.4 L837.7 799.1 L839.4 798.9 L841 798.6 L842.7 798.5 L844.3 798.3 L845 798.3 L846 798.3 L847.6 798.2 L849.3 798.2 L850.9 798.1 L852.6 798.1 L854.2 798 L855.9 798 L857.5 798 L859.2 798 L860 798 L860.8 798 L862.5 798.2 L864.1 798.5 L864.7 798.6 L865.8 799.1 L867.4 800.8 L868.4 802.4 L869.1 805 L870.7 818.3 L870.9 819.9 L872.4 833.1 L873.4 844.3 L874 852" fill="none" stroke="#e8141c" stroke-width="2.3" stroke-linejoin="round" stroke-linecap="round"/>
<path d="M879.6 852 L880 846.3 L880.1 844.3 L880.3 841.1 L880.7 836 L881.1 831.1 L881.4 826.6 L881.8 822.6 L882.1 819.9 L882.2 819.5 L882.5 816.7 L882.9 814 L883.2 811.4 L883.6 809.1 L884 807 L884.3 805.4 L884.7 804.2 L885.1 803.6 L885.1 803.6 L885.4 803.4 L885.8 803.1 L886.2 802.9 L886.5 802.8 L886.9 802.6 L887.3 802.5 L887.6 802.4 L888 802.3 L888.4 802.2 L888.7 802.1 L889.1 802 L889.4 801.9 L889.6 801.9 L889.8 801.9 L890.2 801.8 L890.5 801.7 L890.9 801.7 L891.3 801.6 L891.6 801.6 L892 801.5 L892.4 801.5 L892.7 801.4 L893.1 801.4 L893.5 801.3 L893.8 801.3 L894.2 801.2 L894.6 801.1 L894.6 801.1 L894.9 801 L895.3 800.9 L895.7 800.7 L896 800.5 L896.4 800.3 L896.7 800 L897.1 799.8 L897.5 799.6 L897.8 799.3 L898.2 799.1 L898.6 799 L898.9 798.8 L899.3 798.7 L899.6 798.6 L899.7 798.6 L900 798.5 L900.4 798.5 L900.8 798.4 L901.1 798.3 L901.5 798.3 L901.9 798.2 L902.2 798.2 L902.6 798.1 L902.9 798.1 L903.3 798.1 L903.7 798 L904 798 L904.4 798 L904.8 798 L905 798 L905.1 798 L905.5 798 L905.9 798 L906.2 798 L906.6 798 L907 798 L907.3 798 L907.7 798 L908.1 798 L908.4 798 L908.8 798 L909.1 798 L909.5 798 L909.9 798 L910.2 798.1 L910.6 798.1 L911 798.1 L911.3 798.1 L911.7 798.1 L912.1 798.1 L912.4 798.1 L912.8 798.1 L913.2 798.1 L913.5 798.1 L913.9 798.2 L914.3 798.2 L914.6 798.2 L915 798.2 L915 798.2 L915.3 798.2 L915.7 798.3 L916.1 798.3 L916.4 798.4 L916.8 798.5 L917.2 798.6 L917.5 798.7 L917.9 798.9 L918.3 799 L918.6 799.1 L919 799.3 L919.4 799.4 L919.7 799.5 L920.1 799.6 L920.5 799.7 L920.8 799.8 L921.2 799.8 L921.5 799.9 L921.9 799.9 L922 799.9 L922.3 799.9 L922.6 799.8 L923 799.7 L923.4 799.6 L923.7 799.5 L924.1 799.3 L924.5 799.2 L924.8 799 L925.2 798.8 L925.6 798.7 L925.9 798.6 L926.3 798.5 L926.7 798.4 L927 798.4 L927 798.4 L927.4 798.4 L927.8 798.5 L928.1 798.5 L928.5 798.6 L928.8 798.7 L929.2 798.8 L929.6 799 L929.9 799.1 L930.3 799.2 L930.7 799.3 L931 799.4 L931.4 799.6 L931.8 799.6 L932.1 799.7 L932.5 799.8 L932.9 799.8 L933 799.8 L933.2 799.8 L933.6 799.8 L934 799.8 L934.3 799.7 L934.7 799.7 L935 799.6 L935.4 799.5 L935.8 799.4 L936.1 799.3 L936.5 799.2 L936.9 799.1 L937.2 798.9 L937.6 798.8" fill="none" stroke="#e8141c" stroke-width="2.3" stroke-linejoin="round" stroke-linecap="round"/>
<path d="M800 798 L800.3 798 L800.6 798 L800.8 798 L801.1 798 L801.4 798 L801.7 798 L802 798 L802.3 798 L802.5 798 L802.8 798 L803.1 798 L803.4 798 L803.7 798.1 L804 798.1 L804.2 798.1 L804.5 798.1 L804.8 798.1 L805.1 798.1 L805.4 798.1 L805.7 798.1 L805.9 798.1 L806.2 798.2 L806.5 798.2 L806.8 798.2 L807.1 798.2 L807.4 798.2 L807.6 798.2 L807.9 798.3 L808.2 798.3 L808.5 798.3 L808.8 798.3 L809.1 798.3 L809.3 798.4 L809.6 798.4 L809.8 798.4 L809.9 798.4 L810.2 798.5 L810.5 798.6 L810.8 798.7 L811 798.8 L811.3 799 L811.6 799.2 L811.9 799.4 L812.2 799.7 L812.5 799.9 L812.7 800.2 L813 800.5 L813.3 800.8 L813.6 801.1 L813.9 801.4 L814.2 801.7 L814.4 802.1 L814.7 802.4 L815 802.7 L815.3 803 L815.6 803.3 L815.8 803.6 L816.1 803.9 L816.4 804.2 L816.7 804.4 L817 804.7 L817.3 804.9 L817.3 804.9 L817.5 805.1 L817.8 805.3 L818.1 805.5 L818.4 805.7 L818.7 806 L819 806.2 L819.2 806.4 L819.5 806.6 L819.8 806.8 L820.1 807 L820.4 807.2 L820.7 807.4 L820.9 807.5 L821.2 807.7 L821.5 807.8 L821.8 807.8 L822.1 807.9 L822.3 807.9 L822.4 807.9 L822.6 807.8 L822.9 807.7 L823.2 807.5 L823.5 807.3 L823.8 807 L824.1 806.7 L824.3 806.4 L824.6 806.1 L824.9 805.8 L825.2 805.5 L825.5 805.2 L825.8 805 L826 804.9 L826 804.9 L826.3 804.8 L826.6 804.7 L826.9 804.6 L827.2 804.5 L827.5 804.4 L827.7 804.3 L828 804.2 L828.3 804.2 L828.6 804.1 L828.9 804 L829.2 804 L829.4 803.9 L829.7 803.8 L830 803.8 L830.3 803.7 L830.6 803.7 L830.8 803.6 L831 803.6 L831.1 803.6 L831.4 803.5 L831.7 803.5 L832 803.5 L832.3 803.4 L832.5 803.4 L832.8 803.4 L833.1 803.3 L833.4 803.3 L833.7 803.3 L834 803.2 L834.2 803.2 L834.5 803.2 L834.8 803.1 L835.1 803.1 L835.4 803 L835.7 803 L835.9 802.9 L836 802.9 L836.2 802.8 L836.5 802.6 L836.8 802.4 L837.1 802.1 L837.4 801.8 L837.6 801.5 L837.9 801.1 L838.2 800.8 L838.5 800.4 L838.8 800.1 L839.1 799.8 L839.3 799.6 L839.6 799.4 L839.7 799.4 L839.9 799.3 L840.2 799.2 L840.5 799.1 L840.8 799 L841 798.9 L841.3 798.8 L841.6 798.8 L841.9 798.7 L842.2 798.6 L842.5 798.5 L842.7 798.5 L843 798.4 L843.3 798.4 L843.6 798.3 L843.9 798.3 L844.2 798.2 L844.4 798.2 L844.7 798.2 L845 798.2" fill="none" stroke="#e8141c" stroke-width="2.3" stroke-linejoin="round" stroke-linecap="round"/>
</g>
<line x1="625.8" y1="566.6" x2="625.8" y2="844.4" stroke="#2b9bd8" stroke-width="1.9" stroke-dasharray="9 7"/>
<rect x="551.6" y="565.6" width="386" height="278.8" fill="none" stroke="#2a2a2a" stroke-width="1"/>
<line x1="551.6" y1="658.4" x2="937.6" y2="658.4" stroke="#2a2a2a" stroke-width="1"/>
<line x1="551.6" y1="751.5" x2="937.6" y2="751.5" stroke="#2a2a2a" stroke-width="1"/>
<line x1="547.6" y1="577.2" x2="551.6" y2="577.2" stroke="#2a2a2a" stroke-width="1"/>
<text x="543.1" y="582" font-size="14" text-anchor="end" fill="#0c0c0c">1.5</text>
<line x1="547.6" y1="611.9" x2="551.6" y2="611.9" stroke="#2a2a2a" stroke-width="1"/>
<text x="543.1" y="616.7" font-size="14" text-anchor="end" fill="#0c0c0c">0.0</text>
<line x1="547.6" y1="646.5" x2="551.6" y2="646.5" stroke="#2a2a2a" stroke-width="1"/>
<text x="543.1" y="651.3" font-size="14" text-anchor="end" fill="#0c0c0c">-1.5</text>
<line x1="549.2" y1="594.6" x2="551.6" y2="594.6" stroke="#2a2a2a" stroke-width="1"/>
<line x1="549.2" y1="629.2" x2="551.6" y2="629.2" stroke="#2a2a2a" stroke-width="1"/>
<line x1="547.6" y1="670.2" x2="551.6" y2="670.2" stroke="#2a2a2a" stroke-width="1"/>
<text x="543.1" y="675" font-size="14" text-anchor="end" fill="#0c0c0c">1.5</text>
<line x1="547.6" y1="704.9" x2="551.6" y2="704.9" stroke="#2a2a2a" stroke-width="1"/>
<text x="543.1" y="709.7" font-size="14" text-anchor="end" fill="#0c0c0c">0.0</text>
<line x1="547.6" y1="739.5" x2="551.6" y2="739.5" stroke="#2a2a2a" stroke-width="1"/>
<text x="543.1" y="744.3" font-size="14" text-anchor="end" fill="#0c0c0c">-1.5</text>
<line x1="549.2" y1="687.6" x2="551.6" y2="687.6" stroke="#2a2a2a" stroke-width="1"/>
<line x1="549.2" y1="722.2" x2="551.6" y2="722.2" stroke="#2a2a2a" stroke-width="1"/>
<line x1="547.6" y1="763.4" x2="551.6" y2="763.4" stroke="#2a2a2a" stroke-width="1"/>
<text x="543.1" y="768.1" font-size="14" text-anchor="end" fill="#0c0c0c">1.5</text>
<line x1="547.6" y1="798" x2="551.6" y2="798" stroke="#2a2a2a" stroke-width="1"/>
<text x="543.1" y="802.8" font-size="14" text-anchor="end" fill="#0c0c0c">0.0</text>
<line x1="547.6" y1="832.6" x2="551.6" y2="832.6" stroke="#2a2a2a" stroke-width="1"/>
<text x="543.1" y="837.4" font-size="14" text-anchor="end" fill="#0c0c0c">-1.5</text>
<line x1="549.2" y1="780.7" x2="551.6" y2="780.7" stroke="#2a2a2a" stroke-width="1"/>
<line x1="549.2" y1="815.3" x2="551.6" y2="815.3" stroke="#2a2a2a" stroke-width="1"/>
<line x1="564" y1="658.4" x2="564" y2="661" stroke="#2a2a2a" stroke-width="0.9"/>
<line x1="564" y1="751.5" x2="564" y2="754.1" stroke="#2a2a2a" stroke-width="0.9"/>
<line x1="564" y1="844.4" x2="564" y2="848.2" stroke="#2a2a2a" stroke-width="1"/>
<text x="562.8" y="862" font-size="14.4" text-anchor="middle" fill="#0c0c0c">-7.5</text>
<line x1="594.1" y1="658.4" x2="594.1" y2="661" stroke="#2a2a2a" stroke-width="0.9"/>
<line x1="594.1" y1="751.5" x2="594.1" y2="754.1" stroke="#2a2a2a" stroke-width="0.9"/>
<line x1="594.1" y1="844.4" x2="594.1" y2="846.8" stroke="#2a2a2a" stroke-width="1"/>
<line x1="624.2" y1="658.4" x2="624.2" y2="661" stroke="#2a2a2a" stroke-width="0.9"/>
<line x1="624.2" y1="751.5" x2="624.2" y2="754.1" stroke="#2a2a2a" stroke-width="0.9"/>
<line x1="624.2" y1="844.4" x2="624.2" y2="848.2" stroke="#2a2a2a" stroke-width="1"/>
<text x="623" y="862" font-size="14.4" text-anchor="middle" fill="#0c0c0c">-5.0</text>
<line x1="654.3" y1="658.4" x2="654.3" y2="661" stroke="#2a2a2a" stroke-width="0.9"/>
<line x1="654.3" y1="751.5" x2="654.3" y2="754.1" stroke="#2a2a2a" stroke-width="0.9"/>
<line x1="654.3" y1="844.4" x2="654.3" y2="846.8" stroke="#2a2a2a" stroke-width="1"/>
<line x1="684.4" y1="658.4" x2="684.4" y2="661" stroke="#2a2a2a" stroke-width="0.9"/>
<line x1="684.4" y1="751.5" x2="684.4" y2="754.1" stroke="#2a2a2a" stroke-width="0.9"/>
<line x1="684.4" y1="844.4" x2="684.4" y2="848.2" stroke="#2a2a2a" stroke-width="1"/>
<text x="683.2" y="862" font-size="14.4" text-anchor="middle" fill="#0c0c0c">-2.5</text>
<line x1="714.5" y1="658.4" x2="714.5" y2="661" stroke="#2a2a2a" stroke-width="0.9"/>
<line x1="714.5" y1="751.5" x2="714.5" y2="754.1" stroke="#2a2a2a" stroke-width="0.9"/>
<line x1="714.5" y1="844.4" x2="714.5" y2="846.8" stroke="#2a2a2a" stroke-width="1"/>
<line x1="744.6" y1="658.4" x2="744.6" y2="661" stroke="#2a2a2a" stroke-width="0.9"/>
<line x1="744.6" y1="751.5" x2="744.6" y2="754.1" stroke="#2a2a2a" stroke-width="0.9"/>
<line x1="744.6" y1="844.4" x2="744.6" y2="848.2" stroke="#2a2a2a" stroke-width="1"/>
<text x="744.6" y="862" font-size="14.4" text-anchor="middle" fill="#0c0c0c">0.0</text>
<line x1="774.7" y1="658.4" x2="774.7" y2="661" stroke="#2a2a2a" stroke-width="0.9"/>
<line x1="774.7" y1="751.5" x2="774.7" y2="754.1" stroke="#2a2a2a" stroke-width="0.9"/>
<line x1="774.7" y1="844.4" x2="774.7" y2="846.8" stroke="#2a2a2a" stroke-width="1"/>
<line x1="804.8" y1="658.4" x2="804.8" y2="661" stroke="#2a2a2a" stroke-width="0.9"/>
<line x1="804.8" y1="751.5" x2="804.8" y2="754.1" stroke="#2a2a2a" stroke-width="0.9"/>
<line x1="804.8" y1="844.4" x2="804.8" y2="848.2" stroke="#2a2a2a" stroke-width="1"/>
<text x="804.8" y="862" font-size="14.4" text-anchor="middle" fill="#0c0c0c">2.5</text>
<line x1="834.9" y1="658.4" x2="834.9" y2="661" stroke="#2a2a2a" stroke-width="0.9"/>
<line x1="834.9" y1="751.5" x2="834.9" y2="754.1" stroke="#2a2a2a" stroke-width="0.9"/>
<line x1="834.9" y1="844.4" x2="834.9" y2="846.8" stroke="#2a2a2a" stroke-width="1"/>
<line x1="865" y1="658.4" x2="865" y2="661" stroke="#2a2a2a" stroke-width="0.9"/>
<line x1="865" y1="751.5" x2="865" y2="754.1" stroke="#2a2a2a" stroke-width="0.9"/>
<line x1="865" y1="844.4" x2="865" y2="848.2" stroke="#2a2a2a" stroke-width="1"/>
<text x="865" y="862" font-size="14.4" text-anchor="middle" fill="#0c0c0c">5.0</text>
<line x1="895.1" y1="658.4" x2="895.1" y2="661" stroke="#2a2a2a" stroke-width="0.9"/>
<line x1="895.1" y1="751.5" x2="895.1" y2="754.1" stroke="#2a2a2a" stroke-width="0.9"/>
<line x1="895.1" y1="844.4" x2="895.1" y2="846.8" stroke="#2a2a2a" stroke-width="1"/>
<line x1="925.2" y1="658.4" x2="925.2" y2="661" stroke="#2a2a2a" stroke-width="0.9"/>
<line x1="925.2" y1="751.5" x2="925.2" y2="754.1" stroke="#2a2a2a" stroke-width="0.9"/>
<line x1="925.2" y1="844.4" x2="925.2" y2="848.2" stroke="#2a2a2a" stroke-width="1"/>
<text x="925.2" y="862" font-size="14.4" text-anchor="middle" fill="#0c0c0c">7.5</text>
<text x="641" y="589.9" font-size="14.3" fill="#0c0c0c">4<tspan style="font-family:'Liberation Serif',serif" font-size="17.5">&#963;</tspan></text>
<text x="932.6" y="583.7" font-size="15.4" text-anchor="end" fill="#b94aa6">Free CO<tspan dy="3" font-size="68%">2</tspan><tspan dy="-3">&#8203;</tspan></text>
<text x="933.3" y="677.9" font-size="15.7" text-anchor="end" fill="#3546ae">*CO<tspan dy="3" font-size="68%">2</tspan><tspan dy="-3">&#8203;</tspan>@CTF-NSs</text>
<text x="933.3" y="770" font-size="15.7" text-anchor="end" fill="#e0222a">*CO<tspan dy="3" font-size="68%">2</tspan><tspan dy="-3">&#8203;</tspan>@Co<tspan dy="3" font-size="68%">1</tspan><tspan dy="-3">&#8203;</tspan>/CTF-NSs</text>
<text x="834.7" y="648.4" font-size="15.4" fill="#0c0c0c"><tspan style="font-family:'Liberation Serif',serif">&#960;</tspan>* (unocc)</text>
<text x="838" y="742.8" font-size="15.4" fill="#0c0c0c"><tspan style="font-family:'Liberation Serif',serif">&#960;</tspan>* (unocc)</text>
<text x="799.8" y="835.3" font-size="15.4" fill="#0c0c0c"><tspan style="font-family:'Liberation Serif',serif">&#960;</tspan>* (unocc)</text>
<text x="741.2" y="733.6" font-size="15.4" fill="#0c0c0c"><tspan style="font-family:'Liberation Serif',serif">&#960;</tspan>* (occ)</text>
<text x="728.7" y="828.4" font-size="15.4" fill="#0c0c0c"><tspan style="font-family:'Liberation Serif',serif">&#960;</tspan>* (occ)</text>
<text x="713.7" y="772" font-size="15.3" fill="#0c0c0c">Filling</text>
<text x="600.8" y="648.1" font-size="15.4" fill="#0c0c0c">iCOHP=-2.93</text>
<text x="598.5" y="730.8" font-size="15.4" fill="#0c0c0c">iCOHP=-2.92</text>
<text x="616.9" y="835.8" font-size="15.4" fill="#0c0c0c">iCOHP=-1.63</text>
<text x="630.4" y="780.9" font-size="15.5" fill="#2b9bd8" font-weight="bold">Left shift</text>
<line x1="674.7" y1="761.4" x2="642.8" y2="761.4" stroke="#2b9bd8" stroke-width="2"/><path d="M634.8 761.4 L643.8 757.8 L643.8 765.0 Z" fill="#2b9bd8"/>
<line x1="595.5" y1="641.5" x2="579.1" y2="641.5" stroke="#111" stroke-width="1.3"/><path d="M573.1 641.5 L580.1 638.9 L580.1 644.1 Z" fill="#111"/>
<line x1="592.9" y1="725.8" x2="586.9" y2="725.8" stroke="#111" stroke-width="1.3"/><path d="M581.9 725.8 L587.9 723.4 L587.9 728.2 Z" fill="#111"/>
<line x1="611.9" y1="830.8" x2="602.8" y2="830.8" stroke="#111" stroke-width="1.3"/><path d="M597.3 830.8 L603.8 828.2 L603.8 833.4 Z" fill="#111"/>
<line x1="745" y1="719.9" x2="725.8" y2="712.7" stroke="#111" stroke-width="2"/><path d="M718.3 709.9 L728.0 709.7 L725.5 716.4 Z" fill="#111"/>
<line x1="722.6" y1="778.9" x2="703.3" y2="792" stroke="#111" stroke-width="2"/><path d="M696.7 796.5 L702.1 788.5 L706.2 794.4 Z" fill="#111"/>
<line x1="729.5" y1="818.3" x2="711.9" y2="809.9" stroke="#111" stroke-width="2"/><path d="M704.7 806.5 L714.4 807.1 L711.3 813.6 Z" fill="#111"/>
<line x1="563.8" y1="643" x2="582.1" y2="627.6" stroke="#c01015" stroke-width="1.8"/>
<line x1="568.5" y1="639" x2="577.5" y2="631.5" stroke="#7a4a28" stroke-width="1.8"/>
<circle cx="563.8" cy="643" r="2.7" fill="url(#gO)"/>
<circle cx="582.1" cy="627.6" r="2.7" fill="url(#gO)"/>
<circle cx="572.8" cy="635.4" r="3" fill="url(#gC)"/>
<line x1="576.9" y1="725.8" x2="586.5" y2="713.9" stroke="#c01015" stroke-width="1.4"/>
<line x1="563.4" y1="730.8" x2="572.5" y2="732.2" stroke="#8a5a36" stroke-width="1.4"/>
<line x1="572.5" y1="732.2" x2="574.9" y2="743.8" stroke="#8a5a36" stroke-width="1.4"/>
<circle cx="586.5" cy="713.9" r="1.9" fill="url(#gO)"/>
<circle cx="576.9" cy="725.8" r="1.9" fill="url(#gO)"/>
<circle cx="581.6" cy="719.9" r="2" fill="url(#gC)"/>
<circle cx="563.4" cy="730.8" r="2.4" fill="url(#gC)"/>
<circle cx="574.9" cy="743.8" r="2.4" fill="url(#gC)"/>
<circle cx="572.5" cy="732.2" r="2.3" fill="url(#gN)"/>
<circle cx="560.5" cy="727.5" r="1.2" fill="url(#gH)"/>
<circle cx="561" cy="734" r="1.2" fill="url(#gH)"/>
<circle cx="572" cy="746.5" r="1.2" fill="url(#gH)"/>
<circle cx="578" cy="746.5" r="1.2" fill="url(#gH)"/>
<line x1="563.4" y1="813.9" x2="569.4" y2="826.4" stroke="#8a5a36" stroke-width="1.5"/>
<line x1="563.4" y1="837.8" x2="569.4" y2="826.4" stroke="#8a5a36" stroke-width="1.5"/>
<line x1="569.4" y1="826.4" x2="579.3" y2="827.2" stroke="#aab6e0" stroke-width="1.8"/>
<line x1="579.3" y1="827.2" x2="594.9" y2="822.8" stroke="#27309a" stroke-width="1.6"/>
<line x1="579.3" y1="827.2" x2="594.9" y2="836.8" stroke="#27309a" stroke-width="1.6"/>
<line x1="594.9" y1="822.8" x2="601.3" y2="813.3" stroke="#c01015" stroke-width="1.5"/>
<line x1="594.9" y1="822.8" x2="594.9" y2="836.8" stroke="#c01015" stroke-width="1.5"/>
<circle cx="563.4" cy="813.9" r="2.6" fill="url(#gC)"/>
<circle cx="563.4" cy="837.8" r="2.6" fill="url(#gC)"/>
<circle cx="569.4" cy="826.4" r="2.7" fill="url(#gN)"/>
<circle cx="594.9" cy="822.8" r="2.3" fill="url(#gC)"/>
<circle cx="601.3" cy="813.3" r="2.1" fill="url(#gO)"/>
<circle cx="594.9" cy="836.8" r="2.1" fill="url(#gO)"/>
<circle cx="560" cy="811" r="1.3" fill="url(#gH)"/>
<circle cx="560" cy="841" r="1.3" fill="url(#gH)"/>
<ellipse cx="579.3" cy="827.2" rx="3.6" ry="4.4" fill="url(#gCo)"/>
<text x="508.2" y="705.3" font-size="16.9" text-anchor="middle" fill="#0c0c0c" transform="rotate(-90 508.2 705.3)">-pCOHP</text>
<text x="701.2" y="879.7" font-size="16.4" fill="#0c0c0c">Energy (eV)</text>
<text x="498.5" y="558.7" font-size="22" fill="#0c0c0c">f</text></g>
<g id="pg"><linearGradient id="gblue" x1="0" x2="1" y1="0" y2="0"><stop offset="0" stop-color="#1c2466"/><stop offset="0.25" stop-color="#3246ae"/><stop offset="0.4" stop-color="#3a52bc"/><stop offset="0.6" stop-color="#3a52bc"/><stop offset="0.78" stop-color="#3044a8"/><stop offset="1" stop-color="#1c2466"/></linearGradient>
<linearGradient id="gred" x1="0" x2="1" y1="0" y2="0"><stop offset="0" stop-color="#7e1218"/><stop offset="0.22" stop-color="#de1a22"/><stop offset="0.35" stop-color="#ee1c24"/><stop offset="0.65" stop-color="#ee1c24"/><stop offset="0.8" stop-color="#d81a20"/><stop offset="1" stop-color="#7e1218"/></linearGradient>
<rect x="707" y="213.1" width="22.9" height="11.9" fill="url(#gblue)" stroke="none" stroke-width="1"/>
<rect x="729.9" y="213.1" width="23.7" height="11.9" fill="url(#gred)" stroke="none" stroke-width="1"/>
<rect x="794" y="189.1" width="23.3" height="35.9" fill="url(#gblue)" stroke="none" stroke-width="1"/>
<rect x="817.3" y="189.1" width="23.2" height="35.9" fill="url(#gred)" stroke="none" stroke-width="1"/>
<rect x="880.9" y="152.5" width="22.7" height="72.5" fill="url(#gblue)" stroke="none" stroke-width="1"/>
<rect x="903.6" y="92.1" width="23.4" height="132.9" fill="url(#gred)" stroke="none" stroke-width="1"/>
<rect x="696.6" y="31.7" width="240.4" height="193.3" fill="none" stroke="#2a2a2a" stroke-width="1"/>
<line x1="693.1" y1="43.5" x2="696.6" y2="43.5" stroke="#2a2a2a" stroke-width="1"/>
<text x="690.6" y="48.3" font-size="13.5" text-anchor="end" fill="#0c0c0c">1.30</text>
<line x1="693.1" y1="104" x2="696.6" y2="104" stroke="#2a2a2a" stroke-width="1"/>
<text x="690.6" y="108.8" font-size="13.5" text-anchor="end" fill="#0c0c0c">1.25</text>
<line x1="693.1" y1="164.5" x2="696.6" y2="164.5" stroke="#2a2a2a" stroke-width="1"/>
<text x="690.6" y="169.3" font-size="13.5" text-anchor="end" fill="#0c0c0c">1.20</text>
<line x1="693.1" y1="225" x2="696.6" y2="225" stroke="#2a2a2a" stroke-width="1"/>
<text x="690.6" y="229.8" font-size="13.5" text-anchor="end" fill="#0c0c0c">1.15</text>
<line x1="694.6" y1="73.8" x2="696.6" y2="73.8" stroke="#2a2a2a" stroke-width="1"/>
<line x1="694.6" y1="134.2" x2="696.6" y2="134.2" stroke="#2a2a2a" stroke-width="1"/>
<line x1="694.6" y1="194.7" x2="696.6" y2="194.7" stroke="#2a2a2a" stroke-width="1"/>
<line x1="736.7" y1="225" x2="736.7" y2="228.5" stroke="#2a2a2a" stroke-width="1"/>
<line x1="816.6" y1="225" x2="816.6" y2="228.5" stroke="#2a2a2a" stroke-width="1"/>
<line x1="896.8" y1="225" x2="896.8" y2="228.5" stroke="#2a2a2a" stroke-width="1"/>
<rect x="701.2" y="35.9" width="32.2" height="15.8" fill="url(#gblue)" stroke="none" stroke-width="1"/>
<rect x="701.2" y="56.9" width="32.2" height="15.7" fill="url(#gred)" stroke="none" stroke-width="1"/>
<text x="737.9" y="48.6" font-size="13.6" fill="#0c0c0c">C=O<tspan dy="3" font-size="68%">1</tspan><tspan dy="-3">&#8203;</tspan></text>
<text x="737.9" y="69.4" font-size="13.6" fill="#0c0c0c">C=O<tspan dy="3" font-size="68%">2</tspan><tspan dy="-3">&#8203;</tspan></text>
<text x="824" y="48.6" font-size="14.4" text-anchor="middle" fill="#0c0c0c">Efficient</text>
<text x="824.3" y="65.7" font-size="14.4" text-anchor="middle" fill="#0c0c0c">activation</text>
<text x="816.8" y="114.1" font-size="14.4" text-anchor="middle" fill="#0c0c0c">Poor</text>
<text x="815.8" y="131.7" font-size="14.4" text-anchor="middle" fill="#0c0c0c">activation</text>
<line x1="717" y1="212.3" x2="918" y2="212.3" stroke="#111" stroke-width="1.5" stroke-dasharray="5.5 3.7"/>
<line x1="777.3" y1="188.1" x2="819" y2="188.1" stroke="#111" stroke-width="1.5" stroke-dasharray="5.5 3.7"/>
<line x1="861" y1="91.4" x2="918" y2="91.4" stroke="#111" stroke-width="1.5" stroke-dasharray="6.5 7"/>
<line x1="779.8" y1="194.2" x2="779.8" y2="206.6" stroke="#111" stroke-width="1.1"/><path d="M779.8 189.2 L782.1 195.2 L777.5 195.2 Z" fill="#111"/><path d="M779.8 211.6 L782.1 205.6 L777.5 205.6 Z" fill="#111"/>
<line x1="864.7" y1="98.5" x2="864.7" y2="205.3" stroke="#111" stroke-width="1.1"/><path d="M864.7 92.5 L867.2 99.5 L862.2 99.5 Z" fill="#111"/><path d="M864.7 211.3 L867.2 204.3 L862.2 204.3 Z" fill="#111"/>
<text x="728.2" y="207.6" font-size="13" text-anchor="middle" fill="#0c0c0c">1.16</text>
<text x="814" y="183.9" font-size="13" text-anchor="middle" fill="#0c0c0c">1.18</text>
<text x="887.9" y="149.2" font-size="13" text-anchor="middle" fill="#0c0c0c">1.21</text>
<text x="915.1" y="90.4" font-size="13" text-anchor="middle" fill="#0c0c0c">1.26</text>
<line x1="710.5" y1="185.2" x2="724" y2="185.2" stroke="#e8151a" stroke-width="2.2"/>
<line x1="724" y1="185.2" x2="737.4" y2="185.2" stroke="#7c7c7c" stroke-width="2.2"/>
<line x1="710.5" y1="182.1" x2="724" y2="182.1" stroke="#e8151a" stroke-width="2.2"/>
<line x1="724" y1="182.1" x2="737.4" y2="182.1" stroke="#7c7c7c" stroke-width="2.2"/>
<line x1="737.4" y1="185.2" x2="751.1" y2="185.2" stroke="#7c7c7c" stroke-width="2.2"/>
<line x1="751.1" y1="185.2" x2="764.9" y2="185.2" stroke="#e8151a" stroke-width="2.2"/>
<line x1="737.4" y1="182.1" x2="751.1" y2="182.1" stroke="#7c7c7c" stroke-width="2.2"/>
<line x1="751.1" y1="182.1" x2="764.9" y2="182.1" stroke="#e8151a" stroke-width="2.2"/>
<circle cx="710.5" cy="183.7" r="7.8" fill="url(#gR)"/>
<circle cx="764.9" cy="183.7" r="7.8" fill="url(#gR)"/>
<circle cx="737.4" cy="183.7" r="8.3" fill="url(#gG)"/>
<line x1="789.3" y1="164" x2="803" y2="164" stroke="#e8151a" stroke-width="2.2"/>
<line x1="803" y1="164" x2="816.8" y2="164" stroke="#7c7c7c" stroke-width="2.2"/>
<line x1="789.3" y1="160.8" x2="803" y2="160.8" stroke="#e8151a" stroke-width="2.2"/>
<line x1="803" y1="160.8" x2="816.8" y2="160.8" stroke="#7c7c7c" stroke-width="2.2"/>
<line x1="816.8" y1="164" x2="830.8" y2="164" stroke="#7c7c7c" stroke-width="2.2"/>
<line x1="830.8" y1="164" x2="844.7" y2="164" stroke="#e8151a" stroke-width="2.2"/>
<line x1="816.8" y1="160.8" x2="830.8" y2="160.8" stroke="#7c7c7c" stroke-width="2.2"/>
<line x1="830.8" y1="160.8" x2="844.7" y2="160.8" stroke="#e8151a" stroke-width="2.2"/>
<circle cx="789.3" cy="162.4" r="7.8" fill="url(#gR)"/>
<circle cx="844.7" cy="162.4" r="7.8" fill="url(#gR)"/>
<circle cx="816.8" cy="162.4" r="8.3" fill="url(#gG)"/>
<line x1="868.5" y1="60.9" x2="882.2" y2="65.1" stroke="#e8151a" stroke-width="2.2"/>
<line x1="882.2" y1="65.1" x2="895.9" y2="69.4" stroke="#7c7c7c" stroke-width="2.2"/>
<line x1="869.5" y1="57.9" x2="883.2" y2="62.2" stroke="#e8151a" stroke-width="2.2"/>
<line x1="883.2" y1="62.2" x2="896.9" y2="66.4" stroke="#7c7c7c" stroke-width="2.2"/>
<line x1="896.9" y1="69.4" x2="909.9" y2="65.1" stroke="#7c7c7c" stroke-width="2.2"/>
<line x1="909.9" y1="65.1" x2="922.9" y2="60.9" stroke="#e8151a" stroke-width="2.2"/>
<line x1="895.9" y1="66.4" x2="908.9" y2="62.2" stroke="#7c7c7c" stroke-width="2.2"/>
<line x1="908.9" y1="62.2" x2="921.9" y2="57.9" stroke="#e8151a" stroke-width="2.2"/>
<circle cx="869" cy="59.4" r="8" fill="url(#gR)"/>
<circle cx="922.4" cy="59.4" r="8" fill="url(#gR)"/>
<circle cx="896.4" cy="67.9" r="8.5" fill="url(#gG)"/>
<text x="737.9" y="168.7" font-size="11.6" text-anchor="middle" fill="#0c0c0c" font-weight="bold">180&#176;</text>
<text x="817.3" y="147" font-size="11.6" text-anchor="middle" fill="#0c0c0c" font-weight="bold">179&#176;</text>
<text x="895.7" y="43.5" font-size="11.6" text-anchor="middle" fill="#0c0c0c" font-weight="bold">145&#176;</text>
<path d="M710.5 175.5 Q716 169 724 166.3" fill="none" stroke="#222" stroke-width="0.9"/><path d="M751.5 166.3 Q760 169 765 175.5" fill="none" stroke="#222" stroke-width="0.9"/>
<path d="M789.5 154.2 Q795 147.5 803.5 144.8" fill="none" stroke="#222" stroke-width="0.9"/><path d="M831 144.8 Q839.5 147.5 844.5 154.2" fill="none" stroke="#222" stroke-width="0.9"/>
<path d="M869 49.2 Q874.5 43.5 882 41" fill="none" stroke="#222" stroke-width="0.9"/><path d="M910.4 41 Q917 43.5 921.9 49.2" fill="none" stroke="#222" stroke-width="0.9"/>
<text x="859.5" y="78.4" font-size="12.5" fill="#0c0c0c">O<tspan dy="3" font-size="68%">2</tspan><tspan dy="-3">&#8203;</tspan></text>
<text x="921.5" y="78.4" font-size="12.5" fill="#0c0c0c">O<tspan dy="3" font-size="68%">1</tspan><tspan dy="-3">&#8203;</tspan></text>
<text x="710.2" y="251.2" font-size="14.4" fill="#0c0c0c" transform="rotate(-15.8 710.2 251.2)">Free CO<tspan dy="3" font-size="68%">2</tspan><tspan dy="-3">&#8203;</tspan></text>
<text x="750.2" y="264" font-size="14.4" fill="#0c0c0c" transform="rotate(-15.8 750.2 264)">*CO<tspan dy="3" font-size="68%">2</tspan><tspan dy="-3">&#8203;</tspan>@CTF-NSs</text>
<text x="808.7" y="270.8" font-size="14.4" fill="#0c0c0c" transform="rotate(-15.8 808.7 270.8)">*CO<tspan dy="3" font-size="68%">2</tspan><tspan dy="-3">&#8203;</tspan>@Co<tspan dy="3" font-size="68%">1</tspan><tspan dy="-3">&#8203;</tspan>/CTF-NSs</text>
<text x="655.9" y="129" font-size="16.4" text-anchor="middle" fill="#0c0c0c" transform="rotate(-90 655.9 129)">Length of C=O<tspan dy="3" font-size="68%">1</tspan><tspan dy="-3">&#8203;</tspan>/O<tspan dy="3" font-size="68%">2</tspan><tspan dy="-3">&#8203;</tspan> bond (&#197;)</text>
<text x="650.8" y="19.4" font-size="22" fill="#0c0c0c">g</text></g>
<g id="ph"><linearGradient id="hred" x1="0" x2="1" y1="0" y2="0"><stop offset="0" stop-color="#7e1218"/><stop offset="0.22" stop-color="#de1a22"/><stop offset="0.35" stop-color="#ee1c24"/><stop offset="0.65" stop-color="#ee1c24"/><stop offset="0.8" stop-color="#d81a20"/><stop offset="1" stop-color="#7e1218"/></linearGradient>
<linearGradient id="hblue" x1="0" x2="1" y1="0" y2="0"><stop offset="0" stop-color="#1c2466"/><stop offset="0.25" stop-color="#3246ae"/><stop offset="0.4" stop-color="#3a52bc"/><stop offset="0.6" stop-color="#3a52bc"/><stop offset="0.78" stop-color="#3044a8"/><stop offset="1" stop-color="#1c2466"/></linearGradient>
<linearGradient id="cbar" x1="0" x2="0" y1="0" y2="1"><stop offset="0" stop-color="#e8201c"/><stop offset="0.1" stop-color="#f06a18"/><stop offset="0.23" stop-color="#f4e81c"/><stop offset="0.4" stop-color="#5cb832"/><stop offset="0.62" stop-color="#36a848"/><stop offset="0.8" stop-color="#30bce8"/><stop offset="0.92" stop-color="#3a6cc4"/><stop offset="1" stop-color="#3048a8"/></linearGradient>
<linearGradient id="esp" x1="0" x2="1" y1="0" y2="0"><stop offset="0" stop-color="#3444a4"/><stop offset="0.1" stop-color="#3a5cbc"/><stop offset="0.25" stop-color="#30b0e6"/><stop offset="0.33" stop-color="#34b4c0"/><stop offset="0.385" stop-color="#3cb44a"/><stop offset="0.425" stop-color="#e4e428"/><stop offset="0.455" stop-color="#ee4422"/><stop offset="0.5" stop-color="#ea3228"/><stop offset="0.545" stop-color="#ee4422"/><stop offset="0.575" stop-color="#e4e428"/><stop offset="0.615" stop-color="#3cb44a"/><stop offset="0.67" stop-color="#34b4c0"/><stop offset="0.75" stop-color="#30b0e6"/><stop offset="0.9" stop-color="#3a5cbc"/><stop offset="1" stop-color="#3444a4"/></linearGradient>
<radialGradient id="shade" cx="0.5" cy="0.5" r="0.5"><stop offset="0.75" stop-color="#1a2470" stop-opacity="0"/><stop offset="1" stop-color="#1a2470" stop-opacity="0.35"/></radialGradient>
<rect x="775.4" y="464.4" width="24" height="18.1" fill="url(#hred)" stroke="none" stroke-width="1"/>
<rect x="800.2" y="481.2" width="22.3" height="1.3" fill="#2a3590" stroke="none" stroke-width="1"/>
<rect x="861.2" y="346" width="24.2" height="136.5" fill="url(#hred)" stroke="none" stroke-width="1"/>
<rect x="886.1" y="349.3" width="21.9" height="133.2" fill="url(#hblue)" stroke="none" stroke-width="1"/>
<line x1="696.4" y1="288.3" x2="937.2" y2="288.3" stroke="#555" stroke-width="1"/>
<line x1="696.4" y1="482.5" x2="937.2" y2="482.5" stroke="#333" stroke-width="1.1"/>
<line x1="696.4" y1="288.3" x2="696.4" y2="482.5" stroke="#e23a42" stroke-width="1.1"/>
<line x1="937.2" y1="288.3" x2="937.2" y2="482.5" stroke="#3d47a8" stroke-width="1.1"/>
<line x1="692.4" y1="482.5" x2="696.4" y2="482.5" stroke="#e23a42" stroke-width="1"/>
<text x="689.9" y="487.3" font-size="13.5" text-anchor="end" fill="#e23a42">0.0</text>
<line x1="692.4" y1="425.4" x2="696.4" y2="425.4" stroke="#e23a42" stroke-width="1"/>
<text x="689.9" y="430.2" font-size="13.5" text-anchor="end" fill="#e23a42">0.5</text>
<line x1="692.4" y1="368.3" x2="696.4" y2="368.3" stroke="#e23a42" stroke-width="1"/>
<text x="689.9" y="373.1" font-size="13.5" text-anchor="end" fill="#e23a42">1.0</text>
<line x1="692.4" y1="311.2" x2="696.4" y2="311.2" stroke="#e23a42" stroke-width="1"/>
<text x="689.9" y="316" font-size="13.5" text-anchor="end" fill="#e23a42">1.5</text>
<line x1="694" y1="453.9" x2="696.4" y2="453.9" stroke="#e23a42" stroke-width="1"/>
<line x1="694" y1="396.9" x2="696.4" y2="396.9" stroke="#e23a42" stroke-width="1"/>
<line x1="694" y1="339.8" x2="696.4" y2="339.8" stroke="#e23a42" stroke-width="1"/>
<line x1="937.2" y1="482.5" x2="941" y2="482.5" stroke="#3d47a8" stroke-width="1"/>
<text x="943.4" y="487.3" font-size="13.5" fill="#3d47a8">0</text>
<line x1="937.2" y1="417.8" x2="941" y2="417.8" stroke="#3d47a8" stroke-width="1"/>
<text x="943.4" y="422.6" font-size="13.5" fill="#3d47a8">10</text>
<line x1="937.2" y1="353" x2="941" y2="353" stroke="#3d47a8" stroke-width="1"/>
<text x="943.4" y="357.8" font-size="13.5" fill="#3d47a8">20</text>
<line x1="937.2" y1="288.2" x2="941" y2="288.2" stroke="#3d47a8" stroke-width="1"/>
<text x="943.4" y="293.1" font-size="13.5" fill="#3d47a8">30</text>
<line x1="937.2" y1="450.1" x2="939.4" y2="450.1" stroke="#3d47a8" stroke-width="1"/>
<line x1="937.2" y1="385.4" x2="939.4" y2="385.4" stroke="#3d47a8" stroke-width="1"/>
<line x1="937.2" y1="320.6" x2="939.4" y2="320.6" stroke="#3d47a8" stroke-width="1"/>
<line x1="712.4" y1="482.5" x2="712.4" y2="486" stroke="#333" stroke-width="1"/>
<line x1="799.1" y1="482.5" x2="799.1" y2="486" stroke="#333" stroke-width="1"/>
<line x1="884.5" y1="482.5" x2="884.5" y2="486" stroke="#333" stroke-width="1"/>
<rect x="699.3" y="292" width="29.8" height="14.3" fill="url(#hred)" stroke="none" stroke-width="1"/>
<rect x="699.3" y="311.1" width="29.8" height="14.7" fill="url(#hblue)" stroke="none" stroke-width="1"/>
<text x="733.4" y="304" font-size="13.7" fill="#0c0c0c">Dipole moment</text>
<text x="733.4" y="323.1" font-size="13.7" fill="#0c0c0c">P (<tspan style="font-family:'Liberation Serif',serif">&#960;</tspan>*)</text>
<rect x="702.5" y="340.4" width="6.7" height="71.3" fill="url(#cbar)" stroke="none" stroke-width="1"/>
<text x="713.2" y="345.2" font-size="10.8" fill="#0c0c0c">0.01 eV</text>
<text x="713.2" y="415.4" font-size="10.8" fill="#0c0c0c">-0.05 eV</text>
<path d="M710.2 441.3 C718.5 441.3 716.9 442.1 722.9 442.1 C728.9 442.1 727.3 441.3 735.6 441.3 A11.9 11.9 0 0 1 735.6 465.1 C727.3 465.1 728.9 464.3 722.9 464.3 C716.9 464.3 718.5 465.1 710.2 465.1 A11.9 11.9 0 0 1 710.2 441.3 Z" fill="url(#esp)"/>
<line x1="709.5" y1="453.2" x2="736" y2="453.2" stroke="#d8d0a0" stroke-width="0.9"/>
<circle cx="709.5" cy="453.2" r="2.2" fill="#9a90d0" stroke="#a050b0" stroke-width="0.9"/>
<circle cx="722.7" cy="453.2" r="2.2" fill="#e88890" stroke="#a050b0" stroke-width="0.9"/>
<circle cx="736" cy="453.2" r="2.2" fill="#9a90d0" stroke="#a050b0" stroke-width="0.9"/>
<path d="M784 422.6 C792.3 422.6 790.8 423.4 796.7 423.4 C802.7 423.4 801.1 422.6 809.4 422.6 A11.9 11.9 0 0 1 809.4 446.4 C801.1 446.4 802.7 445.6 796.7 445.6 C790.8 445.6 792.3 446.4 784 446.4 A11.9 11.9 0 0 1 784 422.6 Z" fill="url(#esp)"/>
<line x1="783.4" y1="434.5" x2="809.8" y2="434.5" stroke="#d8d0a0" stroke-width="0.9"/>
<circle cx="783.4" cy="434.5" r="2.2" fill="#9a90d0" stroke="#a050b0" stroke-width="0.9"/>
<circle cx="796.7" cy="434.5" r="2.2" fill="#e88890" stroke="#a050b0" stroke-width="0.9"/>
<circle cx="809.8" cy="434.5" r="2.2" fill="#9a90d0" stroke="#a050b0" stroke-width="0.9"/>
<linearGradient id="esp3" gradientUnits="userSpaceOnUse" x1="859.4" x2="911.1" y1="0" y2="0"><stop offset="0" stop-color="#3444a4"/><stop offset="0.12" stop-color="#3a5cbc"/><stop offset="0.27" stop-color="#30b4e8"/><stop offset="0.36" stop-color="#34b4b0"/><stop offset="0.41" stop-color="#38b048"/><stop offset="0.465" stop-color="#d8e030"/><stop offset="0.5" stop-color="#f4e428"/><stop offset="0.535" stop-color="#d8e030"/><stop offset="0.59" stop-color="#38b048"/><stop offset="0.64" stop-color="#34b4b0"/><stop offset="0.73" stop-color="#30b4e8"/><stop offset="0.88" stop-color="#3a5cbc"/><stop offset="1" stop-color="#3444a4"/></linearGradient>
<radialGradient id="esp3r" gradientUnits="userSpaceOnUse" cx="884.9" cy="331" r="17" gradientTransform="translate(884.9 331) scale(0.5 1) translate(-884.9 -331)"><stop offset="0" stop-color="#e82820"/><stop offset="0.5" stop-color="#ec3a20"/><stop offset="0.72" stop-color="#f0a020" stop-opacity="0.8"/><stop offset="1" stop-color="#f4e428" stop-opacity="0"/></radialGradient>
<clipPath id="c3"><path d="M872 300.8 C878.5 300.8 881 305 884.9 305 C889 305 891.5 300.8 898 300.8 C905.5 300.8 911.1 306 911.1 312.3 C911.1 319 905.5 322.8 899.5 324.2 C894 325.5 890 328.4 884.9 328.4 C880 328.4 876 325.5 870.5 324.2 C864.5 322.8 859.4 319 859.4 312.3 C859.4 306 865 300.8 872 300.8 Z"/></clipPath>
<path d="M872 300.8 C878.5 300.8 881 305 884.9 305 C889 305 891.5 300.8 898 300.8 C905.5 300.8 911.1 306 911.1 312.3 C911.1 319 905.5 322.8 899.5 324.2 C894 325.5 890 328.4 884.9 328.4 C880 328.4 876 325.5 870.5 324.2 C864.5 322.8 859.4 319 859.4 312.3 C859.4 306 865 300.8 872 300.8 Z" fill="url(#esp3)"/>
<rect x="859" y="300" width="53" height="30" fill="url(#esp3r)" clip-path="url(#c3)"/>
<path d="M871.3 312.7 L884.7 316.9 L899.3 312.7" fill="none" stroke="#c8d8b0" stroke-width="0.9"/>
<circle cx="871.3" cy="312.7" r="2.4" fill="#70a8e0" stroke="#9050b0" stroke-width="0.9"/>
<circle cx="899.3" cy="312.7" r="2.4" fill="#70a8e0" stroke="#9050b0" stroke-width="0.9"/>
<circle cx="884.7" cy="316.9" r="2.8" fill="#f4c090" stroke="#d07060" stroke-width="0.9"/>
<text x="705.6" y="478.2" font-size="13.6" text-anchor="middle" fill="#0c0c0c">0</text>
<text x="720.9" y="478.2" font-size="13.6" text-anchor="middle" fill="#0c0c0c">0</text>
<text x="784.6" y="459.4" font-size="14.3" text-anchor="middle" fill="#0c0c0c">0.16</text>
<text x="820.8" y="475" font-size="14.2" text-anchor="middle" fill="#0c0c0c">0.18%</text>
<text x="869" y="341.6" font-size="14.3" text-anchor="middle" fill="#0c0c0c">1.2</text>
<text x="904.8" y="344.3" font-size="14.2" text-anchor="middle" fill="#0c0c0c">20.6%</text>
<text x="661.7" y="386.5" font-size="15.4" text-anchor="middle" fill="#e23a42" transform="rotate(-90 661.7 386.5)">Dipole moment (D)</text>
<text x="974.6" y="385" font-size="15.9" text-anchor="middle" fill="#3d47a8" transform="rotate(-90 974.6 385)">Ratio of electron filling into the</text>
<text x="994.3" y="376.5" font-size="15.9" text-anchor="middle" fill="#3d47a8" transform="rotate(-90 994.3 376.5)"><tspan style="font-family:'Liberation Serif',serif">&#960;</tspan> antibonding orbital (%)</text>
<text x="682.6" y="507.1" font-size="14.5" fill="#0c0c0c" transform="rotate(-15.8 682.6 507.1)">Free CO<tspan dy="3" font-size="68%">2</tspan><tspan dy="-3">&#8203;</tspan></text>
<text x="735" y="519.8" font-size="14.5" fill="#0c0c0c" transform="rotate(-15.6 735 519.8)">*CO<tspan dy="3" font-size="68%">2</tspan><tspan dy="-3">&#8203;</tspan>@CTF-NSs</text>
<text x="795.9" y="526.8" font-size="14.5" fill="#0c0c0c" transform="rotate(-15.7 795.9 526.8)">*CO<tspan dy="3" font-size="68%">2</tspan><tspan dy="-3">&#8203;</tspan>@Co<tspan dy="3" font-size="68%">1</tspan><tspan dy="-3">&#8203;</tspan>/CTF-NSs</text>
<text x="658.5" y="283" font-size="22" fill="#0c0c0c">h</text></g>
<rect x="0" y="881.7" width="1002" height="1.3" fill="#d0d0d0"/>
</svg>
</body></html>
